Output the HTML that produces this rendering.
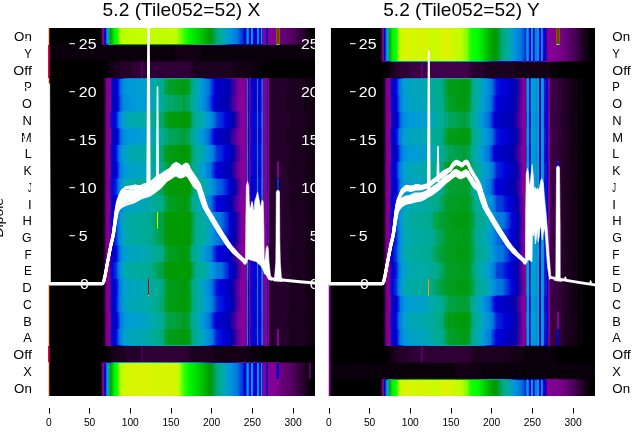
<!DOCTYPE html>
<html><head><meta charset="utf-8"><title>chart</title>
<style>
html,body{margin:0;padding:0;background:#fff}
body{width:640px;height:440px;position:relative;overflow:hidden;font-family:"Liberation Sans",sans-serif;color:#000}
.hm{position:absolute;width:267px;height:368px;overflow:hidden;background:#000}
.hm i{position:absolute;left:0;width:267px;display:block}
svg{position:absolute;left:0;top:0}
.t{position:absolute;white-space:nowrap;line-height:1}
</style></head><body>
<div class="hm" style="left:48px;top:28px"><i style="top:0px;height:16px;background:linear-gradient(90deg,#e4f100 0.5px,#7d008e 1.5px,#000 2.5px,#000 52.5px,#25002b 53.5px,#708 54.5px,#860097 55.5px,#0d00a8 56.5px,#00d 57.5px,#0078dd 58.5px,#0098dd 59.5px,#00aaa0 60.5px,#009f00 62.5px,#00f700 66.5px,#0f0 67.5px,#0fff00 68.5px,#0fff00 69.5px,#58ff00 70.5px,#93ff00 71.5px,#b0ff00 72.5px,#b0ff00 73.5px,#bcff00 74.5px,#bcff00 78.5px,#c4fc00 84.5px,#c4fc00 102.5px,#c0fd00 106.5px,#bcff00 108.5px,#c0fd00 112.5px,#c0fd00 116.5px,#c4fc00 120.5px,#c4fc00 124.5px,#bcff00 128.5px,#b0ff00 129.5px,#93ff00 130.5px,#75ff00 132.5px,#75ff00 133.5px,#58ff00 134.5px,#49ff00 135.5px,#2cff00 136.5px,#2cff00 137.5px,#00fc00 140.5px,#00bc00 155.5px,#009c00 161.5px,#009a08 162.5px,#009d1d 163.5px,#009e28 164.5px,#00a13d 165.5px,#00a248 166.5px,#0a8 169.5px,#00aaa8 175.5px,#009bd7 180.5px,#0095dd 182.5px,#0078dd 189.5px,#0067dd 190.5px,#005ddd 191.5px,#004bdd 192.5px,#0038dd 194.5px,#001cdd 195.5px,#0000d5 196.5px,#0000c5 197.5px,#005ddd 198.5px,#0098dd 199.5px,#0078dd 200.5px,#00d 201.5px,#00d 202.5px,#0098dd 203.5px,#0092dd 204.5px,#00d 205.5px,#00d 208.5px,#0098dd 209.5px,#08d 210.5px,#00d 211.5px,#00d 212.5px,#0098dd 213.5px,#0038dd 214.5px,#870098 215.5px,#860097 217.5px,#3800a3 218.5px,#0000c9 219.5px,#850096 220.5px,#820093 227.5px,#009f00 228.5px,#f10000 229.5px,#f10000 230.5px,#009d1d 231.5px,#700080 232.5px,#670075 233.5px,#670075 237.5px,#5d006b 238.5px,#5d006b 241.5px,#540060 242.5px,#540060 244.5px,#4b0055 245.5px,#4b0055 247.5px,#41004b 248.5px,#41004b 249.5px,#380040 250.5px,#380040 251.5px,#2f0035 252.5px,#2f0035 254.5px,#25002b 255.5px,#25002b 256.5px,#1c0020 257.5px,#1c0020 258.5px,#130015 259.5px,#130015 260.5px,#09000b 261.5px,#09000b 262.5px,#000 263.5px,#000 266.5px)"></i><i style="top:16px;height:1px;background:linear-gradient(90deg,#f9d700 0.5px,#7d008e 1.5px,#000 2.5px,#000 52.5px,#1c0020 53.5px,#5d006b 54.5px,#7e008f 55.5px,#6d009c 56.5px,#0d00a8 57.5px,#0000cd 58.5px,#002fdd 59.5px,#0082dd 60.5px,#009bd7 61.5px,#00a6b7 62.5px,#00aa95 64.5px,#00a773 65.5px,#00a13d 66.5px,#009d1d 67.5px,#009d1d 68.5px,#009b13 69.5px,#009c00 70.5px,#00a700 72.5px,#00af00 91.5px,#00ac00 115.5px,#00ac00 127.5px,#009a00 135.5px,#009a08 136.5px,#009a08 137.5px,#00a353 144.5px,#00a668 145.5px,#0a8 148.5px,#00aaa5 157.5px,#009fcb 164.5px,#0098dd 168.5px,#0082dd 174.5px,#0078dd 176.5px,#0054dd 178.5px,#004bdd 179.5px,#0038dd 180.5px,#001cdd 183.5px,#0009dd 184.5px,#00d 185.5px,#0000bd 193.5px,#0000ad 195.5px,#1800a7 196.5px,#3800a3 197.5px,#0000c5 198.5px,#002fdd 199.5px,#0000cd 200.5px,#0d00a8 201.5px,#0d00a8 202.5px,#002fdd 203.5px,#001cdd 204.5px,#0d00a8 205.5px,#0d00a8 208.5px,#002fdd 209.5px,#00d 210.5px,#0d00a8 211.5px,#0d00a8 212.5px,#002fdd 213.5px,#0000b9 214.5px,#7e008f 215.5px,#7e008f 217.5px,#870098 218.5px,#2d00a4 219.5px,#7d008e 220.5px,#7b008c 227.5px,#00a6b7 228.5px,#84ff00 229.5px,#84ff00 230.5px,#00a0c7 231.5px,#540060 232.5px,#540060 233.5px,#4b0055 234.5px,#4b0055 239.5px,#41004b 240.5px,#41004b 244.5px,#380040 245.5px,#380040 248.5px,#2f0035 249.5px,#2f0035 251.5px,#25002b 252.5px,#25002b 254.5px,#1c0020 255.5px,#1c0020 257.5px,#130015 258.5px,#130015 260.5px,#09000b 261.5px,#09000b 263.5px,#000 264.5px,#000 266.5px)"></i><i style="top:17px;height:16px;background:linear-gradient(90deg,#fe0000 0.5px,#7d008e 1.5px,#09000b 2.5px,#09000b 126.5px,#130015 127.5px,#130015 152.5px,#09000b 153.5px,#09000b 266.5px)"></i><i style="top:33px;height:1px;background:linear-gradient(90deg,#fe0000 0.5px,#7d008e 1.5px,#000 2.5px,#000 58.5px,#09000b 59.5px,#09000b 62.5px,#130015 63.5px,#130015 71.5px,#1c0020 72.5px,#1c0020 92.5px,#2f0035 93.5px,#2f0035 94.5px,#1c0020 95.5px,#1c0020 127.5px,#25002b 128.5px,#25002b 139.5px,#1c0020 140.5px,#1c0020 145.5px,#130015 146.5px,#130015 202.5px,#09000b 203.5px,#09000b 219.5px,#000 220.5px,#000 266.5px)"></i><i style="top:34px;height:16px;background:linear-gradient(90deg,#fe0000 0.5px,#7d008e 1.5px,#000 2.5px,#000 59.5px,#09000b 60.5px,#09000b 61.5px,#130015 62.5px,#130015 65.5px,#1c0020 66.5px,#1c0020 71.5px,#25002b 72.5px,#25002b 83.5px,#2f0035 84.5px,#2f0035 92.5px,#4b0055 93.5px,#4b0055 94.5px,#2f0035 95.5px,#2f0035 141.5px,#25002b 142.5px,#25002b 144.5px,#1c0020 145.5px,#1c0020 186.5px,#130015 187.5px,#130015 204.5px,#09000b 205.5px,#09000b 214.5px,#000 215.5px,#000 266.5px)"></i><i style="top:50px;height:1px;background:linear-gradient(90deg,#f5df00 0.5px,#7d008e 1.5px,#000 2.5px,#000 54.5px,#09000b 55.5px,#41004b 57.5px,#670075 58.5px,#79008a 59.5px,#850096 62.5px,#4d00a0 63.5px,#2300a6 64.5px,#0d00a8 65.5px,#0300aa 66.5px,#0000b1 68.5px,#0000d5 71.5px,#0009dd 72.5px,#002fdd 74.5px,#0067dd 76.5px,#0067dd 78.5px,#0078dd 80.5px,#007ddd 85.5px,#007ddd 91.5px,#0085dd 99.5px,#008ddd 103.5px,#009adb 107.5px,#00a2c3 113.5px,#00a3bf 115.5px,#00aaab 117.5px,#00aaa3 121.5px,#00aaa3 128.5px,#00aa9d 136.5px,#00aaa5 141.5px,#00aaab 142.5px,#00a0c7 144.5px,#009cd3 146.5px,#0098dd 147.5px,#007add 153.5px,#0067dd 155.5px,#001cdd 159.5px,#0000d9 162.5px,#0000ad 168.5px,#0300aa 171.5px,#0d00a8 172.5px,#0d00a8 173.5px,#1800a7 174.5px,#1800a7 175.5px,#2d00a4 177.5px,#2d00a4 179.5px,#4300a2 181.5px,#58009f 182.5px,#83009a 186.5px,#860097 188.5px,#7e008f 198.5px,#0025dd 199.5px,#0000b1 200.5px,#7e008f 201.5px,#83009a 202.5px,#0300aa 203.5px,#0000ad 208.5px,#002fdd 209.5px,#0000bd 210.5px,#0300aa 211.5px,#0000ad 212.5px,#0000d5 213.5px,#0009dd 214.5px,#7e008f 215.5px,#7e008f 218.5px,#78009b 219.5px,#7d008e 220.5px,#1c0020 221.5px,#1c0020 245.5px,#130015 246.5px,#130015 263.5px,#09000b 264.5px,#09000b 266.5px)"></i><i style="top:51px;height:15px;background:linear-gradient(90deg,#e4f100 0.5px,#7d008e 1.5px,#000 2.5px,#000 54.5px,#130015 55.5px,#4b0055 57.5px,#708 58.5px,#860097 61.5px,#78009b 62.5px,#0d00a8 63.5px,#0000bd 64.5px,#0000d5 68.5px,#0009dd 69.5px,#0025dd 70.5px,#0070dd 72.5px,#008ddd 75.5px,#009adb 80.5px,#009cd3 84.5px,#009cd3 89.5px,#009ecf 93.5px,#00a0c7 98.5px,#00a4bb 102.5px,#00aaab 104.5px,#00aa8d 113.5px,#0a8 115.5px,#00a248 117.5px,#00a248 118.5px,#00a13d 119.5px,#009e28 120.5px,#009e28 122.5px,#009f33 123.5px,#009f33 124.5px,#009d1d 125.5px,#009d1d 126.5px,#009e28 127.5px,#009d1d 128.5px,#009d1d 129.5px,#009b13 130.5px,#009d1d 131.5px,#009d1d 132.5px,#009b13 133.5px,#009b13 137.5px,#009d1d 138.5px,#009d1d 140.5px,#009e28 141.5px,#00a97d 143.5px,#00aa8d 144.5px,#00aaa8 148.5px,#00a7b3 149.5px,#00a6b7 150.5px,#009bd7 153.5px,#0090dd 156.5px,#0078dd 160.5px,#0067dd 161.5px,#005ddd 162.5px,#0041dd 163.5px,#0009dd 166.5px,#0000d5 167.5px,#0000c9 169.5px,#0000c1 174.5px,#0000b5 178.5px,#0000b1 180.5px,#0300aa 181.5px,#1800a7 182.5px,#4300a2 186.5px,#58009f 187.5px,#83009a 191.5px,#860097 193.5px,#830094 198.5px,#0080dd 199.5px,#0000d5 200.5px,#830094 201.5px,#4300a2 202.5px,#0000cd 203.5px,#0000d1 207.5px,#0000cd 208.5px,#0082dd 209.5px,#0009dd 210.5px,#0000cd 211.5px,#0000cd 212.5px,#0054dd 213.5px,#0070dd 214.5px,#830094 215.5px,#830094 218.5px,#4300a2 219.5px,#810092 220.5px,#25002b 221.5px,#25002b 238.5px,#1c0020 239.5px,#1c0020 256.5px,#130015 257.5px,#130015 266.5px)"></i><i style="top:66px;height:1px;background:linear-gradient(90deg,#e4f100 0.5px,#7d008e 1.5px,#000 2.5px,#000 54.5px,#130015 55.5px,#4b0055 57.5px,#708 58.5px,#860097 61.5px,#78009b 62.5px,#0d00a8 63.5px,#0000bd 64.5px,#0000d5 68.5px,#0009dd 69.5px,#0025dd 70.5px,#0070dd 72.5px,#0092dd 76.5px,#009bd7 83.5px,#009cd3 87.5px,#009fcb 97.5px,#00a6b7 103.5px,#00aaa5 106.5px,#00aa90 113.5px,#00aa8b 115.5px,#00a668 116.5px,#00a353 117.5px,#00a353 118.5px,#00a248 119.5px,#009f33 120.5px,#009e28 121.5px,#009f33 122.5px,#009f33 124.5px,#009e28 125.5px,#009e28 128.5px,#009d1d 129.5px,#009d1d 133.5px,#009b13 134.5px,#009b13 136.5px,#009d1d 137.5px,#009d1d 139.5px,#009f33 141.5px,#00a353 142.5px,#00a97d 143.5px,#00aa8d 144.5px,#00a6b7 150.5px,#009bd7 153.5px,#0095dd 155.5px,#007ddd 159.5px,#0078dd 160.5px,#001cdd 165.5px,#00d 166.5px,#0000c9 169.5px,#0000bd 175.5px,#0000b5 178.5px,#0000b1 180.5px,#0300aa 181.5px,#1800a7 182.5px,#4300a2 186.5px,#58009f 187.5px,#83009a 191.5px,#860097 193.5px,#830094 198.5px,#0080dd 199.5px,#0000d5 200.5px,#830094 201.5px,#4300a2 202.5px,#0000cd 203.5px,#0000d1 207.5px,#0000cd 208.5px,#0082dd 209.5px,#0009dd 210.5px,#0000cd 211.5px,#0000cd 212.5px,#004bdd 213.5px,#0070dd 214.5px,#830094 215.5px,#830094 218.5px,#4300a2 219.5px,#810092 220.5px,#25002b 221.5px,#25002b 238.5px,#1c0020 239.5px,#1c0020 256.5px,#130015 257.5px,#130015 266.5px)"></i><i style="top:67px;height:16px;background:linear-gradient(90deg,#e4f100 0.5px,#7d008e 1.5px,#000 2.5px,#000 54.5px,#130015 55.5px,#4b0055 57.5px,#708 58.5px,#860097 61.5px,#83009a 62.5px,#1800a7 63.5px,#0000b5 64.5px,#0000c5 66.5px,#0000c5 67.5px,#0000d9 69.5px,#0013dd 70.5px,#005ddd 72.5px,#007ddd 74.5px,#008ddd 76.5px,#009adb 85.5px,#009adb 89.5px,#009bd7 91.5px,#009adb 93.5px,#009cd3 98.5px,#00a0c7 100.5px,#00a0c7 102.5px,#00a7b3 105.5px,#00aaa8 107.5px,#00aa9b 113.5px,#00aa95 115.5px,#00a97d 117.5px,#0a8 118.5px,#00a97d 119.5px,#00a668 120.5px,#00a668 122.5px,#00a773 123.5px,#00a773 124.5px,#00a55d 125.5px,#00a55d 126.5px,#00a668 127.5px,#00a668 128.5px,#00a353 129.5px,#00a353 130.5px,#00a55d 131.5px,#00a55d 132.5px,#00a13d 135.5px,#00a353 137.5px,#00a353 138.5px,#00a55d 139.5px,#00a55d 140.5px,#00a668 141.5px,#00aa90 143.5px,#00aaab 147.5px,#00a3bf 149.5px,#009fcb 151.5px,#0098dd 153.5px,#0082dd 157.5px,#0067dd 160.5px,#0009dd 165.5px,#0000d9 166.5px,#0000c5 168.5px,#0000b9 174.5px,#0000b1 177.5px,#0300aa 180.5px,#0d00a8 181.5px,#2300a6 182.5px,#2d00a4 183.5px,#4300a2 184.5px,#4300a2 185.5px,#4d00a0 186.5px,#63009e 187.5px,#83009a 190.5px,#860097 192.5px,#820093 198.5px,#007add 199.5px,#0000d1 200.5px,#820093 201.5px,#4d00a0 202.5px,#0000c9 203.5px,#0000cd 207.5px,#0000cd 208.5px,#0082dd 209.5px,#00d 210.5px,#0000c9 211.5px,#0000cd 212.5px,#004bdd 213.5px,#0067dd 214.5px,#830094 215.5px,#830094 218.5px,#4300a2 219.5px,#810092 220.5px,#25002b 221.5px,#25002b 237.5px,#1c0020 238.5px,#1c0020 255.5px,#130015 256.5px,#130015 266.5px)"></i><i style="top:83px;height:1px;background:linear-gradient(90deg,#e4f100 0.5px,#7d008e 1.5px,#000 2.5px,#000 54.5px,#130015 55.5px,#4b0055 57.5px,#708 58.5px,#870098 61.5px,#6d009c 62.5px,#0300aa 63.5px,#0000c1 64.5px,#0000d9 68.5px,#0013dd 69.5px,#0038dd 70.5px,#0054dd 71.5px,#0078dd 72.5px,#0098dd 76.5px,#009fcb 85.5px,#009fcb 89.5px,#00a0c7 93.5px,#00a3bf 98.5px,#00a8af 103.5px,#00aa9d 107.5px,#00aa95 111.5px,#00aa90 113.5px,#00aa8b 115.5px,#00a55d 117.5px,#00a55d 118.5px,#00a248 120.5px,#00a248 122.5px,#00a353 123.5px,#00a248 124.5px,#00a248 125.5px,#00a13d 126.5px,#00a248 127.5px,#00a248 128.5px,#00a13d 129.5px,#00a13d 132.5px,#009f33 133.5px,#009f33 134.5px,#009e28 135.5px,#009e28 136.5px,#00a13d 138.5px,#00a13d 140.5px,#00a248 141.5px,#00a55d 142.5px,#0a8 143.5px,#00a7b3 150.5px,#00a0c7 152.5px,#0098dd 156.5px,#08d 158.5px,#0078dd 162.5px,#005ddd 163.5px,#0038dd 165.5px,#001cdd 166.5px,#0009dd 167.5px,#0000d9 168.5px,#0000c5 176.5px,#0000b9 180.5px,#0300aa 182.5px,#1800a7 183.5px,#3800a3 186.5px,#4d00a0 187.5px,#78009b 191.5px,#870098 192.5px,#830094 198.5px,#0082dd 199.5px,#0000d5 200.5px,#830094 201.5px,#4300a2 202.5px,#0000cd 203.5px,#0000d1 208.5px,#0085dd 209.5px,#0009dd 210.5px,#0000cd 211.5px,#0000cd 212.5px,#0054dd 213.5px,#0070dd 214.5px,#830094 215.5px,#830094 218.5px,#3800a3 219.5px,#810092 220.5px,#25002b 221.5px,#25002b 238.5px,#1c0020 239.5px,#1c0020 256.5px,#130015 257.5px,#130015 266.5px)"></i><i style="top:84px;height:16px;background:linear-gradient(90deg,#e4f100 0.5px,#7d008e 1.5px,#000 2.5px,#000 54.5px,#130015 55.5px,#2f0035 56.5px,#79008a 58.5px,#850096 60.5px,#78009b 61.5px,#4d00a0 62.5px,#0000b5 63.5px,#0000d1 64.5px,#00d 66.5px,#0009dd 67.5px,#001cdd 68.5px,#0067dd 70.5px,#007ddd 71.5px,#0098dd 74.5px,#00a2c3 76.5px,#00a8af 83.5px,#00aaab 85.5px,#00a8af 88.5px,#00aaa8 91.5px,#00aaa8 94.5px,#00aaa3 98.5px,#00aa98 103.5px,#0a8 109.5px,#00a668 112.5px,#00a668 113.5px,#00a773 114.5px,#00a55d 115.5px,#00a13d 116.5px,#009e28 117.5px,#009e28 118.5px,#009b13 120.5px,#009b13 124.5px,#009a08 125.5px,#009a08 126.5px,#009b13 127.5px,#009b13 128.5px,#009a08 129.5px,#009a08 133.5px,#009a00 134.5px,#009a00 136.5px,#009a08 137.5px,#009a08 140.5px,#009b13 141.5px,#009e28 142.5px,#00a353 143.5px,#00a773 144.5px,#00aa93 147.5px,#00aa9d 149.5px,#00aaa3 151.5px,#00a4bb 156.5px,#009cd3 158.5px,#0098dd 160.5px,#0082dd 164.5px,#0070dd 166.5px,#005ddd 167.5px,#0041dd 168.5px,#0038dd 169.5px,#0038dd 170.5px,#002fdd 171.5px,#002fdd 172.5px,#0025dd 173.5px,#0025dd 174.5px,#001cdd 175.5px,#0009dd 176.5px,#00d 177.5px,#0000d9 179.5px,#0000b5 183.5px,#0300aa 185.5px,#0d00a8 186.5px,#4d00a0 189.5px,#63009e 191.5px,#78009b 192.5px,#83009a 193.5px,#860097 196.5px,#860097 198.5px,#008ddd 199.5px,#0009dd 200.5px,#850096 201.5px,#3800a3 202.5px,#0000d5 203.5px,#0000d5 208.5px,#08d 209.5px,#0013dd 210.5px,#0000d1 211.5px,#0000d5 212.5px,#005ddd 213.5px,#007add 214.5px,#850096 215.5px,#850096 218.5px,#2d00a4 219.5px,#820093 220.5px,#25002b 221.5px,#25002b 242.5px,#1c0020 243.5px,#1c0020 257.5px,#130015 258.5px,#130015 266.5px)"></i><i style="top:100px;height:1px;background:linear-gradient(90deg,#e4f100 0.5px,#7d008e 1.5px,#000 2.5px,#000 54.5px,#130015 55.5px,#2f0035 56.5px,#79008a 58.5px,#870098 61.5px,#6d009c 62.5px,#0300aa 63.5px,#0000c1 64.5px,#0000d1 66.5px,#0000d1 67.5px,#0000d9 68.5px,#0038dd 70.5px,#005ddd 71.5px,#007add 72.5px,#009adb 76.5px,#009adb 78.5px,#009ecf 80.5px,#009fcb 83.5px,#00a0c7 85.5px,#009fcb 88.5px,#00a2c3 91.5px,#00a3bf 97.5px,#00aa9d 107.5px,#00aa90 113.5px,#00aa8b 115.5px,#00a668 116.5px,#00a55d 117.5px,#00a55d 118.5px,#00a353 119.5px,#00a13d 120.5px,#00a13d 122.5px,#00a248 123.5px,#00a248 124.5px,#00a13d 125.5px,#00a13d 128.5px,#009f33 129.5px,#009f33 133.5px,#009d1d 135.5px,#009d1d 136.5px,#009f33 138.5px,#009f33 139.5px,#00a13d 140.5px,#00a13d 141.5px,#00a55d 142.5px,#0a8 143.5px,#00aaa0 147.5px,#00a6b7 151.5px,#009fcb 153.5px,#009adb 156.5px,#0085dd 159.5px,#0078dd 162.5px,#0054dd 164.5px,#0038dd 165.5px,#0000d9 168.5px,#0000d1 173.5px,#0000c1 177.5px,#0000c1 179.5px,#0300aa 182.5px,#0d00a8 183.5px,#2300a6 184.5px,#4300a2 187.5px,#58009f 188.5px,#83009a 192.5px,#830094 198.5px,#0082dd 199.5px,#0000d9 200.5px,#830094 201.5px,#4300a2 202.5px,#0000cd 203.5px,#0000d1 207.5px,#0000d1 208.5px,#0085dd 209.5px,#0009dd 210.5px,#0000cd 211.5px,#0000d1 212.5px,#0054dd 213.5px,#0070dd 214.5px,#830094 215.5px,#830094 218.5px,#3800a3 219.5px,#820093 220.5px,#25002b 221.5px,#25002b 238.5px,#1c0020 239.5px,#1c0020 256.5px,#130015 257.5px,#130015 266.5px)"></i><i style="top:101px;height:16px;background:linear-gradient(90deg,#e4f100 0.5px,#7d008e 1.5px,#000 2.5px,#000 54.5px,#130015 55.5px,#4b0055 57.5px,#708 58.5px,#860097 61.5px,#78009b 62.5px,#1800a7 63.5px,#0000b9 64.5px,#0000d1 68.5px,#00d 69.5px,#001cdd 70.5px,#0067dd 72.5px,#0078dd 73.5px,#0090dd 76.5px,#009adb 83.5px,#009bd7 87.5px,#009ecf 97.5px,#00a4bb 103.5px,#00aaa5 107.5px,#00aa98 113.5px,#00aa93 115.5px,#0a8 116.5px,#00a773 117.5px,#00a97d 118.5px,#00a773 119.5px,#00a55d 120.5px,#00a353 121.5px,#00a55d 122.5px,#00a55d 124.5px,#00a353 125.5px,#00a353 126.5px,#00a55d 127.5px,#00a248 129.5px,#00a248 133.5px,#009f33 135.5px,#009f33 136.5px,#00a353 139.5px,#00a353 140.5px,#00a55d 141.5px,#00a97d 142.5px,#00aa8d 143.5px,#00aaa8 147.5px,#00a4bb 149.5px,#00a0c7 151.5px,#009adb 153.5px,#008ddd 156.5px,#007ddd 158.5px,#007add 159.5px,#0070dd 160.5px,#005ddd 161.5px,#0054dd 162.5px,#0038dd 163.5px,#00d 166.5px,#0000c9 168.5px,#0000bd 174.5px,#0000b5 177.5px,#0000ad 180.5px,#1800a7 182.5px,#2d00a4 183.5px,#83009a 191.5px,#860097 193.5px,#830094 198.5px,#007ddd 199.5px,#0000d1 200.5px,#830094 201.5px,#4d00a0 202.5px,#0000c9 203.5px,#0000d1 206.5px,#0000cd 208.5px,#0082dd 209.5px,#0009dd 210.5px,#0000cd 211.5px,#0000cd 212.5px,#004bdd 213.5px,#0070dd 214.5px,#830094 215.5px,#830094 218.5px,#4300a2 219.5px,#810092 220.5px,#25002b 221.5px,#25002b 237.5px,#1c0020 238.5px,#1c0020 255.5px,#130015 256.5px,#130015 266.5px)"></i><i style="top:117px;height:1px;background:linear-gradient(90deg,#e4f100 0.5px,#7d008e 1.5px,#000 2.5px,#000 54.5px,#130015 55.5px,#2f0035 56.5px,#79008a 58.5px,#850096 60.5px,#78009b 61.5px,#58009f 62.5px,#0000b5 63.5px,#0000cd 64.5px,#00d 66.5px,#0009dd 67.5px,#001cdd 68.5px,#0038dd 69.5px,#005ddd 70.5px,#007add 71.5px,#0095dd 74.5px,#00a0c7 76.5px,#00a0c7 78.5px,#00a4bb 80.5px,#00a7b3 86.5px,#00a8af 94.5px,#00aaa8 98.5px,#00aaa0 101.5px,#0a8 111.5px,#00a773 112.5px,#00a773 113.5px,#00a97d 114.5px,#00a668 115.5px,#00a248 116.5px,#009f33 117.5px,#009f33 118.5px,#009b13 121.5px,#009d1d 122.5px,#009d1d 124.5px,#009b13 125.5px,#009b13 133.5px,#009a08 134.5px,#009a08 137.5px,#009b13 138.5px,#009b13 140.5px,#009d1d 141.5px,#009f33 142.5px,#00a55d 143.5px,#00a97d 144.5px,#00aa9d 148.5px,#00aaa5 151.5px,#00a4bb 154.5px,#00a2c3 156.5px,#009bd7 158.5px,#0092dd 160.5px,#008add 162.5px,#0078dd 165.5px,#005ddd 166.5px,#004bdd 167.5px,#002fdd 168.5px,#0025dd 169.5px,#0025dd 171.5px,#001cdd 172.5px,#001cdd 173.5px,#0000d9 176.5px,#0000cd 180.5px,#0000b1 183.5px,#0000ad 184.5px,#1800a7 186.5px,#4300a2 188.5px,#58009f 190.5px,#6d009c 191.5px,#83009a 193.5px,#860097 196.5px,#850096 198.5px,#008add 199.5px,#00d 200.5px,#850096 201.5px,#3800a3 202.5px,#0000d1 203.5px,#0000d5 207.5px,#0000d5 208.5px,#08d 209.5px,#0013dd 210.5px,#0000d1 211.5px,#0000d1 212.5px,#005ddd 213.5px,#007add 214.5px,#850096 215.5px,#850096 218.5px,#3800a3 219.5px,#820093 220.5px,#25002b 221.5px,#25002b 241.5px,#1c0020 242.5px,#1c0020 257.5px,#130015 258.5px,#130015 266.5px)"></i><i style="top:118px;height:15px;background:linear-gradient(90deg,#e4f100 0.5px,#7d008e 1.5px,#000 2.5px,#000 54.5px,#130015 55.5px,#2f0035 56.5px,#79008a 58.5px,#850096 60.5px,#78009b 61.5px,#58009f 62.5px,#0000b5 63.5px,#0000cd 64.5px,#00d 66.5px,#0009dd 67.5px,#001cdd 68.5px,#0041dd 69.5px,#007ddd 71.5px,#0098dd 74.5px,#00a2c3 76.5px,#00a2c3 78.5px,#00a6b7 80.5px,#00a8af 86.5px,#00aaa5 98.5px,#00aa9b 103.5px,#00aa8b 108.5px,#0a8 110.5px,#00a773 112.5px,#00a773 114.5px,#00a55d 115.5px,#00a13d 116.5px,#009e28 117.5px,#009e28 118.5px,#009b13 120.5px,#009b13 125.5px,#009a08 126.5px,#009b13 127.5px,#009b13 128.5px,#009a08 129.5px,#009a08 133.5px,#009a00 134.5px,#009a00 136.5px,#009a08 137.5px,#009a08 139.5px,#009b13 140.5px,#009b13 141.5px,#009e28 142.5px,#00a353 143.5px,#00a773 144.5px,#00aa93 147.5px,#00aa9d 149.5px,#00aaa3 151.5px,#00a4bb 155.5px,#00a3bf 156.5px,#009adb 159.5px,#08d 163.5px,#007add 165.5px,#0054dd 167.5px,#0038dd 168.5px,#002fdd 169.5px,#002fdd 171.5px,#0025dd 172.5px,#0025dd 173.5px,#0013dd 175.5px,#00d 176.5px,#0000d1 180.5px,#0000ad 184.5px,#0300aa 185.5px,#2d00a4 187.5px,#3800a3 188.5px,#4d00a0 189.5px,#63009e 191.5px,#78009b 192.5px,#83009a 193.5px,#860097 196.5px,#860097 198.5px,#008ddd 199.5px,#0009dd 200.5px,#850096 201.5px,#3800a3 202.5px,#0000d5 203.5px,#0000d5 208.5px,#08d 209.5px,#0013dd 210.5px,#0000d1 211.5px,#0000d5 212.5px,#005ddd 213.5px,#007add 214.5px,#850096 215.5px,#850096 218.5px,#3800a3 219.5px,#820093 220.5px,#25002b 221.5px,#25002b 241.5px,#1c0020 242.5px,#1c0020 257.5px,#130015 258.5px,#130015 266.5px)"></i><i style="top:133px;height:1px;background:linear-gradient(90deg,#e4f100 0.5px,#7d008e 1.5px,#000 2.5px,#000 54.5px,#130015 55.5px,#2f0035 56.5px,#79008a 58.5px,#850096 60.5px,#78009b 61.5px,#58009f 62.5px,#0000b5 63.5px,#0000cd 64.5px,#00d 66.5px,#0009dd 67.5px,#001cdd 68.5px,#0038dd 69.5px,#005ddd 70.5px,#007add 71.5px,#0095dd 74.5px,#00a0c7 76.5px,#00a0c7 78.5px,#00a4bb 80.5px,#00a7b3 86.5px,#00a8af 94.5px,#00aaa8 98.5px,#00aaa0 101.5px,#0a8 111.5px,#00a773 112.5px,#00a773 113.5px,#00a97d 114.5px,#00a668 115.5px,#00a248 116.5px,#009f33 117.5px,#009f33 118.5px,#009d1d 119.5px,#009b13 120.5px,#009b13 122.5px,#009d1d 123.5px,#009d1d 124.5px,#009b13 125.5px,#009b13 128.5px,#009a08 129.5px,#009a08 134.5px,#009a00 135.5px,#009a00 136.5px,#009a08 137.5px,#009a08 138.5px,#009b13 139.5px,#009b13 140.5px,#009d1d 141.5px,#009f33 142.5px,#00a55d 143.5px,#00a97d 144.5px,#00aa9d 148.5px,#00aaa5 151.5px,#00a4bb 154.5px,#00a2c3 156.5px,#009adb 158.5px,#008add 162.5px,#007ddd 164.5px,#005ddd 166.5px,#004bdd 167.5px,#002fdd 168.5px,#0025dd 169.5px,#0025dd 170.5px,#001cdd 171.5px,#001cdd 172.5px,#0009dd 174.5px,#0009dd 175.5px,#0000d9 176.5px,#0000cd 180.5px,#0000b1 183.5px,#0300aa 184.5px,#1800a7 186.5px,#4300a2 188.5px,#58009f 190.5px,#6d009c 191.5px,#83009a 193.5px,#860097 196.5px,#850096 198.5px,#008add 199.5px,#00d 200.5px,#850096 201.5px,#3800a3 202.5px,#0000d1 203.5px,#0000d5 207.5px,#0000d5 208.5px,#08d 209.5px,#0013dd 210.5px,#0000d1 211.5px,#0000d1 212.5px,#005ddd 213.5px,#007add 214.5px,#850096 215.5px,#850096 218.5px,#3800a3 219.5px,#820093 220.5px,#25002b 221.5px,#25002b 228.5px,#41004b 229.5px,#41004b 230.5px,#25002b 231.5px,#25002b 241.5px,#1c0020 242.5px,#1c0020 257.5px,#130015 258.5px,#130015 266.5px)"></i><i style="top:134px;height:16px;background:linear-gradient(90deg,#e4f100 0.5px,#7d008e 1.5px,#000 2.5px,#000 54.5px,#130015 55.5px,#2f0035 56.5px,#79008a 58.5px,#870098 61.5px,#63009e 62.5px,#0000ad 63.5px,#0000c5 64.5px,#00d 68.5px,#001cdd 69.5px,#0067dd 71.5px,#007ddd 72.5px,#0095dd 75.5px,#009bd7 77.5px,#00a0c7 82.5px,#00a3bf 94.5px,#00a6b7 98.5px,#00aa98 107.5px,#00aa8d 113.5px,#0a8 115.5px,#00a668 116.5px,#00a353 117.5px,#00a353 118.5px,#009e28 120.5px,#009e28 122.5px,#009f33 123.5px,#009f33 124.5px,#009d1d 126.5px,#009e28 127.5px,#009e28 128.5px,#009d1d 129.5px,#009d1d 133.5px,#009b13 134.5px,#009b13 137.5px,#009d1d 138.5px,#009d1d 139.5px,#009f33 141.5px,#00a353 142.5px,#00a97d 143.5px,#00aa8d 144.5px,#00aa9d 147.5px,#00a6b7 151.5px,#00a2c3 152.5px,#009adb 156.5px,#0085dd 159.5px,#0078dd 162.5px,#0067dd 163.5px,#004bdd 164.5px,#0025dd 166.5px,#0009dd 167.5px,#0000d9 168.5px,#0000c5 176.5px,#0000b9 180.5px,#0300aa 182.5px,#0d00a8 183.5px,#2300a6 184.5px,#4300a2 187.5px,#58009f 188.5px,#83009a 192.5px,#860097 195.5px,#850096 198.5px,#0085dd 199.5px,#0000d9 200.5px,#830094 201.5px,#4300a2 202.5px,#0000cd 203.5px,#0000d1 207.5px,#0000d1 208.5px,#0085dd 209.5px,#0009dd 210.5px,#0000cd 211.5px,#0000d1 212.5px,#0054dd 213.5px,#0078dd 214.5px,#830094 215.5px,#830094 218.5px,#3800a3 219.5px,#820093 220.5px,#25002b 221.5px,#25002b 228.5px,#810092 229.5px,#810092 230.5px,#25002b 231.5px,#25002b 239.5px,#1c0020 240.5px,#1c0020 256.5px,#130015 257.5px,#130015 266.5px)"></i><i style="top:150px;height:1px;background:linear-gradient(90deg,#e4f100 0.5px,#7d008e 1.5px,#000 2.5px,#000 54.5px,#130015 55.5px,#2f0035 56.5px,#79008a 58.5px,#850096 60.5px,#78009b 61.5px,#58009f 62.5px,#0000b5 63.5px,#0000cd 64.5px,#00d 66.5px,#0009dd 67.5px,#001cdd 68.5px,#0038dd 69.5px,#005ddd 70.5px,#007add 71.5px,#0095dd 74.5px,#00a0c7 76.5px,#00a0c7 78.5px,#00a4bb 80.5px,#00a7b3 86.5px,#00a8af 94.5px,#00aa9d 103.5px,#00aa8d 109.5px,#0a8 111.5px,#00a773 112.5px,#00a773 113.5px,#00a97d 114.5px,#00a668 115.5px,#00a248 116.5px,#009f33 117.5px,#009f33 118.5px,#009b13 121.5px,#009d1d 122.5px,#009d1d 124.5px,#009b13 125.5px,#009b13 126.5px,#009d1d 127.5px,#009a08 129.5px,#009a08 130.5px,#009b13 131.5px,#009b13 132.5px,#009a08 133.5px,#009a08 134.5px,#009a00 135.5px,#009a08 136.5px,#009a08 138.5px,#009b13 139.5px,#009b13 140.5px,#009d1d 141.5px,#009f33 142.5px,#00a55d 143.5px,#00a97d 144.5px,#00aa9d 148.5px,#00aaa5 151.5px,#00a4bb 154.5px,#00a2c3 156.5px,#009adb 158.5px,#008add 162.5px,#007ddd 164.5px,#005ddd 166.5px,#004bdd 167.5px,#002fdd 168.5px,#0025dd 169.5px,#0025dd 170.5px,#001cdd 171.5px,#001cdd 172.5px,#0009dd 174.5px,#0009dd 175.5px,#0000d9 176.5px,#0000cd 180.5px,#0000b1 183.5px,#0300aa 184.5px,#1800a7 186.5px,#4300a2 188.5px,#58009f 190.5px,#6d009c 191.5px,#83009a 193.5px,#860097 196.5px,#850096 198.5px,#008add 199.5px,#00d 200.5px,#850096 201.5px,#3800a3 202.5px,#0000d1 203.5px,#0000d5 207.5px,#0000d5 208.5px,#08d 209.5px,#0013dd 210.5px,#0000d1 211.5px,#0000d1 212.5px,#005ddd 213.5px,#007add 214.5px,#850096 215.5px,#850096 218.5px,#3800a3 219.5px,#820093 220.5px,#25002b 221.5px,#25002b 228.5px,#1800a7 229.5px,#1800a7 230.5px,#25002b 231.5px,#25002b 241.5px,#1c0020 242.5px,#1c0020 257.5px,#130015 258.5px,#130015 266.5px)"></i><i style="top:151px;height:16px;background:linear-gradient(90deg,#e4f100 0.5px,#7d008e 1.5px,#000 2.5px,#000 54.5px,#130015 55.5px,#2f0035 56.5px,#79008a 58.5px,#860097 60.5px,#6d009c 61.5px,#4300a2 62.5px,#0000bd 63.5px,#0000d9 64.5px,#001cdd 67.5px,#002fdd 68.5px,#0078dd 70.5px,#0098dd 73.5px,#00a6b7 76.5px,#00a8af 79.5px,#00aaa8 80.5px,#00aaa5 86.5px,#00aa9b 98.5px,#00aa95 100.5px,#0a8 106.5px,#00a773 107.5px,#00a773 108.5px,#00a55d 110.5px,#00a55d 111.5px,#00a353 112.5px,#00a353 114.5px,#00a248 115.5px,#009d1d 116.5px,#009b13 117.5px,#009b13 119.5px,#009a08 120.5px,#009a08 125.5px,#009a00 126.5px,#009a08 127.5px,#009a08 128.5px,#009a00 129.5px,#009a00 140.5px,#009b13 142.5px,#00a13d 143.5px,#00a97d 146.5px,#00aa93 148.5px,#00aa9d 152.5px,#00aaa8 156.5px,#00a4bb 158.5px,#0098dd 163.5px,#007ddd 167.5px,#0067dd 169.5px,#0067dd 170.5px,#005ddd 171.5px,#005ddd 172.5px,#0054dd 173.5px,#0054dd 174.5px,#0041dd 175.5px,#0038dd 176.5px,#0025dd 177.5px,#0025dd 178.5px,#001cdd 179.5px,#0009dd 180.5px,#0000d5 181.5px,#0000b9 184.5px,#0000ad 186.5px,#0d00a8 187.5px,#4d00a0 190.5px,#58009f 191.5px,#6d009c 192.5px,#83009a 194.5px,#860097 198.5px,#0092dd 199.5px,#0013dd 200.5px,#860097 201.5px,#2d00a4 202.5px,#0000d5 203.5px,#0000d9 207.5px,#0000d5 208.5px,#008add 209.5px,#001cdd 210.5px,#0000d5 211.5px,#0000d5 212.5px,#0067dd 213.5px,#007ddd 214.5px,#850096 215.5px,#850096 218.5px,#2d00a4 219.5px,#820093 220.5px,#25002b 221.5px,#25002b 228.5px,#002fdd 229.5px,#002fdd 230.5px,#25002b 231.5px,#25002b 242.5px,#1c0020 243.5px,#1c0020 257.5px,#130015 258.5px,#130015 266.5px)"></i><i style="top:167px;height:1px;background:linear-gradient(90deg,#e4f100 0.5px,#7d008e 1.5px,#000 2.5px,#000 54.5px,#130015 55.5px,#2f0035 56.5px,#79008a 58.5px,#830094 60.5px,#83009a 61.5px,#58009f 62.5px,#0000b1 63.5px,#0000cd 64.5px,#00d 67.5px,#0013dd 68.5px,#0038dd 69.5px,#0054dd 70.5px,#0078dd 71.5px,#0092dd 74.5px,#009fcb 76.5px,#00a6b7 83.5px,#00a6b7 88.5px,#00a7b3 92.5px,#00aaab 98.5px,#00aaa3 100.5px,#00aaa3 102.5px,#00aa90 107.5px,#0a8 111.5px,#00a97d 112.5px,#00a97d 114.5px,#00a773 115.5px,#00a248 116.5px,#009f33 117.5px,#009f33 118.5px,#009b13 121.5px,#009d1d 122.5px,#009d1d 124.5px,#009b13 125.5px,#009b13 132.5px,#009a08 133.5px,#009a08 137.5px,#009b13 138.5px,#009b13 140.5px,#009d1d 141.5px,#00a97d 144.5px,#00aa8b 145.5px,#00aaa3 149.5px,#00aaa8 151.5px,#00a7b3 152.5px,#009fcb 156.5px,#0098dd 158.5px,#0078dd 164.5px,#0067dd 165.5px,#004bdd 166.5px,#0025dd 168.5px,#0013dd 170.5px,#0013dd 172.5px,#00d 174.5px,#0000c9 180.5px,#0000ad 183.5px,#0300aa 184.5px,#1800a7 185.5px,#2300a6 186.5px,#3800a3 187.5px,#4300a2 188.5px,#58009f 189.5px,#78009b 192.5px,#870098 193.5px,#850096 198.5px,#008add 199.5px,#00d 200.5px,#850096 201.5px,#3800a3 202.5px,#0000d1 203.5px,#0000d5 208.5px,#08d 209.5px,#0013dd 210.5px,#0000d1 211.5px,#0000d1 212.5px,#005ddd 213.5px,#0078dd 214.5px,#850096 215.5px,#850096 218.5px,#3800a3 219.5px,#820093 220.5px,#25002b 221.5px,#25002b 228.5px,#7e008f 229.5px,#7e008f 230.5px,#25002b 231.5px,#25002b 241.5px,#1c0020 242.5px,#1c0020 257.5px,#130015 258.5px,#130015 266.5px)"></i><i style="top:168px;height:16px;background:linear-gradient(90deg,#e4f100 0.5px,#7d008e 1.5px,#000 2.5px,#000 54.5px,#130015 55.5px,#2f0035 56.5px,#79008a 58.5px,#830094 60.5px,#83009a 61.5px,#63009e 62.5px,#0000ad 63.5px,#0000c5 64.5px,#0000d9 67.5px,#0009dd 68.5px,#0025dd 69.5px,#0070dd 71.5px,#0080dd 72.5px,#0098dd 75.5px,#009ecf 77.5px,#00a3bf 84.5px,#00a3bf 89.5px,#00a7b3 98.5px,#00aaa8 100.5px,#00aaa8 102.5px,#00aa95 107.5px,#00aa8b 114.5px,#00a97d 115.5px,#00a55d 116.5px,#00a248 117.5px,#00a248 118.5px,#009d1d 120.5px,#009d1d 122.5px,#009e28 123.5px,#009e28 124.5px,#009d1d 125.5px,#009d1d 128.5px,#009b13 129.5px,#009b13 134.5px,#009a08 135.5px,#009a08 136.5px,#009b13 137.5px,#009b13 139.5px,#009e28 141.5px,#00a248 142.5px,#00a773 143.5px,#00aa8b 144.5px,#00aa93 146.5px,#00aaa3 148.5px,#00aaa8 150.5px,#009fcb 154.5px,#0095dd 157.5px,#007ddd 162.5px,#005ddd 164.5px,#0041dd 165.5px,#001cdd 167.5px,#00d 168.5px,#0000d1 174.5px,#0000c5 178.5px,#0000c5 179.5px,#0000ad 182.5px,#0300aa 183.5px,#1800a7 184.5px,#2d00a4 186.5px,#4300a2 187.5px,#63009e 190.5px,#78009b 191.5px,#83009a 192.5px,#860097 195.5px,#850096 198.5px,#0085dd 199.5px,#0000d9 200.5px,#830094 201.5px,#4300a2 202.5px,#0000d1 203.5px,#0000d5 206.5px,#0000d1 208.5px,#0085dd 209.5px,#0013dd 210.5px,#0000d1 211.5px,#0000d1 212.5px,#005ddd 213.5px,#0078dd 214.5px,#830094 215.5px,#850096 218.5px,#3800a3 219.5px,#820093 220.5px,#25002b 221.5px,#25002b 240.5px,#1c0020 241.5px,#1c0020 256.5px,#130015 257.5px,#130015 266.5px)"></i><i style="top:184px;height:16px;background:linear-gradient(90deg,#e4f100 0.5px,#7d008e 1.5px,#000 2.5px,#000 54.5px,#130015 55.5px,#2f0035 56.5px,#7a008b 58.5px,#860097 60.5px,#6d009c 61.5px,#4300a2 62.5px,#0000c1 63.5px,#0000d9 64.5px,#0013dd 65.5px,#0025dd 67.5px,#007add 70.5px,#0092dd 72.5px,#009adb 73.5px,#009ecf 74.5px,#00a4bb 75.5px,#00a8af 76.5px,#00aa9d 85.5px,#00aa9d 89.5px,#00aa9b 94.5px,#00aa90 102.5px,#00aa8b 103.5px,#00a97d 104.5px,#00a97d 105.5px,#00a55d 108.5px,#d0f800 109.5px,#00a353 110.5px,#00a13d 112.5px,#00a13d 113.5px,#00a248 114.5px,#009f33 115.5px,#009b13 116.5px,#009b13 118.5px,#009a00 120.5px,#009a00 122.5px,#009a08 123.5px,#009a08 124.5px,#009a00 125.5px,#009c00 134.5px,#009c00 137.5px,#009a00 141.5px,#009e28 143.5px,#00a248 144.5px,#00a353 145.5px,#00a668 146.5px,#0a8 147.5px,#00aaa8 157.5px,#009fcb 162.5px,#0098dd 164.5px,#007add 169.5px,#0078dd 172.5px,#005ddd 175.5px,#004bdd 176.5px,#002fdd 179.5px,#001cdd 180.5px,#00d 181.5px,#0000b9 185.5px,#0300aa 187.5px,#2300a6 188.5px,#2d00a4 189.5px,#6d009c 192.5px,#83009a 194.5px,#870098 198.5px,#0095dd 199.5px,#001cdd 200.5px,#860097 201.5px,#2d00a4 202.5px,#0000d9 203.5px,#0000d9 208.5px,#008add 209.5px,#001cdd 210.5px,#0000d5 211.5px,#0000d5 212.5px,#0067dd 213.5px,#007ddd 214.5px,#850096 215.5px,#850096 218.5px,#2d00a4 219.5px,#820093 220.5px,#25002b 221.5px,#25002b 243.5px,#1c0020 244.5px,#1c0020 257.5px,#130015 258.5px,#130015 266.5px)"></i><i style="top:200px;height:1px;background:linear-gradient(90deg,#e4f100 0.5px,#7d008e 1.5px,#000 2.5px,#000 54.5px,#130015 55.5px,#2f0035 56.5px,#7a008b 58.5px,#860097 60.5px,#6d009c 61.5px,#4300a2 62.5px,#0000c1 63.5px,#0000d9 64.5px,#0009dd 65.5px,#001cdd 66.5px,#0025dd 67.5px,#0038dd 68.5px,#005ddd 69.5px,#007add 70.5px,#0092dd 72.5px,#009adb 73.5px,#009ecf 74.5px,#00a4bb 75.5px,#00a8af 76.5px,#00a8af 78.5px,#00aaa3 81.5px,#00aa9d 85.5px,#00aa9d 89.5px,#00aa9b 94.5px,#00aa95 98.5px,#00aa8b 103.5px,#0a8 104.5px,#00a668 107.5px,#00a668 108.5px,#0f0 109.5px,#00a353 110.5px,#00a13d 112.5px,#00a13d 113.5px,#00a248 114.5px,#009f33 115.5px,#009b13 116.5px,#009b13 118.5px,#009a00 120.5px,#009a00 122.5px,#009a08 123.5px,#009a08 124.5px,#009a00 125.5px,#009c00 134.5px,#009c00 137.5px,#009a00 141.5px,#009e28 143.5px,#00a248 144.5px,#00a353 145.5px,#00a668 146.5px,#0a8 147.5px,#00aa90 148.5px,#00aa93 151.5px,#00aaa8 157.5px,#00a7b3 158.5px,#00a2c3 161.5px,#0098dd 164.5px,#007ddd 168.5px,#0078dd 172.5px,#005ddd 175.5px,#004bdd 176.5px,#002fdd 179.5px,#001cdd 180.5px,#00d 181.5px,#0000b9 185.5px,#0300aa 187.5px,#2300a6 188.5px,#2d00a4 189.5px,#6d009c 192.5px,#83009a 194.5px,#870098 198.5px,#0092dd 199.5px,#001cdd 200.5px,#860097 201.5px,#2d00a4 202.5px,#0000d9 203.5px,#0000d9 208.5px,#008add 209.5px,#001cdd 210.5px,#0000d5 211.5px,#0000d5 212.5px,#0067dd 213.5px,#007ddd 214.5px,#850096 215.5px,#850096 218.5px,#2d00a4 219.5px,#820093 220.5px,#25002b 221.5px,#25002b 243.5px,#1c0020 244.5px,#1c0020 257.5px,#130015 258.5px,#130015 266.5px)"></i><i style="top:201px;height:16px;background:linear-gradient(90deg,#e4f100 0.5px,#7d008e 1.5px,#000 2.5px,#000 54.5px,#130015 55.5px,#2f0035 56.5px,#7a008b 58.5px,#860097 60.5px,#6d009c 61.5px,#4300a2 62.5px,#0000bd 63.5px,#0000d9 64.5px,#0009dd 65.5px,#001cdd 66.5px,#0025dd 67.5px,#0038dd 68.5px,#005ddd 69.5px,#007add 70.5px,#009adb 73.5px,#00a7b3 76.5px,#00aaa5 81.5px,#00aaa0 88.5px,#00aa98 98.5px,#00aa90 101.5px,#0a8 104.5px,#00a668 107.5px,#00a668 108.5px,#00a353 110.5px,#00a353 111.5px,#00a248 112.5px,#00a248 114.5px,#00a13d 115.5px,#009d1d 116.5px,#009b13 117.5px,#009b13 118.5px,#009a00 120.5px,#009a00 122.5px,#009a08 123.5px,#009a08 124.5px,#009a00 125.5px,#009a00 141.5px,#009b13 142.5px,#009f33 143.5px,#00aa8b 147.5px,#00aaab 157.5px,#009fcb 162.5px,#0095dd 164.5px,#007add 168.5px,#0078dd 170.5px,#0070dd 171.5px,#0070dd 172.5px,#004bdd 176.5px,#0038dd 177.5px,#0025dd 179.5px,#0000d9 181.5px,#0000b5 185.5px,#0000b1 186.5px,#0d00a8 187.5px,#3800a3 189.5px,#4300a2 190.5px,#6d009c 192.5px,#83009a 194.5px,#870098 198.5px,#0092dd 199.5px,#001cdd 200.5px,#860097 201.5px,#2d00a4 202.5px,#0000d9 203.5px,#0000d9 208.5px,#008add 209.5px,#001cdd 210.5px,#0000d5 211.5px,#0000d5 212.5px,#0067dd 213.5px,#007ddd 214.5px,#850096 215.5px,#850096 218.5px,#2d00a4 219.5px,#820093 220.5px,#25002b 221.5px,#25002b 243.5px,#1c0020 244.5px,#1c0020 257.5px,#130015 258.5px,#130015 266.5px)"></i><i style="top:217px;height:1px;background:linear-gradient(90deg,#e4f100 0.5px,#7d008e 1.5px,#000 2.5px,#000 54.5px,#130015 55.5px,#2f0035 56.5px,#79008a 58.5px,#850096 60.5px,#78009b 61.5px,#4d00a0 62.5px,#0000b5 63.5px,#0000d1 64.5px,#00d 66.5px,#0009dd 67.5px,#001cdd 68.5px,#0067dd 70.5px,#007ddd 71.5px,#0098dd 74.5px,#00a2c3 76.5px,#00a8af 83.5px,#00aaab 85.5px,#00a8af 88.5px,#00aaa8 91.5px,#00aaa8 94.5px,#00aaa3 98.5px,#00aa98 103.5px,#0a8 109.5px,#00a668 112.5px,#00a668 113.5px,#00a773 114.5px,#00a55d 115.5px,#00a13d 116.5px,#009e28 117.5px,#009e28 118.5px,#009b13 120.5px,#009b13 124.5px,#009a08 125.5px,#009a08 126.5px,#009b13 127.5px,#009b13 128.5px,#009a08 129.5px,#009a08 133.5px,#009a00 134.5px,#009a00 136.5px,#009a08 137.5px,#009a08 140.5px,#009b13 141.5px,#009e28 142.5px,#00a353 143.5px,#00a773 144.5px,#00aa93 147.5px,#00aa9d 149.5px,#00aaa3 151.5px,#00a4bb 156.5px,#009cd3 158.5px,#0098dd 160.5px,#0082dd 164.5px,#0070dd 166.5px,#005ddd 167.5px,#0041dd 168.5px,#0038dd 169.5px,#0038dd 170.5px,#002fdd 171.5px,#002fdd 172.5px,#0025dd 173.5px,#0025dd 174.5px,#001cdd 175.5px,#0009dd 176.5px,#00d 177.5px,#0000d9 179.5px,#0000b5 183.5px,#0300aa 185.5px,#0d00a8 186.5px,#4d00a0 189.5px,#63009e 191.5px,#78009b 192.5px,#83009a 193.5px,#860097 196.5px,#860097 198.5px,#008ddd 199.5px,#0009dd 200.5px,#850096 201.5px,#3800a3 202.5px,#0000d5 203.5px,#0000d5 208.5px,#08d 209.5px,#0013dd 210.5px,#0000d1 211.5px,#0000d5 212.5px,#005ddd 213.5px,#007add 214.5px,#850096 215.5px,#850096 218.5px,#2d00a4 219.5px,#820093 220.5px,#25002b 221.5px,#25002b 242.5px,#1c0020 243.5px,#1c0020 257.5px,#130015 258.5px,#130015 266.5px)"></i><i style="top:218px;height:16px;background:linear-gradient(90deg,#e4f100 0.5px,#7d008e 1.5px,#000 2.5px,#000 54.5px,#130015 55.5px,#2f0035 56.5px,#79008a 58.5px,#830094 60.5px,#83009a 61.5px,#63009e 62.5px,#0000ad 63.5px,#0000c9 64.5px,#0000d9 67.5px,#0009dd 68.5px,#002fdd 69.5px,#004bdd 70.5px,#0070dd 71.5px,#0080dd 72.5px,#009adb 75.5px,#009ecf 76.5px,#009fcb 79.5px,#00a2c3 80.5px,#00a3bf 83.5px,#00a4bb 85.5px,#00a3bf 88.5px,#00a6b7 91.5px,#00a7b3 97.5px,#00aa93 108.5px,#0a8 113.5px,#0a8 114.5px,#00a97d 115.5px,#00a353 116.5px,#00a13d 117.5px,#00a13d 118.5px,#009f33 119.5px,#009d1d 120.5px,#009d1d 125.5px,#009b13 126.5px,#009d1d 127.5px,#009d1d 128.5px,#009b13 129.5px,#009b13 133.5px,#009a08 134.5px,#009a08 136.5px,#009b13 137.5px,#009b13 139.5px,#009d1d 140.5px,#009d1d 141.5px,#00a773 143.5px,#0a8 144.5px,#00a8af 151.5px,#00a4bb 152.5px,#009cd3 156.5px,#0098dd 157.5px,#0078dd 163.5px,#0067dd 164.5px,#004bdd 165.5px,#0025dd 167.5px,#0009dd 168.5px,#00d 169.5px,#0000d5 174.5px,#0000c1 180.5px,#0300aa 183.5px,#0d00a8 184.5px,#2300a6 185.5px,#3800a3 187.5px,#4d00a0 188.5px,#6d009c 191.5px,#83009a 192.5px,#860097 195.5px,#850096 198.5px,#08d 199.5px,#00d 200.5px,#850096 201.5px,#3800a3 202.5px,#0000d1 203.5px,#0000d5 206.5px,#0000d1 208.5px,#0085dd 209.5px,#0013dd 210.5px,#0000d1 211.5px,#0000d1 212.5px,#005ddd 213.5px,#0078dd 214.5px,#830094 215.5px,#850096 218.5px,#3800a3 219.5px,#820093 220.5px,#25002b 221.5px,#25002b 240.5px,#1c0020 241.5px,#1c0020 256.5px,#130015 257.5px,#130015 266.5px)"></i><i style="top:234px;height:1px;background:linear-gradient(90deg,#e4f100 0.5px,#7d008e 1.5px,#000 2.5px,#000 54.5px,#130015 55.5px,#2f0035 56.5px,#79008a 58.5px,#860097 60.5px,#6d009c 61.5px,#4300a2 62.5px,#0000bd 63.5px,#0000d9 64.5px,#0013dd 66.5px,#0038dd 68.5px,#0054dd 69.5px,#0078dd 70.5px,#0098dd 73.5px,#00a6b7 76.5px,#00a8af 79.5px,#00aaa8 80.5px,#00aa9b 98.5px,#00aa93 100.5px,#00aa90 103.5px,#0a8 105.5px,#00a773 107.5px,#00a773 108.5px,#00a55d 110.5px,#00a55d 111.5px,#00a248 112.5px,#00a353 113.5px,#00a353 114.5px,#00a13d 115.5px,#009d1d 116.5px,#009b13 117.5px,#009d1d 118.5px,#009a08 120.5px,#009a08 125.5px,#009a00 126.5px,#009a08 127.5px,#009a08 128.5px,#009a00 129.5px,#009a00 140.5px,#009a08 141.5px,#009d1d 142.5px,#00a13d 143.5px,#00a353 144.5px,#00a55d 145.5px,#00a97d 146.5px,#00aa93 148.5px,#00aa9d 152.5px,#00aaa8 156.5px,#00a4bb 158.5px,#009cd3 162.5px,#0098dd 163.5px,#007ddd 167.5px,#0067dd 169.5px,#0067dd 171.5px,#005ddd 172.5px,#005ddd 173.5px,#004bdd 175.5px,#0038dd 176.5px,#001cdd 179.5px,#0009dd 180.5px,#0000d5 181.5px,#0000b9 184.5px,#0000ad 186.5px,#0d00a8 187.5px,#4d00a0 190.5px,#58009f 191.5px,#6d009c 192.5px,#83009a 194.5px,#860097 198.5px,#0092dd 199.5px,#0013dd 200.5px,#860097 201.5px,#2d00a4 202.5px,#0000d5 203.5px,#0000d9 207.5px,#0000d5 208.5px,#008add 209.5px,#001cdd 210.5px,#0000d5 211.5px,#0000d5 212.5px,#0067dd 213.5px,#007ddd 214.5px,#850096 215.5px,#850096 218.5px,#2d00a4 219.5px,#820093 220.5px,#25002b 221.5px,#25002b 242.5px,#1c0020 243.5px,#1c0020 257.5px,#130015 258.5px,#130015 266.5px)"></i><i style="top:235px;height:15px;background:linear-gradient(90deg,#e4f100 0.5px,#7d008e 1.5px,#000 2.5px,#000 54.5px,#130015 55.5px,#2f0035 56.5px,#7a008b 58.5px,#860097 60.5px,#6d009c 61.5px,#4300a2 62.5px,#0000c1 63.5px,#0000d9 64.5px,#0013dd 65.5px,#0025dd 67.5px,#007add 70.5px,#0092dd 72.5px,#009adb 73.5px,#009ecf 74.5px,#00a4bb 75.5px,#00a8af 76.5px,#00aa9d 85.5px,#00aa9d 89.5px,#00aa9b 94.5px,#00aa90 102.5px,#00aa8b 103.5px,#00a97d 104.5px,#00a97d 105.5px,#00a55d 108.5px,#00a55d 109.5px,#00a13d 112.5px,#00a13d 113.5px,#00a248 114.5px,#009f33 115.5px,#009b13 116.5px,#009b13 118.5px,#009a00 120.5px,#009a00 122.5px,#009a08 123.5px,#009a08 124.5px,#009a00 125.5px,#009c00 134.5px,#009c00 137.5px,#009a00 141.5px,#009e28 143.5px,#00a248 144.5px,#00a353 145.5px,#00a668 146.5px,#0a8 147.5px,#00aaa8 157.5px,#009fcb 162.5px,#0098dd 164.5px,#007add 169.5px,#0078dd 172.5px,#005ddd 175.5px,#004bdd 176.5px,#002fdd 179.5px,#001cdd 180.5px,#00d 181.5px,#0000b9 185.5px,#0300aa 187.5px,#2300a6 188.5px,#2d00a4 189.5px,#6d009c 192.5px,#83009a 194.5px,#870098 198.5px,#0095dd 199.5px,#001cdd 200.5px,#860097 201.5px,#2d00a4 202.5px,#0000d9 203.5px,#0000d9 208.5px,#008add 209.5px,#001cdd 210.5px,#0000d5 211.5px,#0000d5 212.5px,#0067dd 213.5px,#007ddd 214.5px,#850096 215.5px,#850096 218.5px,#2d00a4 219.5px,#820093 220.5px,#25002b 221.5px,#25002b 243.5px,#1c0020 244.5px,#1c0020 257.5px,#130015 258.5px,#130015 266.5px)"></i><i style="top:250px;height:1px;background:linear-gradient(90deg,#e4f100 0.5px,#7d008e 1.5px,#000 2.5px,#000 54.5px,#130015 55.5px,#2f0035 56.5px,#7a008b 58.5px,#860097 60.5px,#6d009c 61.5px,#4300a2 62.5px,#0000bd 63.5px,#0000d9 64.5px,#0009dd 65.5px,#001cdd 66.5px,#0025dd 67.5px,#0038dd 68.5px,#005ddd 69.5px,#007add 70.5px,#009adb 73.5px,#00a7b3 76.5px,#00aaa5 81.5px,#00aaa0 86.5px,#00aaa0 89.5px,#00aa98 98.5px,#00aa93 99.5px,#009d1d 100.5px,#00aa93 101.5px,#0a8 105.5px,#00a97d 106.5px,#00a668 107.5px,#00a668 108.5px,#00a55d 109.5px,#00a55d 110.5px,#00a248 112.5px,#00a248 114.5px,#00a13d 115.5px,#009d1d 116.5px,#009b13 117.5px,#009b13 119.5px,#009a00 121.5px,#009a08 122.5px,#009a08 124.5px,#009a00 125.5px,#009a00 140.5px,#009b13 142.5px,#00a353 144.5px,#00a55d 145.5px,#00aa8b 147.5px,#00aaab 157.5px,#00a6b7 158.5px,#00a0c7 161.5px,#0095dd 164.5px,#007add 168.5px,#0070dd 170.5px,#0070dd 172.5px,#0054dd 175.5px,#0041dd 176.5px,#0025dd 179.5px,#0000d9 181.5px,#0000b5 185.5px,#0000ad 186.5px,#0d00a8 187.5px,#3800a3 189.5px,#4300a2 190.5px,#6d009c 192.5px,#83009a 194.5px,#870098 198.5px,#0092dd 199.5px,#0013dd 200.5px,#860097 201.5px,#2d00a4 202.5px,#0000d9 203.5px,#0000d9 208.5px,#008add 209.5px,#001cdd 210.5px,#0000d5 211.5px,#0000d5 212.5px,#0067dd 213.5px,#007ddd 214.5px,#850096 215.5px,#850096 218.5px,#2d00a4 219.5px,#820093 220.5px,#25002b 221.5px,#25002b 243.5px,#1c0020 244.5px,#1c0020 257.5px,#130015 258.5px,#130015 266.5px)"></i><i style="top:251px;height:16px;background:linear-gradient(90deg,#e4f100 0.5px,#7d008e 1.5px,#000 2.5px,#000 54.5px,#130015 55.5px,#2f0035 56.5px,#79008a 58.5px,#830094 60.5px,#83009a 61.5px,#58009f 62.5px,#0000b1 63.5px,#0000c9 64.5px,#00d 67.5px,#0013dd 68.5px,#002fdd 69.5px,#0078dd 71.5px,#009adb 75.5px,#009ecf 76.5px,#00a4bb 83.5px,#00a6b7 85.5px,#00a4bb 88.5px,#00a6b7 92.5px,#00a7b3 97.5px,#00aaa8 99.5px,#d60000 100.5px,#00aaa5 101.5px,#00aaa0 103.5px,#00aa93 107.5px,#0a8 113.5px,#0a8 114.5px,#00a773 115.5px,#00a353 116.5px,#00a13d 117.5px,#00a13d 118.5px,#009e28 119.5px,#009b13 121.5px,#009d1d 122.5px,#009d1d 124.5px,#009b13 125.5px,#009b13 126.5px,#009d1d 127.5px,#009b13 128.5px,#009b13 133.5px,#009a08 134.5px,#009a08 137.5px,#009b13 138.5px,#009b13 140.5px,#009d1d 141.5px,#00a13d 142.5px,#00a668 143.5px,#0a8 144.5px,#00aa98 147.5px,#00aaa3 149.5px,#00aaab 151.5px,#00a6b7 152.5px,#009ecf 156.5px,#009adb 157.5px,#0082dd 162.5px,#0070dd 164.5px,#0054dd 165.5px,#002fdd 167.5px,#0013dd 168.5px,#0009dd 169.5px,#0009dd 171.5px,#00d 172.5px,#0000d1 176.5px,#0000c5 180.5px,#0000b1 182.5px,#0000ad 183.5px,#2300a6 186.5px,#4d00a0 188.5px,#6d009c 191.5px,#83009a 192.5px,#860097 195.5px,#850096 198.5px,#08d 199.5px,#00d 200.5px,#850096 201.5px,#3800a3 202.5px,#0000d1 203.5px,#0000d5 207.5px,#0000d1 208.5px,#08d 209.5px,#0013dd 210.5px,#0000d1 211.5px,#0000d1 212.5px,#005ddd 213.5px,#0078dd 214.5px,#850096 215.5px,#850096 218.5px,#3800a3 219.5px,#820093 220.5px,#25002b 221.5px,#25002b 241.5px,#1c0020 242.5px,#1c0020 256.5px,#130015 257.5px,#130015 266.5px)"></i><i style="top:267px;height:1px;background:linear-gradient(90deg,#e4f100 0.5px,#7d008e 1.5px,#000 2.5px,#000 54.5px,#130015 55.5px,#2f0035 56.5px,#79008a 58.5px,#830094 60.5px,#83009a 61.5px,#58009f 62.5px,#0000b1 63.5px,#0000c9 64.5px,#00d 67.5px,#0013dd 68.5px,#0038dd 69.5px,#0054dd 70.5px,#0078dd 71.5px,#0092dd 74.5px,#009fcb 76.5px,#00a6b7 84.5px,#00a6b7 89.5px,#00a7b3 93.5px,#00aaab 98.5px,#00aaa5 99.5px,#f4e200 100.5px,#00aaa3 101.5px,#0a8 111.5px,#00a97d 112.5px,#00a97d 114.5px,#00a773 115.5px,#00a248 116.5px,#009f33 117.5px,#009f33 118.5px,#009e28 119.5px,#009b13 120.5px,#009b13 122.5px,#009d1d 123.5px,#009d1d 124.5px,#009b13 125.5px,#009b13 133.5px,#009a08 134.5px,#009a08 137.5px,#009b13 138.5px,#009b13 140.5px,#009d1d 141.5px,#00a13d 142.5px,#00a668 143.5px,#00a97d 144.5px,#00aa8b 145.5px,#00aaa3 149.5px,#00aaa8 151.5px,#00a4bb 153.5px,#009fcb 156.5px,#0098dd 158.5px,#0078dd 164.5px,#0067dd 165.5px,#004bdd 166.5px,#0038dd 167.5px,#001cdd 168.5px,#0013dd 169.5px,#0013dd 171.5px,#0009dd 172.5px,#0009dd 173.5px,#00d 174.5px,#0000cd 178.5px,#0000cd 179.5px,#0000ad 183.5px,#0300aa 184.5px,#1800a7 185.5px,#2300a6 186.5px,#3800a3 187.5px,#4300a2 188.5px,#58009f 189.5px,#78009b 192.5px,#870098 193.5px,#850096 198.5px,#08d 199.5px,#00d 200.5px,#850096 201.5px,#3800a3 202.5px,#0000d1 203.5px,#0000d5 208.5px,#08d 209.5px,#0013dd 210.5px,#0000d1 211.5px,#0000d1 212.5px,#005ddd 213.5px,#0078dd 214.5px,#850096 215.5px,#850096 218.5px,#3800a3 219.5px,#820093 220.5px,#25002b 221.5px,#25002b 241.5px,#1c0020 242.5px,#1c0020 257.5px,#130015 258.5px,#130015 266.5px)"></i><i style="top:268px;height:16px;background:linear-gradient(90deg,#e4f100 0.5px,#7d008e 1.5px,#000 2.5px,#000 54.5px,#130015 55.5px,#2f0035 56.5px,#79008a 58.5px,#850096 60.5px,#78009b 61.5px,#58009f 62.5px,#0000b5 63.5px,#0000cd 64.5px,#00d 66.5px,#0009dd 67.5px,#001cdd 68.5px,#0038dd 69.5px,#005ddd 70.5px,#007add 71.5px,#0095dd 74.5px,#00a0c7 76.5px,#00a4bb 80.5px,#00a7b3 84.5px,#00a7b3 89.5px,#00aaa8 98.5px,#00aaa0 101.5px,#00aa93 106.5px,#00aa8d 108.5px,#0a8 110.5px,#00a773 112.5px,#00a773 113.5px,#00a97d 114.5px,#00a668 115.5px,#00a13d 116.5px,#009f33 117.5px,#009f33 118.5px,#009d1d 119.5px,#009b13 120.5px,#009b13 128.5px,#009a08 129.5px,#009a08 134.5px,#009a00 135.5px,#009a00 136.5px,#009a08 137.5px,#009a08 138.5px,#009b13 139.5px,#009b13 141.5px,#009f33 142.5px,#00a55d 143.5px,#00a97d 144.5px,#00aa95 147.5px,#00aaa0 149.5px,#00aaa5 151.5px,#00a4bb 154.5px,#00a2c3 156.5px,#009adb 158.5px,#008add 162.5px,#007ddd 164.5px,#005ddd 166.5px,#004bdd 167.5px,#002fdd 168.5px,#0025dd 169.5px,#0025dd 170.5px,#001cdd 171.5px,#001cdd 172.5px,#0013dd 173.5px,#0013dd 174.5px,#0000d9 176.5px,#0000cd 180.5px,#0000b1 183.5px,#0000ad 184.5px,#1800a7 186.5px,#4300a2 188.5px,#58009f 190.5px,#6d009c 191.5px,#83009a 193.5px,#860097 196.5px,#850096 198.5px,#008add 199.5px,#0009dd 200.5px,#850096 201.5px,#3800a3 202.5px,#0000d1 203.5px,#0000d5 207.5px,#0000d5 208.5px,#08d 209.5px,#0013dd 210.5px,#0000d1 211.5px,#0000d1 212.5px,#005ddd 213.5px,#007add 214.5px,#850096 215.5px,#850096 218.5px,#3800a3 219.5px,#820093 220.5px,#25002b 221.5px,#25002b 241.5px,#1c0020 242.5px,#1c0020 257.5px,#130015 258.5px,#130015 266.5px)"></i><i style="top:284px;height:1px;background:linear-gradient(90deg,#e4f100 0.5px,#7d008e 1.5px,#000 2.5px,#000 54.5px,#130015 55.5px,#2f0035 56.5px,#79008a 58.5px,#870098 61.5px,#63009e 62.5px,#0000ad 63.5px,#0000c5 64.5px,#00d 68.5px,#001cdd 69.5px,#0067dd 71.5px,#007ddd 72.5px,#0095dd 75.5px,#009bd7 77.5px,#009bd7 78.5px,#009fcb 80.5px,#00a2c3 86.5px,#00a0c7 87.5px,#00a3bf 91.5px,#00a4bb 97.5px,#00aa98 107.5px,#00aa8d 113.5px,#0a8 115.5px,#00a668 116.5px,#00a353 117.5px,#00a353 118.5px,#00a248 119.5px,#009f33 120.5px,#009f33 124.5px,#009e28 125.5px,#009e28 126.5px,#009f33 127.5px,#009d1d 129.5px,#009d1d 130.5px,#009e28 131.5px,#009e28 132.5px,#009b13 134.5px,#009b13 136.5px,#009e28 138.5px,#009e28 140.5px,#009f33 141.5px,#00a353 142.5px,#00a97d 143.5px,#00aa8d 144.5px,#00aa9d 147.5px,#00aaa8 149.5px,#00aaab 150.5px,#00a0c7 153.5px,#009adb 156.5px,#007add 162.5px,#0070dd 163.5px,#0054dd 164.5px,#002fdd 166.5px,#0013dd 167.5px,#00d 168.5px,#0000c9 176.5px,#0000bd 180.5px,#0000ad 182.5px,#2300a6 185.5px,#3800a3 186.5px,#4300a2 187.5px,#58009f 188.5px,#83009a 192.5px,#860097 195.5px,#850096 198.5px,#0085dd 199.5px,#0000d9 200.5px,#830094 201.5px,#4300a2 202.5px,#0000cd 203.5px,#0000d1 207.5px,#0000d1 208.5px,#0085dd 209.5px,#0009dd 210.5px,#0000cd 211.5px,#0000d1 212.5px,#0054dd 213.5px,#0078dd 214.5px,#830094 215.5px,#830094 218.5px,#3800a3 219.5px,#820093 220.5px,#25002b 221.5px,#25002b 239.5px,#1c0020 240.5px,#1c0020 256.5px,#130015 257.5px,#130015 266.5px)"></i><i style="top:285px;height:16px;background:linear-gradient(90deg,#e4f100 0.5px,#7d008e 1.5px,#000 2.5px,#000 54.5px,#130015 55.5px,#4b0055 57.5px,#708 58.5px,#870098 61.5px,#6d009c 62.5px,#0d00a8 63.5px,#0000bd 64.5px,#0000d1 67.5px,#0000d5 68.5px,#0013dd 69.5px,#002fdd 70.5px,#0078dd 72.5px,#0098dd 76.5px,#009adb 79.5px,#009cd3 80.5px,#009ecf 84.5px,#009fcb 85.5px,#009ecf 88.5px,#009fcb 92.5px,#00a2c3 98.5px,#00a6b7 100.5px,#00a6b7 102.5px,#00aaa5 105.5px,#00aa93 113.5px,#00aa8d 115.5px,#00a773 116.5px,#00a668 117.5px,#00a668 118.5px,#00a353 119.5px,#00a13d 121.5px,#00a248 122.5px,#00a248 124.5px,#00a13d 125.5px,#00a13d 128.5px,#009f33 129.5px,#009f33 133.5px,#009d1d 134.5px,#009d1d 136.5px,#009f33 138.5px,#009f33 139.5px,#00a248 141.5px,#00aa8b 143.5px,#00aaa3 147.5px,#00a3bf 151.5px,#009fcb 152.5px,#0098dd 155.5px,#007add 160.5px,#0078dd 161.5px,#0054dd 163.5px,#0038dd 164.5px,#0000d9 167.5px,#0000cd 169.5px,#0000c5 174.5px,#0000b9 178.5px,#0000b5 180.5px,#0000ad 181.5px,#0d00a8 182.5px,#2300a6 183.5px,#4d00a0 187.5px,#63009e 188.5px,#83009a 191.5px,#860097 194.5px,#830094 198.5px,#0080dd 199.5px,#0000d5 200.5px,#830094 201.5px,#4300a2 202.5px,#0000cd 203.5px,#0000d1 208.5px,#0082dd 209.5px,#0009dd 210.5px,#0000cd 211.5px,#0000cd 212.5px,#0054dd 213.5px,#0070dd 214.5px,#830094 215.5px,#830094 218.5px,#3800a3 219.5px,#810092 220.5px,#25002b 221.5px,#25002b 238.5px,#1c0020 239.5px,#1c0020 256.5px,#130015 257.5px,#130015 266.5px)"></i><i style="top:301px;height:1px;background:linear-gradient(90deg,#e4f100 0.5px,#7d008e 1.5px,#000 2.5px,#000 54.5px,#130015 55.5px,#2f0035 56.5px,#79008a 58.5px,#830094 60.5px,#83009a 61.5px,#58009f 62.5px,#0000b1 63.5px,#0000c9 64.5px,#00d 67.5px,#0013dd 68.5px,#002fdd 69.5px,#0078dd 71.5px,#0092dd 74.5px,#009fcb 76.5px,#00a0c7 79.5px,#00a3bf 80.5px,#00a4bb 83.5px,#00a6b7 85.5px,#00a4bb 88.5px,#00a7b3 91.5px,#00a8af 97.5px,#00aaa5 101.5px,#00aaa0 103.5px,#00aa93 107.5px,#00aa8b 111.5px,#00a97d 112.5px,#00a97d 113.5px,#0a8 114.5px,#00a773 115.5px,#00a353 116.5px,#00a13d 117.5px,#00a13d 118.5px,#009e28 119.5px,#009d1d 120.5px,#009d1d 124.5px,#009b13 125.5px,#009b13 126.5px,#009d1d 127.5px,#009d1d 128.5px,#009b13 129.5px,#009b13 133.5px,#009a08 134.5px,#009a08 136.5px,#009b13 137.5px,#009b13 140.5px,#009d1d 141.5px,#00a13d 142.5px,#00a668 143.5px,#0a8 144.5px,#00aa98 147.5px,#00aaa3 149.5px,#00aaab 151.5px,#00a0c7 155.5px,#009fcb 156.5px,#0095dd 158.5px,#007ddd 163.5px,#005ddd 165.5px,#004bdd 166.5px,#002fdd 167.5px,#001cdd 168.5px,#0013dd 169.5px,#0013dd 170.5px,#0009dd 171.5px,#0009dd 172.5px,#00d 173.5px,#0000d9 175.5px,#0000cd 177.5px,#0000cd 179.5px,#0000ad 183.5px,#2300a6 186.5px,#3800a3 187.5px,#4300a2 188.5px,#58009f 189.5px,#6d009c 191.5px,#83009a 192.5px,#860097 195.5px,#850096 198.5px,#08d 199.5px,#00d 200.5px,#850096 201.5px,#3800a3 202.5px,#0000d1 203.5px,#0000d5 207.5px,#0000d1 208.5px,#08d 209.5px,#0013dd 210.5px,#0000d1 211.5px,#0000d1 212.5px,#005ddd 213.5px,#0078dd 214.5px,#850096 215.5px,#850096 218.5px,#3800a3 219.5px,#820093 220.5px,#25002b 221.5px,#25002b 228.5px,#7f0090 229.5px,#7f0090 230.5px,#25002b 231.5px,#25002b 241.5px,#1c0020 242.5px,#1c0020 257.5px,#130015 258.5px,#130015 266.5px)"></i><i style="top:302px;height:15px;background:linear-gradient(90deg,#e4f100 0.5px,#7d008e 1.5px,#000 2.5px,#000 54.5px,#130015 55.5px,#2f0035 56.5px,#79008a 58.5px,#830094 60.5px,#83009a 61.5px,#58009f 62.5px,#0000b1 63.5px,#0000cd 64.5px,#00d 67.5px,#0013dd 68.5px,#0038dd 69.5px,#0054dd 70.5px,#0078dd 71.5px,#0092dd 74.5px,#009fcb 76.5px,#00a3bf 80.5px,#00a6b7 84.5px,#00a6b7 89.5px,#00aaab 98.5px,#00aaa3 100.5px,#00aaa3 102.5px,#00aa90 107.5px,#0a8 111.5px,#00a97d 112.5px,#00a97d 114.5px,#00a773 115.5px,#00a248 116.5px,#009f33 117.5px,#009f33 118.5px,#009e28 119.5px,#009b13 120.5px,#009b13 122.5px,#009d1d 123.5px,#009d1d 124.5px,#009b13 125.5px,#009b13 132.5px,#009a08 133.5px,#009a08 137.5px,#009b13 138.5px,#009b13 140.5px,#009d1d 141.5px,#00a97d 144.5px,#00aa8b 145.5px,#00aaa3 149.5px,#00aaa8 151.5px,#00a7b3 152.5px,#009fcb 156.5px,#0098dd 158.5px,#0078dd 164.5px,#0067dd 165.5px,#004bdd 166.5px,#0038dd 167.5px,#001cdd 168.5px,#001cdd 169.5px,#0013dd 170.5px,#0013dd 172.5px,#00d 174.5px,#0000c9 180.5px,#0000ad 183.5px,#0300aa 184.5px,#1800a7 185.5px,#2300a6 186.5px,#3800a3 187.5px,#4300a2 188.5px,#58009f 189.5px,#78009b 192.5px,#870098 193.5px,#850096 198.5px,#008add 199.5px,#00d 200.5px,#850096 201.5px,#3800a3 202.5px,#0000d1 203.5px,#0000d5 208.5px,#08d 209.5px,#0013dd 210.5px,#0000d1 211.5px,#0000d1 212.5px,#005ddd 213.5px,#0078dd 214.5px,#850096 215.5px,#850096 218.5px,#3800a3 219.5px,#820093 220.5px,#25002b 221.5px,#25002b 228.5px,#810092 229.5px,#810092 230.5px,#25002b 231.5px,#25002b 241.5px,#1c0020 242.5px,#1c0020 257.5px,#130015 258.5px,#130015 266.5px)"></i><i style="top:317px;height:1px;background:linear-gradient(90deg,#f5df00 0.5px,#7d008e 1.5px,#000 2.5px,#000 54.5px,#09000b 55.5px,#41004b 57.5px,#670075 58.5px,#7a008b 59.5px,#870098 62.5px,#3800a3 63.5px,#0300aa 64.5px,#0000c1 68.5px,#0000d9 70.5px,#0013dd 71.5px,#004bdd 73.5px,#005ddd 74.5px,#0078dd 75.5px,#0080dd 76.5px,#0082dd 79.5px,#08d 81.5px,#0092dd 98.5px,#009adb 103.5px,#009ecf 105.5px,#009ecf 106.5px,#00a0c7 107.5px,#00a3bf 111.5px,#00a6b7 115.5px,#00aaa5 117.5px,#00aaa0 124.5px,#00aaa0 141.5px,#00a2c3 145.5px,#00a0c7 146.5px,#009adb 148.5px,#007add 157.5px,#0070dd 158.5px,#005ddd 159.5px,#0054dd 160.5px,#0041dd 161.5px,#0038dd 162.5px,#00d 165.5px,#0000c1 169.5px,#0000bd 173.5px,#0000ad 178.5px,#0300aa 180.5px,#2d00a4 182.5px,#3800a3 183.5px,#4d00a0 184.5px,#6d009c 187.5px,#83009a 188.5px,#860097 190.5px,#7f0090 198.5px,#0041dd 199.5px,#0000b9 200.5px,#7f0090 201.5px,#78009b 202.5px,#0000b1 203.5px,#0000b1 208.5px,#0038dd 209.5px,#0000c1 210.5px,#0000ad 211.5px,#0000b1 212.5px,#0000d9 213.5px,#0013dd 214.5px,#7f0090 215.5px,#7f0090 218.5px,#78009b 219.5px,#7d008e 220.5px,#25002b 221.5px,#1c0020 222.5px,#1c0020 228.5px,#7b008c 229.5px,#7b008c 230.5px,#1c0020 231.5px,#1c0020 247.5px,#130015 248.5px,#130015 264.5px,#09000b 265.5px,#09000b 266.5px)"></i><i style="top:318px;height:16px;background:linear-gradient(90deg,#fe0000 0.5px,#7d008e 1.5px,#000 2.5px,#000 59.5px,#09000b 60.5px,#09000b 62.5px,#130015 63.5px,#130015 67.5px,#1c0020 68.5px,#1c0020 76.5px,#25002b 77.5px,#25002b 92.5px,#41004b 93.5px,#41004b 94.5px,#2f0035 95.5px,#2f0035 139.5px,#25002b 140.5px,#25002b 142.5px,#1c0020 143.5px,#1c0020 164.5px,#130015 165.5px,#130015 202.5px,#09000b 203.5px,#09000b 213.5px,#000 214.5px,#000 266.5px)"></i><i style="top:334px;height:1px;background:linear-gradient(90deg,#ffb100 0.5px,#7d008e 1.5px,#000 2.5px,#000 52.5px,#130015 53.5px,#380040 54.5px,#670075 55.5px,#7d008e 56.5px,#850096 57.5px,#63009e 58.5px,#2300a6 59.5px,#0000bd 60.5px,#0000d5 61.5px,#001cdd 62.5px,#0041dd 63.5px,#007ddd 65.5px,#008add 67.5px,#0092dd 70.5px,#009bd7 73.5px,#009fcb 83.5px,#009fcb 92.5px,#00a2c3 93.5px,#00a2c3 94.5px,#009fcb 95.5px,#009fcb 107.5px,#009ecf 108.5px,#009fcb 112.5px,#009fcb 127.5px,#0098dd 132.5px,#0085dd 143.5px,#0078dd 149.5px,#0070dd 150.5px,#0070dd 151.5px,#0054dd 154.5px,#0054dd 155.5px,#0009dd 163.5px,#0009dd 164.5px,#00d 165.5px,#0000c1 174.5px,#0000ad 178.5px,#0300aa 179.5px,#2300a6 182.5px,#2300a6 183.5px,#4300a2 186.5px,#4300a2 187.5px,#58009f 189.5px,#58009f 190.5px,#78009b 193.5px,#78009b 194.5px,#870098 195.5px,#830094 197.5px,#63009e 198.5px,#1800a7 199.5px,#58009f 200.5px,#860097 201.5px,#860097 202.5px,#2300a6 203.5px,#2d00a4 204.5px,#860097 205.5px,#860097 208.5px,#2300a6 209.5px,#4300a2 210.5px,#850096 211.5px,#850096 212.5px,#2300a6 213.5px,#83009a 214.5px,#670075 215.5px,#670075 217.5px,#7a008b 218.5px,#820093 219.5px,#5d006b 220.5px,#5d006b 227.5px,#79008a 228.5px,#830094 229.5px,#830094 230.5px,#380040 231.5px,#2f0035 232.5px,#2f0035 237.5px,#25002b 238.5px,#25002b 245.5px,#1c0020 246.5px,#1c0020 250.5px,#130015 251.5px,#130015 255.5px,#09000b 256.5px,#09000b 260.5px,#25002b 261.5px,#25002b 262.5px,#000 263.5px,#000 266.5px)"></i><i style="top:335px;height:16px;background:linear-gradient(90deg,#e4f100 0.5px,#7d008e 1.5px,#000 2.5px,#000 52.5px,#25002b 53.5px,#708 54.5px,#860097 55.5px,#0d00a8 56.5px,#00d 57.5px,#0078dd 58.5px,#0098dd 59.5px,#00aaa0 60.5px,#009f00 62.5px,#00f700 66.5px,#0f0 67.5px,#0fff00 68.5px,#0fff00 69.5px,#58ff00 70.5px,#93ff00 71.5px,#b0ff00 72.5px,#c0fd00 73.5px,#d0f800 77.5px,#d8f500 83.5px,#dcf400 97.5px,#d8f500 101.5px,#d4f700 109.5px,#d4f700 116.5px,#d8f500 120.5px,#d8f500 124.5px,#d0f800 128.5px,#bcff00 130.5px,#a1ff00 131.5px,#93ff00 132.5px,#58ff00 134.5px,#49ff00 135.5px,#2cff00 136.5px,#2cff00 137.5px,#00fc00 140.5px,#00bc00 155.5px,#009c00 161.5px,#009a08 162.5px,#009d1d 163.5px,#009e28 164.5px,#00a13d 165.5px,#00a248 166.5px,#0a8 169.5px,#00aaa8 175.5px,#009bd7 180.5px,#0095dd 182.5px,#0078dd 189.5px,#0067dd 190.5px,#005ddd 191.5px,#004bdd 192.5px,#0038dd 194.5px,#001cdd 195.5px,#0000d5 196.5px,#0000c5 197.5px,#005ddd 198.5px,#0098dd 199.5px,#0078dd 200.5px,#00d 201.5px,#00d 202.5px,#0098dd 203.5px,#0092dd 204.5px,#00d 205.5px,#00d 208.5px,#0098dd 209.5px,#08d 210.5px,#00d 211.5px,#00d 212.5px,#0098dd 213.5px,#0038dd 214.5px,#870098 215.5px,#860097 217.5px,#3800a3 218.5px,#0000c9 219.5px,#850096 220.5px,#820093 227.5px,#4300a2 228.5px,#0000d1 229.5px,#0000d1 230.5px,#708 231.5px,#670075 233.5px,#670075 237.5px,#5d006b 238.5px,#5d006b 241.5px,#540060 242.5px,#540060 244.5px,#4b0055 245.5px,#4b0055 247.5px,#41004b 248.5px,#41004b 249.5px,#380040 250.5px,#380040 251.5px,#2f0035 252.5px,#2f0035 254.5px,#25002b 255.5px,#25002b 256.5px,#1c0020 257.5px,#1c0020 258.5px,#130015 259.5px,#130015 260.5px,#540060 261.5px,#540060 262.5px,#000 263.5px,#000 266.5px)"></i><i style="top:351px;height:1px;background:linear-gradient(90deg,#e4f100 0.5px,#7d008e 1.5px,#000 2.5px,#000 52.5px,#25002b 53.5px,#708 54.5px,#860097 55.5px,#0d00a8 56.5px,#00d 57.5px,#0078dd 58.5px,#0098dd 59.5px,#00aaa0 60.5px,#009f00 62.5px,#00f700 66.5px,#0f0 67.5px,#0fff00 68.5px,#0fff00 69.5px,#58ff00 70.5px,#93ff00 71.5px,#b0ff00 72.5px,#c0fd00 73.5px,#d0f800 77.5px,#d8f500 83.5px,#dcf400 97.5px,#d8f500 101.5px,#d4f700 109.5px,#d4f700 116.5px,#d8f500 120.5px,#d8f500 124.5px,#d0f800 128.5px,#bcff00 130.5px,#a1ff00 131.5px,#93ff00 132.5px,#58ff00 134.5px,#49ff00 135.5px,#2cff00 136.5px,#2cff00 137.5px,#00fc00 140.5px,#00bc00 155.5px,#009c00 161.5px,#009a08 162.5px,#009d1d 163.5px,#009e28 164.5px,#00a13d 165.5px,#00a248 166.5px,#0a8 169.5px,#00aaa8 175.5px,#009bd7 180.5px,#0095dd 182.5px,#0078dd 189.5px,#0067dd 190.5px,#005ddd 191.5px,#004bdd 192.5px,#0038dd 194.5px,#001cdd 195.5px,#0000d5 196.5px,#0000c5 197.5px,#005ddd 198.5px,#0098dd 199.5px,#0078dd 200.5px,#00d 201.5px,#00d 202.5px,#0098dd 203.5px,#0092dd 204.5px,#00d 205.5px,#00d 208.5px,#0098dd 209.5px,#08d 210.5px,#00d 211.5px,#00d 212.5px,#0098dd 213.5px,#0038dd 214.5px,#870098 215.5px,#860097 217.5px,#3800a3 218.5px,#0000c9 219.5px,#850096 220.5px,#820093 227.5px,#860097 228.5px,#78009b 229.5px,#870098 230.5px,#708 231.5px,#670075 233.5px,#670075 237.5px,#5d006b 238.5px,#5d006b 241.5px,#540060 242.5px,#540060 244.5px,#4b0055 245.5px,#4b0055 247.5px,#41004b 248.5px,#41004b 249.5px,#380040 250.5px,#380040 251.5px,#2f0035 252.5px,#2f0035 254.5px,#25002b 255.5px,#25002b 256.5px,#1c0020 257.5px,#1c0020 258.5px,#130015 259.5px,#130015 260.5px,#1c0020 261.5px,#1c0020 262.5px,#000 263.5px,#000 266.5px)"></i><i style="top:352px;height:16px;background:linear-gradient(90deg,#e4f100 0.5px,#7d008e 1.5px,#000 2.5px,#000 52.5px,#25002b 53.5px,#708 54.5px,#860097 55.5px,#0d00a8 56.5px,#00d 57.5px,#0078dd 58.5px,#0098dd 59.5px,#00aaa0 60.5px,#009f00 62.5px,#00f700 66.5px,#0f0 67.5px,#0fff00 68.5px,#0fff00 69.5px,#58ff00 70.5px,#93ff00 71.5px,#b0ff00 72.5px,#c0fd00 73.5px,#d0f800 77.5px,#d8f500 83.5px,#dcf400 97.5px,#d8f500 101.5px,#d4f700 109.5px,#d4f700 116.5px,#d8f500 120.5px,#d8f500 124.5px,#d0f800 128.5px,#bcff00 130.5px,#a1ff00 131.5px,#93ff00 132.5px,#58ff00 134.5px,#49ff00 135.5px,#2cff00 136.5px,#2cff00 137.5px,#00fc00 140.5px,#00bc00 155.5px,#009c00 161.5px,#009a08 162.5px,#009d1d 163.5px,#009e28 164.5px,#00a13d 165.5px,#00a248 166.5px,#0a8 169.5px,#00aaa8 175.5px,#009bd7 180.5px,#0095dd 182.5px,#0078dd 189.5px,#0067dd 190.5px,#005ddd 191.5px,#004bdd 192.5px,#0038dd 194.5px,#001cdd 195.5px,#0000d5 196.5px,#0000c5 197.5px,#005ddd 198.5px,#0098dd 199.5px,#0078dd 200.5px,#00d 201.5px,#00d 202.5px,#0098dd 203.5px,#0092dd 204.5px,#00d 205.5px,#00d 208.5px,#0098dd 209.5px,#08d 210.5px,#00d 211.5px,#00d 212.5px,#0098dd 213.5px,#0038dd 214.5px,#870098 215.5px,#860097 217.5px,#3800a3 218.5px,#0000c9 219.5px,#850096 220.5px,#7f0090 229.5px,#700080 232.5px,#670075 233.5px,#670075 237.5px,#5d006b 238.5px,#5d006b 241.5px,#540060 242.5px,#540060 244.5px,#4b0055 245.5px,#4b0055 247.5px,#41004b 248.5px,#41004b 249.5px,#380040 250.5px,#380040 251.5px,#2f0035 252.5px,#2f0035 254.5px,#25002b 255.5px,#25002b 256.5px,#1c0020 257.5px,#1c0020 258.5px,#130015 259.5px,#130015 260.5px,#09000b 261.5px,#09000b 262.5px,#000 263.5px,#000 266.5px)"></i></div><div class="hm" style="left:328px;top:28px"><i style="top:0px;height:16px;background:linear-gradient(90deg,#ccc 0.5px,#7f0090 1.5px,#000 3.5px,#000 32.5px,#09000b 33.5px,#000 34.5px,#000 52.5px,#2f0035 53.5px,#7d008e 54.5px,#860097 55.5px,#0000b5 56.5px,#0038dd 57.5px,#08d 58.5px,#00a0c7 59.5px,#00aa9d 60.5px,#009e28 61.5px,#00ba00 62.5px,#00df00 63.5px,#00f400 64.5px,#0f0 66.5px,#0fff00 67.5px,#0fff00 68.5px,#58ff00 69.5px,#93ff00 70.5px,#bcff00 71.5px,#d0f800 74.5px,#dcf400 78.5px,#dcf400 82.5px,#d0f800 84.5px,#d0f800 88.5px,#d8f500 89.5px,#d8f500 94.5px,#d4f700 98.5px,#c8fb00 106.5px,#c8fb00 110.5px,#dcf400 113.5px,#e0f300 121.5px,#ccf900 124.5px,#c4fc00 132.5px,#b0ff00 134.5px,#93ff00 136.5px,#93ff00 137.5px,#84ff00 138.5px,#84ff00 139.5px,#2cff00 141.5px,#0fff00 143.5px,#0fff00 147.5px,#0f0 148.5px,#00fc00 150.5px,#00c700 157.5px,#009c00 165.5px,#009a08 166.5px,#009a08 168.5px,#009d1d 169.5px,#009e28 170.5px,#00a97d 174.5px,#00aa8b 175.5px,#00aaa0 180.5px,#009bd7 185.5px,#0090dd 187.5px,#007add 192.5px,#0067dd 194.5px,#0054dd 195.5px,#0038dd 196.5px,#0025dd 197.5px,#0078dd 198.5px,#00a3bf 199.5px,#0080dd 200.5px,#00d 201.5px,#00d 202.5px,#0098dd 203.5px,#0092dd 204.5px,#00d 205.5px,#002fdd 206.5px,#0085dd 207.5px,#0080dd 208.5px,#0098dd 209.5px,#0092dd 210.5px,#00d 211.5px,#00d 212.5px,#0098dd 213.5px,#0078dd 214.5px,#00d 215.5px,#00d 216.5px,#0000b1 217.5px,#4d00a0 218.5px,#78009b 219.5px,#860097 220.5px,#7e008f 227.5px,#009c00 228.5px,#f10000 229.5px,#f10000 230.5px,#009b13 231.5px,#79008a 232.5px,#708 234.5px,#700080 235.5px,#700080 236.5px,#670075 237.5px,#670075 239.5px,#5d006b 240.5px,#5d006b 242.5px,#540060 243.5px,#540060 244.5px,#4b0055 245.5px,#4b0055 246.5px,#41004b 247.5px,#41004b 248.5px,#380040 249.5px,#380040 250.5px,#2f0035 251.5px,#2f0035 252.5px,#25002b 253.5px,#25002b 254.5px,#1c0020 255.5px,#1c0020 256.5px,#130015 257.5px,#130015 259.5px,#09000b 260.5px,#09000b 261.5px,#000 262.5px,#000 266.5px)"></i><i style="top:16px;height:1px;background:linear-gradient(90deg,#ccc 0.5px,#7f0090 1.5px,#000 3.5px,#000 32.5px,#09000b 33.5px,#000 34.5px,#000 52.5px,#2f0035 53.5px,#7d008e 54.5px,#860097 55.5px,#0000b5 56.5px,#0038dd 57.5px,#08d 58.5px,#00a0c7 59.5px,#00aa9d 60.5px,#009e28 61.5px,#00ba00 62.5px,#00df00 63.5px,#00f400 64.5px,#0f0 66.5px,#0fff00 67.5px,#0fff00 68.5px,#58ff00 69.5px,#93ff00 70.5px,#bcff00 71.5px,#d0f800 74.5px,#dcf400 78.5px,#dcf400 82.5px,#d0f800 84.5px,#d0f800 88.5px,#d8f500 89.5px,#d8f500 94.5px,#d4f700 98.5px,#c8fb00 106.5px,#c8fb00 110.5px,#dcf400 113.5px,#e0f300 121.5px,#ccf900 124.5px,#c4fc00 132.5px,#b0ff00 134.5px,#93ff00 136.5px,#93ff00 137.5px,#84ff00 138.5px,#84ff00 139.5px,#2cff00 141.5px,#0fff00 143.5px,#0fff00 147.5px,#0f0 148.5px,#00fc00 150.5px,#00c700 157.5px,#009c00 165.5px,#009a08 166.5px,#009a08 168.5px,#009d1d 169.5px,#009e28 170.5px,#00a97d 174.5px,#00aa8b 175.5px,#00aaa0 180.5px,#009bd7 185.5px,#0090dd 187.5px,#007add 192.5px,#0067dd 194.5px,#0054dd 195.5px,#0038dd 196.5px,#0025dd 197.5px,#0078dd 198.5px,#00a3bf 199.5px,#0080dd 200.5px,#00d 201.5px,#00d 202.5px,#0098dd 203.5px,#0092dd 204.5px,#00d 205.5px,#002fdd 206.5px,#0085dd 207.5px,#0080dd 208.5px,#0098dd 209.5px,#0092dd 210.5px,#00d 211.5px,#00d 212.5px,#0098dd 213.5px,#0078dd 214.5px,#00d 215.5px,#00d 216.5px,#0000b1 217.5px,#4d00a0 218.5px,#78009b 219.5px,#860097 220.5px,#7e008f 227.5px,#00aaab 228.5px,#bcff00 229.5px,#bcff00 230.5px,#00a6b7 231.5px,#79008a 232.5px,#708 234.5px,#700080 235.5px,#700080 236.5px,#670075 237.5px,#670075 239.5px,#5d006b 240.5px,#5d006b 242.5px,#540060 243.5px,#540060 244.5px,#4b0055 245.5px,#4b0055 246.5px,#41004b 247.5px,#41004b 248.5px,#380040 249.5px,#380040 250.5px,#2f0035 251.5px,#2f0035 252.5px,#25002b 253.5px,#25002b 254.5px,#1c0020 255.5px,#1c0020 256.5px,#130015 257.5px,#130015 259.5px,#09000b 260.5px,#09000b 261.5px,#000 262.5px,#000 266.5px)"></i><i style="top:17px;height:16px;background:linear-gradient(90deg,#ccc 0.5px,#7f0090 1.5px,#000 3.5px,#000 32.5px,#09000b 33.5px,#000 34.5px,#000 52.5px,#2f0035 53.5px,#7d008e 54.5px,#860097 55.5px,#0000b5 56.5px,#0038dd 57.5px,#08d 58.5px,#00a0c7 59.5px,#00aa9d 60.5px,#009e28 61.5px,#00ba00 62.5px,#00df00 63.5px,#00f400 64.5px,#0f0 66.5px,#0fff00 67.5px,#0fff00 68.5px,#58ff00 69.5px,#93ff00 70.5px,#bcff00 71.5px,#d0f800 74.5px,#dcf400 78.5px,#dcf400 82.5px,#d0f800 84.5px,#d0f800 88.5px,#d8f500 89.5px,#d8f500 94.5px,#d4f700 98.5px,#c8fb00 106.5px,#c8fb00 110.5px,#dcf400 113.5px,#e0f300 121.5px,#ccf900 124.5px,#c4fc00 132.5px,#b0ff00 134.5px,#93ff00 136.5px,#93ff00 137.5px,#84ff00 138.5px,#84ff00 139.5px,#2cff00 141.5px,#0fff00 143.5px,#0fff00 147.5px,#0f0 148.5px,#00fc00 150.5px,#00c700 157.5px,#009c00 165.5px,#009a08 166.5px,#009a08 168.5px,#009d1d 169.5px,#009e28 170.5px,#00a97d 174.5px,#00aa8b 175.5px,#00aaa0 180.5px,#009bd7 185.5px,#0090dd 187.5px,#007add 192.5px,#0067dd 194.5px,#0054dd 195.5px,#0038dd 196.5px,#0025dd 197.5px,#0078dd 198.5px,#00a3bf 199.5px,#0080dd 200.5px,#00d 201.5px,#00d 202.5px,#0098dd 203.5px,#0092dd 204.5px,#00d 205.5px,#002fdd 206.5px,#0085dd 207.5px,#0080dd 208.5px,#0098dd 209.5px,#0092dd 210.5px,#00d 211.5px,#00d 212.5px,#0098dd 213.5px,#0078dd 214.5px,#00d 215.5px,#00d 216.5px,#0000b1 217.5px,#4d00a0 218.5px,#78009b 219.5px,#860097 220.5px,#708 234.5px,#700080 235.5px,#700080 236.5px,#670075 237.5px,#670075 239.5px,#5d006b 240.5px,#5d006b 242.5px,#540060 243.5px,#540060 244.5px,#4b0055 245.5px,#4b0055 246.5px,#41004b 247.5px,#41004b 248.5px,#380040 249.5px,#380040 250.5px,#2f0035 251.5px,#2f0035 252.5px,#25002b 253.5px,#25002b 254.5px,#1c0020 255.5px,#1c0020 256.5px,#130015 257.5px,#130015 259.5px,#09000b 260.5px,#09000b 261.5px,#000 262.5px,#000 266.5px)"></i><i style="top:33px;height:1px;background:linear-gradient(90deg,#ccc 0.5px,#7f0090 1.5px,#000 3.5px,#000 32.5px,#09000b 33.5px,#000 34.5px,#000 52.5px,#130015 53.5px,#4b0055 54.5px,#7e008f 56.5px,#83009a 57.5px,#0300aa 59.5px,#0000bd 60.5px,#0009dd 61.5px,#004bdd 62.5px,#007add 63.5px,#008add 65.5px,#0092dd 69.5px,#009adb 70.5px,#009fcb 75.5px,#00a0c7 83.5px,#009fcb 87.5px,#00a0c7 92.5px,#00a3bf 93.5px,#00a3bf 94.5px,#00a0c7 95.5px,#00a0c7 99.5px,#009fcb 103.5px,#009fcb 111.5px,#00a2c3 115.5px,#00a2c3 122.5px,#009fcb 125.5px,#009cd3 133.5px,#0098dd 140.5px,#0090dd 142.5px,#008add 150.5px,#0078dd 155.5px,#001cdd 165.5px,#001cdd 167.5px,#0013dd 168.5px,#0013dd 169.5px,#00d 171.5px,#0000bd 181.5px,#0300aa 184.5px,#58009f 192.5px,#58009f 193.5px,#83009a 197.5px,#58009f 198.5px,#0000ad 199.5px,#860097 201.5px,#860097 202.5px,#1800a7 203.5px,#2d00a4 204.5px,#860097 205.5px,#83009a 206.5px,#4300a2 207.5px,#4300a2 208.5px,#1800a7 209.5px,#2d00a4 210.5px,#860097 211.5px,#860097 212.5px,#1800a7 213.5px,#58009f 214.5px,#860097 215.5px,#860097 216.5px,#700080 220.5px,#670075 221.5px,#670075 223.5px,#5d006b 224.5px,#5d006b 225.5px,#540060 226.5px,#540060 227.5px,#4b0055 228.5px,#4b0055 229.5px,#41004b 230.5px,#41004b 231.5px,#380040 232.5px,#380040 235.5px,#2f0035 236.5px,#2f0035 240.5px,#25002b 241.5px,#25002b 245.5px,#1c0020 246.5px,#1c0020 249.5px,#130015 250.5px,#130015 254.5px,#09000b 255.5px,#09000b 258.5px,#000 259.5px,#000 266.5px)"></i><i style="top:34px;height:16px;background:linear-gradient(90deg,#ccc 0.5px,#7f0090 1.5px,#000 3.5px,#000 32.5px,#09000b 33.5px,#000 34.5px,#000 59.5px,#130015 61.5px,#130015 63.5px,#1c0020 64.5px,#1c0020 66.5px,#25002b 67.5px,#25002b 71.5px,#2f0035 72.5px,#2f0035 80.5px,#380040 81.5px,#380040 92.5px,#5d006b 93.5px,#5d006b 94.5px,#41004b 95.5px,#41004b 139.5px,#380040 140.5px,#380040 141.5px,#2f0035 142.5px,#2f0035 143.5px,#25002b 144.5px,#25002b 155.5px,#1c0020 156.5px,#1c0020 187.5px,#130015 188.5px,#130015 221.5px,#09000b 222.5px,#09000b 228.5px,#000 229.5px,#000 266.5px)"></i><i style="top:50px;height:1px;background:linear-gradient(90deg,#ccc 0.5px,#7f0090 1.5px,#000 3.5px,#000 32.5px,#09000b 33.5px,#000 34.5px,#000 54.5px,#09000b 55.5px,#41004b 57.5px,#670075 58.5px,#7a008b 59.5px,#870098 62.5px,#3800a3 63.5px,#0300aa 64.5px,#0000c1 68.5px,#0000d9 70.5px,#0013dd 71.5px,#004bdd 73.5px,#005ddd 74.5px,#0078dd 75.5px,#0080dd 76.5px,#0085dd 80.5px,#0092dd 98.5px,#009adb 103.5px,#009cd3 104.5px,#00a4bb 113.5px,#00a6b7 115.5px,#00aaa5 117.5px,#00aaa0 124.5px,#00aa9d 139.5px,#00aaa0 141.5px,#00a3bf 144.5px,#009adb 148.5px,#0078dd 157.5px,#0054dd 159.5px,#0041dd 161.5px,#0009dd 164.5px,#0000d9 165.5px,#0000c1 168.5px,#0000b9 174.5px,#0300aa 181.5px,#2300a6 184.5px,#2300a6 185.5px,#3800a3 187.5px,#4d00a0 188.5px,#63009e 190.5px,#78009b 191.5px,#83009a 192.5px,#830094 194.5px,#810092 197.5px,#00d 198.5px,#0090dd 199.5px,#0078dd 200.5px,#0000b1 201.5px,#0000c9 202.5px,#08d 203.5px,#0082dd 204.5px,#0067dd 205.5px,#0067dd 207.5px,#0041dd 208.5px,#008ddd 209.5px,#008add 210.5px,#0000ad 211.5px,#0000b9 212.5px,#0080dd 213.5px,#0080dd 214.5px,#0054dd 215.5px,#0000c1 216.5px,#0000c1 218.5px,#1800a7 219.5px,#7f0090 220.5px,#79008a 221.5px,#380040 222.5px,#380040 223.5px,#2f0035 224.5px,#2f0035 229.5px,#25002b 230.5px,#25002b 233.5px,#1c0020 234.5px,#1c0020 238.5px,#130015 239.5px,#130015 246.5px,#09000b 247.5px,#09000b 253.5px,#000 254.5px,#000 266.5px)"></i><i style="top:51px;height:15px;background:linear-gradient(90deg,#ccc 0.5px,#7f0090 1.5px,#000 3.5px,#000 32.5px,#09000b 33.5px,#000 34.5px,#000 54.5px,#130015 55.5px,#2f0035 56.5px,#79008a 58.5px,#830094 60.5px,#83009a 61.5px,#58009f 62.5px,#0000b1 63.5px,#0000c9 64.5px,#00d 67.5px,#0013dd 68.5px,#002fdd 69.5px,#0078dd 71.5px,#009adb 75.5px,#009ecf 76.5px,#00a4bb 83.5px,#00a6b7 85.5px,#00a4bb 88.5px,#00a6b7 92.5px,#00a7b3 97.5px,#00aaa8 99.5px,#00aaa0 103.5px,#00aa93 107.5px,#0a8 113.5px,#0a8 114.5px,#00a773 115.5px,#00a353 116.5px,#00a13d 117.5px,#00a13d 118.5px,#009e28 119.5px,#009b13 121.5px,#009d1d 122.5px,#009d1d 124.5px,#009b13 125.5px,#009b13 126.5px,#009d1d 127.5px,#009b13 128.5px,#009b13 133.5px,#009a08 134.5px,#009a08 137.5px,#009b13 138.5px,#009b13 140.5px,#009d1d 141.5px,#00a13d 142.5px,#00a668 143.5px,#0a8 144.5px,#00aa98 147.5px,#00aaa3 149.5px,#00aaab 151.5px,#00a6b7 152.5px,#009ecf 156.5px,#009adb 157.5px,#0082dd 162.5px,#0070dd 164.5px,#0054dd 165.5px,#002fdd 167.5px,#0013dd 168.5px,#0013dd 169.5px,#0009dd 170.5px,#0009dd 172.5px,#00d 173.5px,#0000d1 178.5px,#0000c5 182.5px,#0000b9 184.5px,#0000b5 186.5px,#0000ad 187.5px,#1800a7 189.5px,#2d00a4 190.5px,#3800a3 191.5px,#78009b 194.5px,#83009a 195.5px,#850096 197.5px,#0067dd 198.5px,#00a8af 199.5px,#009bd7 200.5px,#0000d1 201.5px,#002fdd 202.5px,#00a4bb 203.5px,#00a0c7 204.5px,#0098dd 205.5px,#0098dd 207.5px,#08d 208.5px,#00a8af 209.5px,#00a7b3 210.5px,#0000d1 211.5px,#00d 212.5px,#00a0c7 213.5px,#00a0c7 214.5px,#0090dd 215.5px,#0013dd 216.5px,#001cdd 217.5px,#0013dd 218.5px,#0000c1 219.5px,#850096 220.5px,#7d008e 221.5px,#41004b 222.5px,#41004b 223.5px,#380040 224.5px,#380040 229.5px,#2f0035 230.5px,#2f0035 233.5px,#25002b 234.5px,#25002b 236.5px,#1c0020 237.5px,#1c0020 243.5px,#130015 244.5px,#130015 249.5px,#09000b 250.5px,#09000b 254.5px,#000 255.5px,#000 266.5px)"></i><i style="top:66px;height:1px;background:linear-gradient(90deg,#ccc 0.5px,#7f0090 1.5px,#000 3.5px,#000 32.5px,#09000b 33.5px,#000 34.5px,#000 54.5px,#130015 55.5px,#2f0035 56.5px,#79008a 58.5px,#830094 60.5px,#83009a 61.5px,#63009e 62.5px,#0000b1 63.5px,#0000c9 64.5px,#00d 67.5px,#0009dd 68.5px,#0078dd 71.5px,#009adb 75.5px,#009ecf 76.5px,#00a4bb 83.5px,#00a4bb 88.5px,#00a6b7 92.5px,#00a8af 98.5px,#00aaa5 100.5px,#00aaa5 102.5px,#00aa9b 104.5px,#0a8 113.5px,#0a8 114.5px,#00a773 115.5px,#00a353 116.5px,#00a13d 117.5px,#00a13d 118.5px,#009f33 119.5px,#009d1d 120.5px,#009d1d 124.5px,#009b13 125.5px,#009b13 126.5px,#009d1d 127.5px,#009b13 128.5px,#009b13 133.5px,#009a08 134.5px,#009a08 136.5px,#009b13 137.5px,#009b13 140.5px,#009d1d 141.5px,#00a13d 142.5px,#00a668 143.5px,#0a8 144.5px,#00aa98 147.5px,#00aaa5 149.5px,#00aaab 151.5px,#00a3bf 153.5px,#009ecf 156.5px,#009adb 157.5px,#007add 163.5px,#0070dd 164.5px,#0054dd 165.5px,#002fdd 167.5px,#0013dd 168.5px,#0009dd 169.5px,#0009dd 172.5px,#00d 173.5px,#0000cd 180.5px,#0000b9 184.5px,#0000b5 186.5px,#0000ad 187.5px,#1800a7 189.5px,#2d00a4 190.5px,#3800a3 191.5px,#78009b 194.5px,#83009a 195.5px,#850096 197.5px,#0067dd 198.5px,#00a8af 199.5px,#009bd7 200.5px,#0000d1 201.5px,#002fdd 202.5px,#00a4bb 203.5px,#00a0c7 204.5px,#0098dd 205.5px,#0098dd 207.5px,#08d 208.5px,#00a8af 209.5px,#00a7b3 210.5px,#0000d1 211.5px,#00d 212.5px,#00a0c7 213.5px,#00a0c7 214.5px,#0090dd 215.5px,#0013dd 216.5px,#001cdd 217.5px,#0013dd 218.5px,#0000c1 219.5px,#850096 220.5px,#7d008e 221.5px,#41004b 222.5px,#41004b 223.5px,#380040 224.5px,#380040 229.5px,#2f0035 230.5px,#2f0035 233.5px,#25002b 234.5px,#25002b 236.5px,#1c0020 237.5px,#1c0020 243.5px,#130015 244.5px,#130015 249.5px,#09000b 250.5px,#09000b 254.5px,#000 255.5px,#000 266.5px)"></i><i style="top:67px;height:16px;background:linear-gradient(90deg,#ccc 0.5px,#7f0090 1.5px,#000 3.5px,#000 32.5px,#09000b 33.5px,#000 34.5px,#000 54.5px,#130015 55.5px,#2f0035 56.5px,#79008a 58.5px,#830094 60.5px,#83009a 61.5px,#63009e 62.5px,#0000ad 63.5px,#0000c5 64.5px,#0000d9 67.5px,#00d 68.5px,#0025dd 69.5px,#0041dd 70.5px,#0067dd 71.5px,#007ddd 72.5px,#0098dd 75.5px,#009cd3 76.5px,#009ecf 79.5px,#00a0c7 80.5px,#00a2c3 83.5px,#00a3bf 85.5px,#00a2c3 88.5px,#00a4bb 91.5px,#00a6b7 97.5px,#00aa93 109.5px,#00aa8b 113.5px,#00aa8b 114.5px,#00a97d 115.5px,#00a55d 116.5px,#00a248 117.5px,#00a248 118.5px,#00a13d 119.5px,#009e28 120.5px,#009d1d 121.5px,#009e28 122.5px,#009e28 124.5px,#009d1d 125.5px,#009d1d 128.5px,#009b13 129.5px,#009b13 134.5px,#009a08 135.5px,#009a08 136.5px,#009b13 137.5px,#009b13 138.5px,#009d1d 139.5px,#009d1d 140.5px,#009e28 141.5px,#00a248 142.5px,#00a773 143.5px,#00aa8b 144.5px,#00aa95 146.5px,#00a7b3 151.5px,#00a0c7 153.5px,#009adb 156.5px,#0082dd 160.5px,#007add 162.5px,#0041dd 165.5px,#0025dd 166.5px,#00d 168.5px,#0000d5 172.5px,#0000c9 177.5px,#0000c1 181.5px,#0000b1 185.5px,#0000b1 186.5px,#0300aa 187.5px,#1800a7 188.5px,#2d00a4 190.5px,#83009a 194.5px,#860097 196.5px,#850096 197.5px,#005ddd 198.5px,#00a7b3 199.5px,#009adb 200.5px,#0000d1 201.5px,#002fdd 202.5px,#00a3bf 203.5px,#00a0c7 204.5px,#0095dd 205.5px,#0095dd 207.5px,#08d 208.5px,#00a7b3 209.5px,#00a6b7 210.5px,#0000d1 211.5px,#0000d9 212.5px,#009fcb 213.5px,#009fcb 214.5px,#0090dd 215.5px,#0013dd 216.5px,#0013dd 218.5px,#0000c1 219.5px,#830094 220.5px,#7b008c 221.5px,#41004b 222.5px,#380040 223.5px,#380040 229.5px,#2f0035 230.5px,#2f0035 233.5px,#25002b 234.5px,#25002b 235.5px,#1c0020 236.5px,#1c0020 243.5px,#130015 244.5px,#130015 248.5px,#09000b 249.5px,#09000b 254.5px,#000 255.5px,#000 266.5px)"></i><i style="top:83px;height:1px;background:linear-gradient(90deg,#ccc 0.5px,#7f0090 1.5px,#000 3.5px,#000 32.5px,#09000b 33.5px,#000 34.5px,#000 54.5px,#130015 55.5px,#2f0035 56.5px,#79008a 58.5px,#870098 61.5px,#6d009c 62.5px,#0300aa 63.5px,#0000c1 64.5px,#0000d9 68.5px,#0038dd 70.5px,#005ddd 71.5px,#007add 72.5px,#009adb 76.5px,#009bd7 79.5px,#009ecf 80.5px,#009fcb 83.5px,#00a0c7 85.5px,#009fcb 88.5px,#00a2c3 91.5px,#00a0c7 93.5px,#00a3bf 97.5px,#00a7b3 101.5px,#00a7b3 102.5px,#00aaa5 104.5px,#00aa90 113.5px,#00aa8b 115.5px,#00a668 116.5px,#00a55d 117.5px,#00a55d 118.5px,#009f33 120.5px,#009f33 121.5px,#00a13d 122.5px,#00a13d 124.5px,#009f33 125.5px,#009f33 128.5px,#009e28 129.5px,#009e28 133.5px,#009d1d 134.5px,#009d1d 136.5px,#009e28 137.5px,#009e28 139.5px,#00a13d 141.5px,#00a55d 142.5px,#0a8 143.5px,#00aaa0 147.5px,#00a4bb 151.5px,#00a0c7 152.5px,#009adb 155.5px,#0090dd 157.5px,#007add 161.5px,#0070dd 162.5px,#005ddd 163.5px,#0041dd 164.5px,#001cdd 166.5px,#00d 167.5px,#0000d1 169.5px,#0000cd 173.5px,#0000c1 178.5px,#0000b9 182.5px,#0000ad 186.5px,#1800a7 188.5px,#2d00a4 189.5px,#4300a2 191.5px,#83009a 194.5px,#860097 196.5px,#850096 197.5px,#0054dd 198.5px,#00a6b7 199.5px,#0098dd 200.5px,#0000cd 201.5px,#0025dd 202.5px,#00a2c3 203.5px,#009fcb 204.5px,#0095dd 205.5px,#0095dd 207.5px,#0085dd 208.5px,#00a7b3 209.5px,#00a6b7 210.5px,#0000cd 211.5px,#0000d9 212.5px,#009fcb 213.5px,#009fcb 214.5px,#008ddd 215.5px,#0013dd 216.5px,#0013dd 218.5px,#0000bd 219.5px,#830094 220.5px,#7b008c 221.5px,#41004b 222.5px,#380040 223.5px,#380040 229.5px,#2f0035 230.5px,#2f0035 233.5px,#25002b 234.5px,#25002b 235.5px,#1c0020 236.5px,#1c0020 242.5px,#130015 243.5px,#130015 248.5px,#09000b 249.5px,#09000b 254.5px,#000 255.5px,#000 266.5px)"></i><i style="top:84px;height:16px;background:linear-gradient(90deg,#ccc 0.5px,#7f0090 1.5px,#000 3.5px,#000 32.5px,#09000b 33.5px,#000 34.5px,#000 54.5px,#130015 55.5px,#4b0055 57.5px,#708 58.5px,#860097 61.5px,#78009b 62.5px,#1800a7 63.5px,#0000b9 64.5px,#0000d1 68.5px,#00d 69.5px,#001cdd 70.5px,#0067dd 72.5px,#0078dd 73.5px,#0090dd 76.5px,#009adb 83.5px,#009bd7 87.5px,#009ecf 97.5px,#00a4bb 103.5px,#00aaa5 107.5px,#00aa98 113.5px,#00aa93 115.5px,#0a8 116.5px,#00a773 117.5px,#00a97d 118.5px,#00a773 119.5px,#00a55d 120.5px,#00a353 121.5px,#00a55d 122.5px,#00a55d 124.5px,#00a353 125.5px,#00a353 126.5px,#00a55d 127.5px,#00a248 129.5px,#00a248 133.5px,#009f33 135.5px,#009f33 136.5px,#00a353 139.5px,#00a353 140.5px,#00a55d 141.5px,#00a97d 142.5px,#00aa8d 143.5px,#00aaa8 147.5px,#00a4bb 149.5px,#00a0c7 151.5px,#009adb 153.5px,#008ddd 156.5px,#007ddd 158.5px,#007add 159.5px,#0070dd 160.5px,#005ddd 161.5px,#0054dd 162.5px,#0038dd 163.5px,#00d 166.5px,#0000c9 168.5px,#0000bd 175.5px,#0000b5 180.5px,#0300aa 185.5px,#1800a7 187.5px,#2d00a4 188.5px,#4300a2 190.5px,#58009f 191.5px,#63009e 192.5px,#870098 194.5px,#830094 197.5px,#0041dd 198.5px,#00a2c3 199.5px,#0092dd 200.5px,#0000c9 201.5px,#001cdd 202.5px,#00a0c7 203.5px,#009ecf 204.5px,#0092dd 205.5px,#0092dd 207.5px,#0082dd 208.5px,#00a6b7 209.5px,#00a4bb 210.5px,#0000cd 211.5px,#0000d5 212.5px,#009ecf 213.5px,#009ecf 214.5px,#008add 215.5px,#0009dd 216.5px,#0009dd 218.5px,#0000bd 219.5px,#830094 220.5px,#7b008c 221.5px,#380040 222.5px,#380040 228.5px,#2f0035 229.5px,#2f0035 232.5px,#25002b 233.5px,#25002b 235.5px,#1c0020 236.5px,#1c0020 242.5px,#130015 243.5px,#130015 248.5px,#09000b 249.5px,#09000b 253.5px,#000 254.5px,#000 266.5px)"></i><i style="top:100px;height:1px;background:linear-gradient(90deg,#ccc 0.5px,#7f0090 1.5px,#000 3.5px,#000 32.5px,#09000b 33.5px,#000 34.5px,#000 54.5px,#130015 55.5px,#2f0035 56.5px,#79008a 58.5px,#870098 61.5px,#63009e 62.5px,#0000ad 63.5px,#0000c5 64.5px,#00d 68.5px,#001cdd 69.5px,#0067dd 71.5px,#007ddd 72.5px,#0095dd 75.5px,#009bd7 77.5px,#009cd3 79.5px,#009fcb 80.5px,#00a0c7 83.5px,#00a2c3 85.5px,#00a0c7 88.5px,#00a3bf 91.5px,#00a4bb 97.5px,#00aa9b 107.5px,#00aa8d 113.5px,#0a8 115.5px,#00a668 116.5px,#00a353 117.5px,#00a353 118.5px,#00a248 119.5px,#009f33 120.5px,#009f33 125.5px,#009e28 126.5px,#009f33 127.5px,#009f33 128.5px,#009e28 129.5px,#009e28 133.5px,#009b13 135.5px,#009d1d 136.5px,#009d1d 137.5px,#009e28 138.5px,#009e28 140.5px,#009f33 141.5px,#00a353 142.5px,#00a97d 143.5px,#00aa8d 144.5px,#00aa9d 147.5px,#00a3bf 152.5px,#009adb 156.5px,#0082dd 160.5px,#007add 162.5px,#0041dd 165.5px,#0025dd 166.5px,#00d 168.5px,#0000d5 172.5px,#0000cd 176.5px,#0000bd 182.5px,#0300aa 187.5px,#1800a7 188.5px,#2300a6 189.5px,#3800a3 190.5px,#4300a2 191.5px,#83009a 194.5px,#860097 196.5px,#850096 197.5px,#005ddd 198.5px,#00a7b3 199.5px,#009adb 200.5px,#0000cd 201.5px,#002fdd 202.5px,#00a3bf 203.5px,#00a0c7 204.5px,#0095dd 205.5px,#0095dd 207.5px,#0085dd 208.5px,#00a7b3 209.5px,#00a6b7 210.5px,#0000cd 211.5px,#0000d9 212.5px,#009fcb 213.5px,#009fcb 214.5px,#0090dd 215.5px,#0013dd 216.5px,#0013dd 218.5px,#0000c1 219.5px,#830094 220.5px,#7b008c 221.5px,#41004b 222.5px,#380040 223.5px,#380040 229.5px,#2f0035 230.5px,#2f0035 233.5px,#25002b 234.5px,#25002b 235.5px,#1c0020 236.5px,#1c0020 243.5px,#130015 244.5px,#130015 248.5px,#09000b 249.5px,#09000b 254.5px,#000 255.5px,#000 266.5px)"></i><i style="top:101px;height:16px;background:linear-gradient(90deg,#ccc 0.5px,#7f0090 1.5px,#000 3.5px,#000 32.5px,#09000b 33.5px,#000 34.5px,#000 54.5px,#130015 55.5px,#2f0035 56.5px,#79008a 58.5px,#830094 60.5px,#83009a 61.5px,#58009f 62.5px,#0000b1 63.5px,#0000c9 64.5px,#00d 67.5px,#0013dd 68.5px,#002fdd 69.5px,#0078dd 71.5px,#009adb 75.5px,#009ecf 76.5px,#00a4bb 83.5px,#00a6b7 85.5px,#00a4bb 88.5px,#00a6b7 92.5px,#00a7b3 97.5px,#00aaa8 99.5px,#00aaa0 103.5px,#00aa93 107.5px,#0a8 113.5px,#0a8 114.5px,#00a773 115.5px,#00a353 116.5px,#00a13d 117.5px,#00a13d 118.5px,#009e28 119.5px,#009b13 121.5px,#009d1d 122.5px,#009d1d 124.5px,#009b13 125.5px,#009b13 126.5px,#009d1d 127.5px,#009b13 128.5px,#009b13 133.5px,#009a08 134.5px,#009a08 137.5px,#009b13 138.5px,#009b13 140.5px,#009d1d 141.5px,#00a13d 142.5px,#00a668 143.5px,#0a8 144.5px,#00aa98 147.5px,#00aaa3 149.5px,#00aaab 151.5px,#00a6b7 152.5px,#009ecf 156.5px,#009adb 157.5px,#0082dd 162.5px,#0070dd 164.5px,#0054dd 165.5px,#002fdd 167.5px,#0013dd 168.5px,#0013dd 169.5px,#0009dd 170.5px,#0009dd 172.5px,#00d 173.5px,#0000d1 178.5px,#0000c5 182.5px,#0000b9 184.5px,#0000b5 186.5px,#0000ad 187.5px,#1800a7 189.5px,#2d00a4 190.5px,#3800a3 191.5px,#78009b 194.5px,#83009a 195.5px,#850096 197.5px,#0067dd 198.5px,#00a8af 199.5px,#009bd7 200.5px,#0000d1 201.5px,#002fdd 202.5px,#00a4bb 203.5px,#00a0c7 204.5px,#0098dd 205.5px,#0098dd 207.5px,#08d 208.5px,#00a8af 209.5px,#00a7b3 210.5px,#0000d1 211.5px,#00d 212.5px,#00a0c7 213.5px,#00a0c7 214.5px,#0090dd 215.5px,#0013dd 216.5px,#001cdd 217.5px,#0013dd 218.5px,#0000c1 219.5px,#850096 220.5px,#7d008e 221.5px,#41004b 222.5px,#41004b 223.5px,#380040 224.5px,#380040 229.5px,#2f0035 230.5px,#2f0035 233.5px,#25002b 234.5px,#25002b 236.5px,#1c0020 237.5px,#1c0020 243.5px,#130015 244.5px,#130015 249.5px,#09000b 250.5px,#09000b 254.5px,#000 255.5px,#000 266.5px)"></i><i style="top:117px;height:1px;background:linear-gradient(90deg,#ccc 0.5px,#7f0090 1.5px,#000 3.5px,#000 32.5px,#09000b 33.5px,#000 34.5px,#000 54.5px,#130015 55.5px,#4b0055 57.5px,#708 58.5px,#860097 61.5px,#78009b 62.5px,#0d00a8 63.5px,#0000bd 64.5px,#0000d5 68.5px,#0009dd 69.5px,#0025dd 70.5px,#0070dd 72.5px,#008ddd 75.5px,#009adb 80.5px,#009cd3 84.5px,#009cd3 88.5px,#009ecf 92.5px,#00a0c7 98.5px,#00a4bb 102.5px,#00aaab 104.5px,#00aa93 113.5px,#00aa95 114.5px,#00aa90 115.5px,#00a668 117.5px,#00a773 118.5px,#00a55d 119.5px,#00a248 121.5px,#00a353 122.5px,#00a353 124.5px,#00a248 125.5px,#00a248 126.5px,#00a353 127.5px,#00a13d 129.5px,#00a13d 133.5px,#009f33 134.5px,#009f33 137.5px,#00a13d 138.5px,#00a13d 139.5px,#00a353 141.5px,#00a773 142.5px,#00aa8b 143.5px,#00aaa5 147.5px,#00a2c3 151.5px,#009ecf 152.5px,#0095dd 155.5px,#0070dd 161.5px,#004bdd 163.5px,#002fdd 164.5px,#0009dd 166.5px,#0000d9 167.5px,#0000cd 168.5px,#0000c1 175.5px,#0000b9 180.5px,#0300aa 186.5px,#1800a7 187.5px,#2300a6 188.5px,#3800a3 189.5px,#4d00a0 191.5px,#78009b 193.5px,#870098 194.5px,#830094 197.5px,#004bdd 198.5px,#00a3bf 199.5px,#0095dd 200.5px,#0000c9 201.5px,#0025dd 202.5px,#00a2c3 203.5px,#009fcb 204.5px,#0092dd 205.5px,#0092dd 207.5px,#0085dd 208.5px,#00a6b7 209.5px,#00a4bb 210.5px,#0000cd 211.5px,#0000d9 212.5px,#009ecf 213.5px,#009ecf 214.5px,#008ddd 215.5px,#0009dd 216.5px,#0013dd 217.5px,#0009dd 218.5px,#0000bd 219.5px,#830094 220.5px,#7b008c 221.5px,#380040 222.5px,#380040 228.5px,#2f0035 229.5px,#2f0035 233.5px,#25002b 234.5px,#25002b 235.5px,#1c0020 236.5px,#1c0020 242.5px,#130015 243.5px,#130015 248.5px,#09000b 249.5px,#09000b 253.5px,#000 254.5px,#000 266.5px)"></i><i style="top:118px;height:15px;background:linear-gradient(90deg,#ccc 0.5px,#7f0090 1.5px,#000 3.5px,#000 32.5px,#09000b 33.5px,#000 34.5px,#000 54.5px,#130015 55.5px,#4b0055 57.5px,#708 58.5px,#860097 61.5px,#78009b 62.5px,#0d00a8 63.5px,#0000b9 64.5px,#0000cd 67.5px,#0000d1 68.5px,#0009dd 69.5px,#0025dd 70.5px,#004bdd 71.5px,#0067dd 72.5px,#007add 73.5px,#0092dd 76.5px,#0092dd 78.5px,#009adb 80.5px,#009bd7 83.5px,#009cd3 85.5px,#009bd7 88.5px,#009ecf 91.5px,#009cd3 93.5px,#009fcb 97.5px,#00a3bf 101.5px,#00a3bf 102.5px,#00aaab 105.5px,#00aa95 113.5px,#00aa90 115.5px,#0a8 116.5px,#00a773 117.5px,#00a773 118.5px,#00a668 119.5px,#00a353 120.5px,#00a353 122.5px,#00a55d 123.5px,#00a55d 124.5px,#00a248 126.5px,#00a353 127.5px,#00a353 128.5px,#00a13d 129.5px,#00a13d 130.5px,#00a248 131.5px,#00a248 132.5px,#009f33 134.5px,#009f33 136.5px,#00a248 138.5px,#00a248 140.5px,#00a353 141.5px,#00aa8d 143.5px,#00aaa5 147.5px,#00a6b7 149.5px,#00a2c3 151.5px,#009bd7 153.5px,#0095dd 155.5px,#007add 159.5px,#0078dd 160.5px,#002fdd 164.5px,#0013dd 165.5px,#00d 166.5px,#0000c9 169.5px,#0000c5 173.5px,#0000b9 178.5px,#0000b5 181.5px,#0300aa 185.5px,#1800a7 187.5px,#2d00a4 188.5px,#4d00a0 191.5px,#78009b 193.5px,#870098 194.5px,#830094 197.5px,#004bdd 198.5px,#00a3bf 199.5px,#0092dd 200.5px,#0000c9 201.5px,#001cdd 202.5px,#00a0c7 203.5px,#009ecf 204.5px,#0092dd 205.5px,#0092dd 207.5px,#0082dd 208.5px,#00a6b7 209.5px,#00a4bb 210.5px,#0000cd 211.5px,#0000d9 212.5px,#009ecf 213.5px,#009ecf 214.5px,#008ddd 215.5px,#0009dd 216.5px,#0013dd 217.5px,#0009dd 218.5px,#0000bd 219.5px,#830094 220.5px,#7b008c 221.5px,#380040 222.5px,#380040 228.5px,#2f0035 229.5px,#2f0035 232.5px,#25002b 233.5px,#25002b 235.5px,#1c0020 236.5px,#1c0020 242.5px,#130015 243.5px,#130015 248.5px,#09000b 249.5px,#09000b 253.5px,#000 254.5px,#000 266.5px)"></i><i style="top:133px;height:1px;background:linear-gradient(90deg,#ccc 0.5px,#7f0090 1.5px,#000 3.5px,#000 32.5px,#09000b 33.5px,#000 34.5px,#000 54.5px,#130015 55.5px,#4b0055 57.5px,#708 58.5px,#870098 61.5px,#6d009c 62.5px,#0d00a8 63.5px,#0000bd 64.5px,#0000cd 66.5px,#0000cd 67.5px,#0000d5 68.5px,#0013dd 69.5px,#002fdd 70.5px,#0054dd 71.5px,#0070dd 72.5px,#0090dd 75.5px,#009adb 79.5px,#009cd3 82.5px,#009fcb 94.5px,#00a2c3 98.5px,#00a6b7 102.5px,#00aaa8 105.5px,#00aa93 112.5px,#00aa93 114.5px,#00aa8d 115.5px,#00a668 117.5px,#00a668 118.5px,#00a55d 119.5px,#00a248 120.5px,#00a248 122.5px,#00a353 123.5px,#00a353 124.5px,#00a13d 126.5px,#00a248 127.5px,#00a248 128.5px,#009f33 129.5px,#009f33 130.5px,#00a13d 131.5px,#00a13d 132.5px,#009f33 133.5px,#009f33 134.5px,#009e28 135.5px,#009e28 136.5px,#00a13d 138.5px,#00a13d 140.5px,#00a248 141.5px,#00aa8b 143.5px,#00aaa3 147.5px,#00a3bf 151.5px,#009cd3 153.5px,#0098dd 155.5px,#007add 160.5px,#0078dd 161.5px,#0054dd 163.5px,#0038dd 164.5px,#00d 167.5px,#0000d1 168.5px,#0000c5 175.5px,#0000b9 181.5px,#0300aa 186.5px,#0d00a8 187.5px,#2300a6 188.5px,#3800a3 190.5px,#78009b 193.5px,#870098 194.5px,#830094 197.5px,#004bdd 198.5px,#00a4bb 199.5px,#0095dd 200.5px,#0000cd 201.5px,#0025dd 202.5px,#00a2c3 203.5px,#009fcb 204.5px,#0092dd 205.5px,#0092dd 207.5px,#0085dd 208.5px,#00a6b7 209.5px,#00a4bb 210.5px,#0000cd 211.5px,#0000d9 212.5px,#009ecf 213.5px,#009ecf 214.5px,#008ddd 215.5px,#0009dd 216.5px,#0013dd 217.5px,#0009dd 218.5px,#0000bd 219.5px,#830094 220.5px,#7b008c 221.5px,#41004b 222.5px,#380040 223.5px,#380040 228.5px,#79008a 229.5px,#79008a 230.5px,#2f0035 231.5px,#2f0035 233.5px,#25002b 234.5px,#25002b 235.5px,#1c0020 236.5px,#1c0020 242.5px,#130015 243.5px,#130015 248.5px,#09000b 249.5px,#09000b 254.5px,#000 255.5px,#000 266.5px)"></i><i style="top:134px;height:16px;background:linear-gradient(90deg,#ccc 0.5px,#7f0090 1.5px,#000 3.5px,#000 32.5px,#09000b 33.5px,#000 34.5px,#000 54.5px,#130015 55.5px,#2f0035 56.5px,#79008a 58.5px,#850096 60.5px,#78009b 61.5px,#58009f 62.5px,#0000b1 63.5px,#0000cd 64.5px,#00d 67.5px,#0013dd 68.5px,#005ddd 70.5px,#007add 71.5px,#0092dd 74.5px,#009cd3 75.5px,#00a0c7 77.5px,#00a2c3 79.5px,#00a4bb 80.5px,#00a6b7 83.5px,#00a7b3 85.5px,#00a6b7 88.5px,#00a8af 91.5px,#00aaa8 98.5px,#00aa98 104.5px,#0a8 111.5px,#00a97d 112.5px,#00a97d 114.5px,#00a668 115.5px,#00a248 116.5px,#009f33 117.5px,#009f33 118.5px,#009e28 119.5px,#009b13 120.5px,#009b13 122.5px,#009d1d 123.5px,#009d1d 124.5px,#009b13 125.5px,#009b13 128.5px,#009a08 129.5px,#009a08 130.5px,#009b13 131.5px,#009b13 132.5px,#009a08 133.5px,#009a08 134.5px,#009a00 135.5px,#009a08 136.5px,#009a08 137.5px,#009b13 138.5px,#009b13 141.5px,#009f33 142.5px,#00a55d 143.5px,#00a97d 144.5px,#00aa9d 148.5px,#00a8af 152.5px,#00a0c7 156.5px,#009adb 158.5px,#0080dd 163.5px,#0070dd 165.5px,#0054dd 166.5px,#0041dd 167.5px,#0025dd 168.5px,#0025dd 169.5px,#001cdd 170.5px,#001cdd 172.5px,#0013dd 173.5px,#0013dd 174.5px,#00d 176.5px,#0000c1 184.5px,#0000b1 187.5px,#0300aa 188.5px,#1800a7 189.5px,#2300a6 190.5px,#78009b 194.5px,#83009a 195.5px,#860097 197.5px,#0070dd 198.5px,#00aaab 199.5px,#009cd3 200.5px,#0000d5 201.5px,#0038dd 202.5px,#00a4bb 203.5px,#00a2c3 204.5px,#0098dd 205.5px,#0098dd 207.5px,#08d 208.5px,#00a8af 209.5px,#00a7b3 210.5px,#0000d1 211.5px,#00d 212.5px,#00a0c7 213.5px,#00a0c7 214.5px,#0092dd 215.5px,#001cdd 216.5px,#001cdd 218.5px,#0000c1 219.5px,#850096 220.5px,#7d008e 221.5px,#41004b 222.5px,#41004b 223.5px,#380040 224.5px,#380040 228.5px,#00d 229.5px,#00d 230.5px,#2f0035 231.5px,#2f0035 233.5px,#25002b 234.5px,#25002b 236.5px,#1c0020 237.5px,#1c0020 243.5px,#130015 244.5px,#130015 249.5px,#09000b 250.5px,#09000b 254.5px,#000 255.5px,#000 266.5px)"></i><i style="top:150px;height:1px;background:linear-gradient(90deg,#ccc 0.5px,#7f0090 1.5px,#000 3.5px,#000 32.5px,#09000b 33.5px,#000 34.5px,#000 54.5px,#130015 55.5px,#2f0035 56.5px,#79008a 58.5px,#830094 60.5px,#83009a 61.5px,#63009e 62.5px,#0000b1 63.5px,#0000c9 64.5px,#0000d9 67.5px,#0009dd 68.5px,#002fdd 69.5px,#004bdd 70.5px,#0070dd 71.5px,#0080dd 72.5px,#009adb 75.5px,#009ecf 76.5px,#009ecf 78.5px,#00a2c3 80.5px,#00a4bb 86.5px,#00a6b7 94.5px,#00a8af 98.5px,#0a8 113.5px,#0a8 114.5px,#00a773 115.5px,#00a353 116.5px,#00a13d 117.5px,#00a13d 118.5px,#009d1d 121.5px,#009e28 122.5px,#009e28 124.5px,#009d1d 125.5px,#009d1d 133.5px,#009b13 134.5px,#009b13 136.5px,#009d1d 137.5px,#009d1d 140.5px,#009e28 141.5px,#00a13d 142.5px,#00a668 143.5px,#0a8 144.5px,#00a8af 151.5px,#009fcb 155.5px,#009ecf 156.5px,#009adb 157.5px,#007add 163.5px,#0041dd 166.5px,#0025dd 167.5px,#0013dd 168.5px,#0009dd 169.5px,#0009dd 171.5px,#00d 172.5px,#0000d5 176.5px,#0000b9 184.5px,#0000b5 186.5px,#0000ad 187.5px,#1800a7 189.5px,#2d00a4 190.5px,#3800a3 191.5px,#78009b 194.5px,#83009a 195.5px,#850096 197.5px,#0067dd 198.5px,#00a8af 199.5px,#009bd7 200.5px,#0000d1 201.5px,#002fdd 202.5px,#00a4bb 203.5px,#00a0c7 204.5px,#0098dd 205.5px,#0098dd 207.5px,#08d 208.5px,#00a8af 209.5px,#00a7b3 210.5px,#0000d1 211.5px,#00d 212.5px,#00a0c7 213.5px,#00a0c7 214.5px,#0090dd 215.5px,#0013dd 216.5px,#001cdd 217.5px,#0013dd 218.5px,#0000c1 219.5px,#830094 220.5px,#7d008e 221.5px,#41004b 222.5px,#41004b 223.5px,#380040 224.5px,#380040 228.5px,#58009f 229.5px,#58009f 230.5px,#2f0035 231.5px,#2f0035 233.5px,#25002b 234.5px,#25002b 236.5px,#1c0020 237.5px,#1c0020 243.5px,#130015 244.5px,#130015 249.5px,#09000b 250.5px,#09000b 254.5px,#000 255.5px,#000 266.5px)"></i><i style="top:151px;height:16px;background:linear-gradient(90deg,#ccc 0.5px,#7f0090 1.5px,#000 3.5px,#000 32.5px,#09000b 33.5px,#000 34.5px,#000 54.5px,#130015 55.5px,#2f0035 56.5px,#79008a 58.5px,#870098 61.5px,#63009e 62.5px,#0000ad 63.5px,#0000c5 64.5px,#00d 68.5px,#001cdd 69.5px,#0067dd 71.5px,#007ddd 72.5px,#0095dd 75.5px,#009bd7 77.5px,#00a0c7 82.5px,#00a3bf 94.5px,#00a6b7 98.5px,#00aa98 107.5px,#00aa8d 113.5px,#0a8 115.5px,#00a668 116.5px,#00a353 117.5px,#00a353 118.5px,#00a13d 119.5px,#009f33 120.5px,#009f33 128.5px,#009e28 129.5px,#009e28 130.5px,#009f33 131.5px,#009f33 132.5px,#009e28 133.5px,#009e28 137.5px,#009f33 138.5px,#009f33 141.5px,#00a353 142.5px,#00a97d 143.5px,#00aa8d 144.5px,#00aa9d 147.5px,#00a6b7 151.5px,#00a2c3 152.5px,#009adb 156.5px,#0085dd 159.5px,#0078dd 162.5px,#0067dd 163.5px,#004bdd 164.5px,#0025dd 166.5px,#0009dd 167.5px,#0000d9 168.5px,#0000d1 173.5px,#0000c5 178.5px,#0300aa 187.5px,#1800a7 188.5px,#2300a6 189.5px,#3800a3 190.5px,#4300a2 191.5px,#83009a 194.5px,#860097 196.5px,#850096 197.5px,#005ddd 198.5px,#00a7b3 199.5px,#009adb 200.5px,#0000d1 201.5px,#002fdd 202.5px,#00a3bf 203.5px,#00a0c7 204.5px,#0095dd 205.5px,#0095dd 207.5px,#0085dd 208.5px,#00a7b3 209.5px,#00a6b7 210.5px,#0000cd 211.5px,#0000d9 212.5px,#009fcb 213.5px,#009fcb 214.5px,#0090dd 215.5px,#0013dd 216.5px,#0013dd 218.5px,#0000c1 219.5px,#830094 220.5px,#7b008c 221.5px,#41004b 222.5px,#380040 223.5px,#380040 229.5px,#2f0035 230.5px,#2f0035 233.5px,#25002b 234.5px,#25002b 235.5px,#1c0020 236.5px,#1c0020 243.5px,#130015 244.5px,#130015 248.5px,#09000b 249.5px,#09000b 254.5px,#000 255.5px,#000 266.5px)"></i><i style="top:167px;height:1px;background:linear-gradient(90deg,#ccc 0.5px,#7f0090 1.5px,#000 3.5px,#000 32.5px,#09000b 33.5px,#000 34.5px,#000 54.5px,#130015 55.5px,#2f0035 56.5px,#79008a 58.5px,#850096 60.5px,#78009b 61.5px,#58009f 62.5px,#0000b5 63.5px,#0000cd 64.5px,#00d 66.5px,#0009dd 67.5px,#001cdd 68.5px,#0038dd 69.5px,#005ddd 70.5px,#007add 71.5px,#0095dd 74.5px,#00a0c7 76.5px,#00a8af 85.5px,#00a7b3 88.5px,#00aaab 91.5px,#00a8af 93.5px,#00aaa8 95.5px,#00aaa8 97.5px,#00aaa0 101.5px,#00aa9b 103.5px,#00aa95 105.5px,#0a8 110.5px,#00a773 112.5px,#00a773 114.5px,#00a668 115.5px,#00a13d 116.5px,#00a13d 118.5px,#009e28 120.5px,#009e28 133.5px,#009d1d 134.5px,#009d1d 137.5px,#009e28 138.5px,#009e28 141.5px,#00a13d 142.5px,#00a55d 143.5px,#0a8 145.5px,#00aaa0 149.5px,#00aaa5 151.5px,#00a2c3 156.5px,#009bd7 158.5px,#0090dd 161.5px,#0078dd 165.5px,#0067dd 166.5px,#004bdd 167.5px,#0038dd 168.5px,#002fdd 169.5px,#002fdd 170.5px,#0025dd 171.5px,#0025dd 173.5px,#00d 177.5px,#0000d1 181.5px,#0000ad 188.5px,#0d00a8 189.5px,#78009b 194.5px,#83009a 195.5px,#860097 197.5px,#0070dd 198.5px,#00aaa8 199.5px,#009cd3 200.5px,#0000d5 201.5px,#0038dd 202.5px,#00a6b7 203.5px,#00a2c3 204.5px,#0098dd 205.5px,#0098dd 207.5px,#008add 208.5px,#00a8af 209.5px,#00a7b3 210.5px,#0000d1 211.5px,#00d 212.5px,#00a0c7 213.5px,#00a0c7 214.5px,#0092dd 215.5px,#001cdd 216.5px,#001cdd 218.5px,#0000c1 219.5px,#850096 220.5px,#7d008e 221.5px,#41004b 222.5px,#41004b 223.5px,#380040 224.5px,#380040 229.5px,#2f0035 230.5px,#2f0035 233.5px,#25002b 234.5px,#25002b 236.5px,#1c0020 237.5px,#1c0020 243.5px,#130015 244.5px,#130015 249.5px,#09000b 250.5px,#09000b 254.5px,#000 255.5px,#000 266.5px)"></i><i style="top:168px;height:16px;background:linear-gradient(90deg,#ccc 0.5px,#7f0090 1.5px,#000 3.5px,#000 32.5px,#09000b 33.5px,#000 34.5px,#000 54.5px,#130015 55.5px,#2f0035 56.5px,#79008a 58.5px,#850096 60.5px,#78009b 61.5px,#4d00a0 62.5px,#0000b9 63.5px,#0000d1 64.5px,#0000d9 65.5px,#0013dd 67.5px,#0025dd 68.5px,#004bdd 69.5px,#0080dd 71.5px,#009adb 74.5px,#00a3bf 76.5px,#00a3bf 78.5px,#00a7b3 80.5px,#00aaab 84.5px,#00aaa5 97.5px,#00aa9b 101.5px,#0a8 109.5px,#00a668 112.5px,#00a668 114.5px,#00a353 115.5px,#009f33 116.5px,#009f33 118.5px,#009e28 119.5px,#009e28 125.5px,#009d1d 126.5px,#009e28 127.5px,#009e28 128.5px,#009d1d 129.5px,#009d1d 139.5px,#009e28 140.5px,#009e28 141.5px,#009f33 142.5px,#00a248 143.5px,#00a668 144.5px,#00a773 145.5px,#00aa8b 146.5px,#00aa9b 149.5px,#00aaa0 151.5px,#00a6b7 156.5px,#009cd3 159.5px,#0098dd 161.5px,#0078dd 166.5px,#0067dd 167.5px,#004bdd 168.5px,#0041dd 169.5px,#0041dd 172.5px,#0038dd 173.5px,#0038dd 174.5px,#002fdd 175.5px,#001cdd 176.5px,#0013dd 177.5px,#0013dd 178.5px,#00d 180.5px,#0000b9 187.5px,#0000ad 188.5px,#0300aa 189.5px,#6d009c 194.5px,#870098 196.5px,#860097 197.5px,#0078dd 198.5px,#00aaa5 199.5px,#009ecf 200.5px,#0000d5 201.5px,#0041dd 202.5px,#00a6b7 203.5px,#00a3bf 204.5px,#009adb 205.5px,#009adb 207.5px,#008add 208.5px,#00aaab 209.5px,#00a8af 210.5px,#0000d1 211.5px,#00d 212.5px,#00a2c3 213.5px,#00a2c3 214.5px,#0092dd 215.5px,#001cdd 216.5px,#001cdd 218.5px,#0000c1 219.5px,#850096 220.5px,#7d008e 221.5px,#41004b 222.5px,#41004b 223.5px,#380040 224.5px,#380040 229.5px,#2f0035 230.5px,#2f0035 233.5px,#25002b 234.5px,#25002b 236.5px,#1c0020 237.5px,#1c0020 243.5px,#130015 244.5px,#130015 249.5px,#09000b 250.5px,#09000b 254.5px,#000 255.5px,#000 266.5px)"></i><i style="top:184px;height:16px;background:linear-gradient(90deg,#ccc 0.5px,#7f0090 1.5px,#000 3.5px,#000 32.5px,#09000b 33.5px,#000 34.5px,#000 54.5px,#130015 55.5px,#2f0035 56.5px,#7a008b 58.5px,#860097 60.5px,#63009e 61.5px,#3800a3 62.5px,#0000c1 63.5px,#00d 64.5px,#0025dd 66.5px,#002fdd 67.5px,#0067dd 69.5px,#007ddd 70.5px,#0095dd 72.5px,#009bd7 73.5px,#00aaab 76.5px,#00aa9b 84.5px,#00aa95 97.5px,#00aa8b 101.5px,#0a8 103.5px,#00a773 104.5px,#00a353 107.5px,#00a353 108.5px,#00bc00 109.5px,#00a248 110.5px,#009f33 112.5px,#009f33 113.5px,#00a13d 114.5px,#009e28 116.5px,#009e28 118.5px,#009d1d 119.5px,#009d1d 124.5px,#009b13 125.5px,#009b13 126.5px,#009d1d 127.5px,#009b13 128.5px,#009b13 134.5px,#009a08 135.5px,#009a08 136.5px,#009b13 137.5px,#009b13 140.5px,#00a248 145.5px,#00a55d 146.5px,#00a97d 147.5px,#00aa8b 148.5px,#00aa8b 150.5px,#00aa95 152.5px,#00aa9d 156.5px,#00a6b7 161.5px,#0098dd 165.5px,#0082dd 168.5px,#007ddd 173.5px,#0078dd 175.5px,#0070dd 176.5px,#005ddd 177.5px,#0041dd 180.5px,#0009dd 183.5px,#00d 184.5px,#0000d1 186.5px,#0300aa 190.5px,#1800a7 191.5px,#3800a3 192.5px,#63009e 194.5px,#83009a 197.5px,#0080dd 198.5px,#00aa9b 199.5px,#00a2c3 200.5px,#00d 201.5px,#004bdd 202.5px,#00aaab 203.5px,#00a4bb 204.5px,#009bd7 205.5px,#009bd7 207.5px,#008ddd 208.5px,#00aaa5 209.5px,#00aaab 210.5px,#0000d5 211.5px,#0009dd 212.5px,#00a4bb 213.5px,#00a3bf 214.5px,#0098dd 215.5px,#0025dd 216.5px,#0025dd 218.5px,#0000c5 219.5px,#850096 220.5px,#7d008e 221.5px,#41004b 222.5px,#41004b 224.5px,#380040 225.5px,#380040 230.5px,#2f0035 231.5px,#2f0035 233.5px,#25002b 234.5px,#25002b 237.5px,#1c0020 238.5px,#1c0020 243.5px,#130015 244.5px,#130015 249.5px,#09000b 250.5px,#09000b 254.5px,#000 255.5px,#000 266.5px)"></i><i style="top:200px;height:1px;background:linear-gradient(90deg,#ccc 0.5px,#7f0090 1.5px,#000 3.5px,#000 32.5px,#09000b 33.5px,#000 34.5px,#000 54.5px,#130015 55.5px,#2f0035 56.5px,#7a008b 58.5px,#860097 60.5px,#63009e 61.5px,#3800a3 62.5px,#0000c1 63.5px,#00d 64.5px,#0025dd 66.5px,#002fdd 67.5px,#0041dd 68.5px,#0067dd 69.5px,#007ddd 70.5px,#0095dd 72.5px,#009fcb 74.5px,#00a8af 76.5px,#00aaa0 82.5px,#00aa98 97.5px,#00aa8d 101.5px,#0a8 103.5px,#00a55d 107.5px,#00a55d 108.5px,#0a0 109.5px,#00a248 110.5px,#00a248 111.5px,#00a13d 112.5px,#00a13d 114.5px,#009e28 116.5px,#009e28 118.5px,#009d1d 119.5px,#009d1d 128.5px,#009b13 129.5px,#009b13 139.5px,#009d1d 140.5px,#009d1d 141.5px,#009f33 143.5px,#00a248 144.5px,#00a353 145.5px,#00a668 146.5px,#0a8 147.5px,#00aa90 149.5px,#00aa8d 150.5px,#00aa98 152.5px,#00aaa5 157.5px,#00a3bf 161.5px,#009adb 164.5px,#007ddd 169.5px,#0078dd 174.5px,#0070dd 175.5px,#005ddd 176.5px,#0038dd 180.5px,#0013dd 182.5px,#0000d9 184.5px,#0000c5 187.5px,#0300aa 190.5px,#1800a7 191.5px,#3800a3 192.5px,#63009e 194.5px,#870098 197.5px,#0080dd 198.5px,#00aa9d 199.5px,#00a2c3 200.5px,#00d 201.5px,#004bdd 202.5px,#00a8af 203.5px,#00a4bb 204.5px,#009bd7 205.5px,#009bd7 207.5px,#008ddd 208.5px,#00aaa8 209.5px,#00aaab 210.5px,#0000d5 211.5px,#0009dd 212.5px,#00a3bf 213.5px,#00a3bf 214.5px,#0095dd 215.5px,#0025dd 216.5px,#0025dd 218.5px,#0000c5 219.5px,#850096 220.5px,#7d008e 221.5px,#41004b 222.5px,#41004b 224.5px,#380040 225.5px,#380040 230.5px,#2f0035 231.5px,#2f0035 233.5px,#25002b 234.5px,#25002b 237.5px,#1c0020 238.5px,#1c0020 243.5px,#130015 244.5px,#130015 249.5px,#09000b 250.5px,#09000b 254.5px,#000 255.5px,#000 266.5px)"></i><i style="top:201px;height:16px;background:linear-gradient(90deg,#ccc 0.5px,#7f0090 1.5px,#000 3.5px,#000 32.5px,#09000b 33.5px,#000 34.5px,#000 54.5px,#130015 55.5px,#2f0035 56.5px,#79008a 58.5px,#860097 60.5px,#6d009c 61.5px,#4300a2 62.5px,#0000bd 63.5px,#0000d9 64.5px,#001cdd 67.5px,#002fdd 68.5px,#0078dd 70.5px,#0098dd 73.5px,#00a6b7 76.5px,#00a8af 79.5px,#00aaa8 80.5px,#00aaa5 86.5px,#00aa9b 98.5px,#00aa95 100.5px,#0a8 106.5px,#00a773 107.5px,#00a773 108.5px,#00a55d 110.5px,#00a55d 111.5px,#00a353 112.5px,#00a353 114.5px,#00a248 115.5px,#009f33 116.5px,#009e28 117.5px,#009e28 119.5px,#009d1d 120.5px,#009d1d 133.5px,#009b13 134.5px,#009b13 137.5px,#009d1d 138.5px,#009d1d 141.5px,#009e28 142.5px,#00a97d 146.5px,#00aa93 148.5px,#00aa9d 152.5px,#00aaa8 156.5px,#00a4bb 158.5px,#0098dd 163.5px,#007ddd 167.5px,#0067dd 169.5px,#0067dd 172.5px,#001cdd 180.5px,#0009dd 181.5px,#00d 182.5px,#0000c5 186.5px,#0000ad 189.5px,#0d00a8 190.5px,#3800a3 192.5px,#58009f 193.5px,#6d009c 194.5px,#83009a 196.5px,#870098 197.5px,#007ddd 198.5px,#00aaa0 199.5px,#009fcb 200.5px,#0000d9 201.5px,#0041dd 202.5px,#00a7b3 203.5px,#00a3bf 204.5px,#009adb 205.5px,#009bd7 206.5px,#009adb 207.5px,#008ddd 208.5px,#00aaa8 209.5px,#00aaab 210.5px,#0000d5 211.5px,#0009dd 212.5px,#00a3bf 213.5px,#00a2c3 214.5px,#0095dd 215.5px,#0025dd 216.5px,#0025dd 218.5px,#0000c5 219.5px,#850096 220.5px,#7d008e 221.5px,#41004b 222.5px,#41004b 223.5px,#380040 224.5px,#380040 230.5px,#2f0035 231.5px,#2f0035 233.5px,#25002b 234.5px,#25002b 236.5px,#1c0020 237.5px,#1c0020 243.5px,#130015 244.5px,#130015 249.5px,#09000b 250.5px,#09000b 254.5px,#000 255.5px,#000 266.5px)"></i><i style="top:217px;height:1px;background:linear-gradient(90deg,#ccc 0.5px,#7f0090 1.5px,#000 3.5px,#000 32.5px,#09000b 33.5px,#000 34.5px,#000 54.5px,#130015 55.5px,#2f0035 56.5px,#7a008b 58.5px,#860097 60.5px,#6d009c 61.5px,#4300a2 62.5px,#0000bd 63.5px,#0000d9 64.5px,#0009dd 65.5px,#001cdd 66.5px,#0025dd 67.5px,#0038dd 68.5px,#005ddd 69.5px,#007add 70.5px,#0092dd 72.5px,#009adb 73.5px,#00a8af 76.5px,#00aaab 79.5px,#00aaa5 81.5px,#00aaa0 88.5px,#00aa9b 97.5px,#00aa90 100.5px,#00aa90 102.5px,#0a8 104.5px,#00a668 107.5px,#00a668 108.5px,#00a353 110.5px,#00a353 111.5px,#00a13d 112.5px,#00a248 113.5px,#00a248 114.5px,#00a13d 115.5px,#009e28 116.5px,#009e28 119.5px,#009d1d 120.5px,#009d1d 128.5px,#009b13 129.5px,#009b13 130.5px,#009d1d 131.5px,#009d1d 132.5px,#009b13 133.5px,#009b13 137.5px,#009d1d 138.5px,#009d1d 141.5px,#009f33 143.5px,#0a8 147.5px,#00aa93 149.5px,#00aa90 150.5px,#00aaa0 154.5px,#00aaa3 156.5px,#00a3bf 160.5px,#009fcb 162.5px,#0095dd 164.5px,#007add 168.5px,#0078dd 172.5px,#0070dd 173.5px,#0070dd 174.5px,#0067dd 175.5px,#0041dd 177.5px,#0041dd 178.5px,#002fdd 180.5px,#0009dd 182.5px,#00d 183.5px,#0000b9 188.5px,#0000ad 189.5px,#0300aa 190.5px,#2300a6 191.5px,#63009e 194.5px,#6d009c 195.5px,#83009a 196.5px,#870098 197.5px,#007ddd 198.5px,#00aa9d 199.5px,#00a0c7 200.5px,#00d 201.5px,#004bdd 202.5px,#00a8af 203.5px,#00a4bb 204.5px,#009bd7 205.5px,#009bd7 207.5px,#008ddd 208.5px,#00aaa8 209.5px,#00aaab 210.5px,#0000d5 211.5px,#0009dd 212.5px,#00a3bf 213.5px,#00a3bf 214.5px,#0095dd 215.5px,#0025dd 216.5px,#0025dd 218.5px,#0000c5 219.5px,#850096 220.5px,#7d008e 221.5px,#41004b 222.5px,#41004b 224.5px,#380040 225.5px,#380040 230.5px,#2f0035 231.5px,#2f0035 233.5px,#25002b 234.5px,#25002b 236.5px,#1c0020 237.5px,#1c0020 243.5px,#130015 244.5px,#130015 249.5px,#09000b 250.5px,#09000b 254.5px,#000 255.5px,#000 266.5px)"></i><i style="top:218px;height:16px;background:linear-gradient(90deg,#ccc 0.5px,#7f0090 1.5px,#000 3.5px,#000 32.5px,#09000b 33.5px,#000 34.5px,#000 54.5px,#130015 55.5px,#2f0035 56.5px,#7a008b 58.5px,#860097 60.5px,#63009e 61.5px,#3800a3 62.5px,#0000c1 63.5px,#00d 64.5px,#0025dd 66.5px,#002fdd 67.5px,#0041dd 68.5px,#0067dd 69.5px,#007ddd 70.5px,#0095dd 72.5px,#009fcb 74.5px,#00aaab 76.5px,#00aaab 78.5px,#00aaa3 80.5px,#00aa9d 86.5px,#00aa98 96.5px,#00aa8d 101.5px,#0a8 103.5px,#00a55d 107.5px,#00a55d 108.5px,#00a248 110.5px,#00a248 111.5px,#009f33 112.5px,#00a13d 113.5px,#00a13d 114.5px,#009e28 116.5px,#009e28 118.5px,#009d1d 119.5px,#009d1d 128.5px,#009b13 129.5px,#009b13 139.5px,#009d1d 140.5px,#009d1d 141.5px,#009f33 143.5px,#00a248 144.5px,#00a353 145.5px,#00a668 146.5px,#0a8 147.5px,#00aa8d 149.5px,#00aaa5 157.5px,#00a2c3 162.5px,#009adb 164.5px,#007ddd 169.5px,#0078dd 174.5px,#0070dd 175.5px,#005ddd 176.5px,#0038dd 180.5px,#0013dd 182.5px,#0000d9 184.5px,#0000c5 187.5px,#0300aa 190.5px,#1800a7 191.5px,#3800a3 192.5px,#63009e 194.5px,#870098 197.5px,#0080dd 198.5px,#00aa9b 199.5px,#00a2c3 200.5px,#00d 201.5px,#004bdd 202.5px,#00a8af 203.5px,#00a4bb 204.5px,#009bd7 205.5px,#009bd7 207.5px,#008ddd 208.5px,#00aaa8 209.5px,#00aaab 210.5px,#0000d5 211.5px,#0009dd 212.5px,#00a3bf 213.5px,#00a3bf 214.5px,#0095dd 215.5px,#0025dd 216.5px,#0025dd 218.5px,#0000c5 219.5px,#850096 220.5px,#7d008e 221.5px,#41004b 222.5px,#41004b 224.5px,#380040 225.5px,#380040 230.5px,#2f0035 231.5px,#2f0035 233.5px,#25002b 234.5px,#25002b 237.5px,#1c0020 238.5px,#1c0020 243.5px,#130015 244.5px,#130015 249.5px,#09000b 250.5px,#09000b 254.5px,#000 255.5px,#000 266.5px)"></i><i style="top:234px;height:1px;background:linear-gradient(90deg,#ccc 0.5px,#7f0090 1.5px,#000 3.5px,#000 32.5px,#09000b 33.5px,#000 34.5px,#000 54.5px,#130015 55.5px,#2f0035 56.5px,#79008a 58.5px,#850096 60.5px,#6d009c 61.5px,#4d00a0 62.5px,#0000b9 63.5px,#0000d5 64.5px,#00d 65.5px,#0013dd 67.5px,#0025dd 68.5px,#0070dd 70.5px,#008add 72.5px,#009adb 74.5px,#00a0c7 75.5px,#00a4bb 76.5px,#00a4bb 78.5px,#00a8af 80.5px,#00aaa8 87.5px,#00aaa0 98.5px,#00aa98 101.5px,#0a8 107.5px,#00a97d 108.5px,#00a97d 109.5px,#00a55d 112.5px,#00a55d 114.5px,#00a353 115.5px,#009f33 116.5px,#009f33 118.5px,#009e28 119.5px,#009e28 120.5px,#009d1d 121.5px,#009e28 122.5px,#009e28 124.5px,#009d1d 125.5px,#009d1d 126.5px,#009e28 127.5px,#009d1d 128.5px,#009d1d 134.5px,#009b13 135.5px,#009b13 136.5px,#009d1d 137.5px,#009d1d 140.5px,#009f33 142.5px,#0a8 146.5px,#00aa98 149.5px,#00aa9d 151.5px,#00a4bb 157.5px,#00a0c7 158.5px,#0098dd 162.5px,#007ddd 166.5px,#005ddd 168.5px,#0054dd 169.5px,#0054dd 170.5px,#004bdd 171.5px,#004bdd 173.5px,#002fdd 176.5px,#001cdd 177.5px,#001cdd 178.5px,#00d 181.5px,#0000c5 185.5px,#0300aa 189.5px,#6d009c 194.5px,#83009a 196.5px,#870098 197.5px,#007add 198.5px,#00aaa3 199.5px,#009fcb 200.5px,#0000d9 201.5px,#0041dd 202.5px,#00a7b3 203.5px,#00a3bf 204.5px,#009adb 205.5px,#009adb 207.5px,#008add 208.5px,#00aaab 209.5px,#00a8af 210.5px,#0000d5 211.5px,#00d 212.5px,#00a2c3 213.5px,#00a2c3 214.5px,#0092dd 215.5px,#001cdd 216.5px,#0025dd 217.5px,#001cdd 218.5px,#0000c5 219.5px,#850096 220.5px,#7d008e 221.5px,#41004b 222.5px,#41004b 223.5px,#380040 224.5px,#380040 229.5px,#2f0035 230.5px,#2f0035 233.5px,#25002b 234.5px,#25002b 236.5px,#1c0020 237.5px,#1c0020 243.5px,#130015 244.5px,#130015 249.5px,#09000b 250.5px,#09000b 254.5px,#000 255.5px,#000 266.5px)"></i><i style="top:235px;height:15px;background:linear-gradient(90deg,#ccc 0.5px,#7f0090 1.5px,#000 3.5px,#000 32.5px,#09000b 33.5px,#000 34.5px,#000 54.5px,#130015 55.5px,#2f0035 56.5px,#79008a 58.5px,#850096 60.5px,#78009b 61.5px,#4d00a0 62.5px,#0000b9 63.5px,#0000d1 64.5px,#0000d9 65.5px,#0013dd 67.5px,#0025dd 68.5px,#004bdd 69.5px,#0080dd 71.5px,#009adb 74.5px,#00a3bf 76.5px,#00a3bf 78.5px,#00a7b3 80.5px,#00aaab 84.5px,#00aaa5 97.5px,#00aa9b 101.5px,#0a8 109.5px,#00a668 112.5px,#00a668 114.5px,#00a353 115.5px,#009f33 116.5px,#009f33 118.5px,#009e28 119.5px,#009e28 125.5px,#009d1d 126.5px,#009e28 127.5px,#009e28 128.5px,#009d1d 129.5px,#009d1d 139.5px,#009e28 140.5px,#009e28 141.5px,#009f33 142.5px,#00a248 143.5px,#00a668 144.5px,#00a773 145.5px,#00aa8b 146.5px,#00aa9b 149.5px,#00aaa0 151.5px,#00a6b7 156.5px,#009cd3 159.5px,#0098dd 161.5px,#0078dd 166.5px,#0067dd 167.5px,#004bdd 168.5px,#0041dd 169.5px,#0041dd 172.5px,#0038dd 173.5px,#0038dd 174.5px,#002fdd 175.5px,#001cdd 176.5px,#0013dd 177.5px,#0013dd 178.5px,#00d 180.5px,#0000b9 187.5px,#0000ad 188.5px,#0300aa 189.5px,#6d009c 194.5px,#870098 196.5px,#860097 197.5px,#0078dd 198.5px,#00aaa5 199.5px,#009ecf 200.5px,#0000d5 201.5px,#0041dd 202.5px,#00a6b7 203.5px,#00a3bf 204.5px,#009adb 205.5px,#009adb 207.5px,#008add 208.5px,#00aaab 209.5px,#00a8af 210.5px,#0000d1 211.5px,#00d 212.5px,#00a2c3 213.5px,#00a2c3 214.5px,#0092dd 215.5px,#001cdd 216.5px,#001cdd 218.5px,#0000c1 219.5px,#850096 220.5px,#7d008e 221.5px,#41004b 222.5px,#41004b 223.5px,#380040 224.5px,#380040 229.5px,#2f0035 230.5px,#2f0035 233.5px,#25002b 234.5px,#25002b 236.5px,#1c0020 237.5px,#1c0020 243.5px,#130015 244.5px,#130015 249.5px,#09000b 250.5px,#09000b 254.5px,#000 255.5px,#000 266.5px)"></i><i style="top:250px;height:1px;background:linear-gradient(90deg,#ccc 0.5px,#7f0090 1.5px,#000 3.5px,#000 32.5px,#09000b 33.5px,#000 34.5px,#000 54.5px,#130015 55.5px,#2f0035 56.5px,#79008a 58.5px,#850096 60.5px,#78009b 61.5px,#4d00a0 62.5px,#0000b9 63.5px,#0000d1 64.5px,#0000d9 65.5px,#0013dd 67.5px,#0025dd 68.5px,#0070dd 70.5px,#008add 72.5px,#009adb 74.5px,#00a3bf 76.5px,#00a6b7 79.5px,#00a8af 80.5px,#00aaab 83.5px,#00aaa8 89.5px,#00aaa0 98.5px,#00aa9d 99.5px,#00a668 100.5px,#00aa9b 101.5px,#00aa95 103.5px,#0a8 108.5px,#00a55d 112.5px,#00a55d 113.5px,#00a668 114.5px,#00a353 115.5px,#009f33 116.5px,#009f33 118.5px,#009e28 119.5px,#009e28 125.5px,#009d1d 126.5px,#009e28 127.5px,#009e28 128.5px,#009d1d 129.5px,#009d1d 134.5px,#009b13 135.5px,#009d1d 136.5px,#009d1d 140.5px,#009f33 142.5px,#00a248 143.5px,#00a668 144.5px,#00a773 145.5px,#0a8 146.5px,#00aa98 148.5px,#00aaa0 151.5px,#00a8af 155.5px,#009fcb 158.5px,#0095dd 162.5px,#007add 166.5px,#0054dd 168.5px,#004bdd 169.5px,#004bdd 171.5px,#0041dd 172.5px,#0041dd 173.5px,#0013dd 178.5px,#0013dd 179.5px,#0000d9 181.5px,#0000b9 187.5px,#0300aa 189.5px,#6d009c 194.5px,#83009a 196.5px,#860097 197.5px,#007add 198.5px,#00aaa5 199.5px,#009ecf 200.5px,#0000d9 201.5px,#0041dd 202.5px,#00a7b3 203.5px,#00a3bf 204.5px,#009adb 205.5px,#009adb 207.5px,#008add 208.5px,#00aaab 209.5px,#00a8af 210.5px,#0000d1 211.5px,#00d 212.5px,#00a2c3 213.5px,#00a2c3 214.5px,#0092dd 215.5px,#001cdd 216.5px,#0025dd 217.5px,#001cdd 218.5px,#0000c5 219.5px,#850096 220.5px,#7d008e 221.5px,#41004b 222.5px,#41004b 223.5px,#380040 224.5px,#380040 229.5px,#2f0035 230.5px,#2f0035 233.5px,#25002b 234.5px,#25002b 236.5px,#1c0020 237.5px,#1c0020 243.5px,#130015 244.5px,#130015 249.5px,#09000b 250.5px,#09000b 254.5px,#000 255.5px,#000 266.5px)"></i><i style="top:251px;height:16px;background:linear-gradient(90deg,#ccc 0.5px,#7f0090 1.5px,#000 3.5px,#000 32.5px,#09000b 33.5px,#000 34.5px,#000 54.5px,#130015 55.5px,#2f0035 56.5px,#7a008b 58.5px,#860097 60.5px,#6d009c 61.5px,#4300a2 62.5px,#0000c1 63.5px,#0000d9 64.5px,#0013dd 65.5px,#0025dd 67.5px,#007add 70.5px,#0092dd 72.5px,#009adb 73.5px,#009ecf 74.5px,#00a4bb 75.5px,#00a8af 76.5px,#00aa9d 85.5px,#00aa9d 89.5px,#00aa9b 94.5px,#00aa93 99.5px,#f90 100.5px,#00aa90 101.5px,#00aa8b 103.5px,#00a97d 104.5px,#00a97d 105.5px,#00a55d 108.5px,#00a55d 109.5px,#00a13d 112.5px,#00a13d 113.5px,#00a248 114.5px,#009f33 115.5px,#009e28 116.5px,#009e28 119.5px,#009d1d 120.5px,#009d1d 128.5px,#009b13 129.5px,#009b13 138.5px,#009d1d 139.5px,#009d1d 141.5px,#009f33 143.5px,#00a248 144.5px,#00a353 145.5px,#00a668 146.5px,#0a8 147.5px,#00aaa8 157.5px,#009fcb 162.5px,#0098dd 164.5px,#007add 169.5px,#0078dd 173.5px,#0067dd 175.5px,#0054dd 176.5px,#002fdd 180.5px,#001cdd 181.5px,#0013dd 182.5px,#00d 183.5px,#0000cd 186.5px,#0000b1 189.5px,#0300aa 190.5px,#2300a6 191.5px,#63009e 194.5px,#6d009c 195.5px,#83009a 196.5px,#870098 197.5px,#0080dd 198.5px,#00aa9d 199.5px,#00a0c7 200.5px,#00d 201.5px,#004bdd 202.5px,#00a8af 203.5px,#00a4bb 204.5px,#009bd7 205.5px,#009bd7 207.5px,#008ddd 208.5px,#00aaa8 209.5px,#00aaab 210.5px,#0000d5 211.5px,#0009dd 212.5px,#00a3bf 213.5px,#00a3bf 214.5px,#0095dd 215.5px,#0025dd 216.5px,#0025dd 218.5px,#0000c5 219.5px,#850096 220.5px,#7d008e 221.5px,#41004b 222.5px,#41004b 224.5px,#380040 225.5px,#380040 230.5px,#2f0035 231.5px,#2f0035 233.5px,#25002b 234.5px,#25002b 236.5px,#1c0020 237.5px,#1c0020 243.5px,#130015 244.5px,#130015 249.5px,#09000b 250.5px,#09000b 254.5px,#000 255.5px,#000 266.5px)"></i><i style="top:267px;height:1px;background:linear-gradient(90deg,#ccc 0.5px,#7f0090 1.5px,#000 3.5px,#000 32.5px,#09000b 33.5px,#000 34.5px,#000 54.5px,#130015 55.5px,#2f0035 56.5px,#79008a 58.5px,#850096 60.5px,#78009b 61.5px,#4d00a0 62.5px,#0000b5 63.5px,#0000d1 64.5px,#0000d9 65.5px,#0013dd 67.5px,#0025dd 68.5px,#0041dd 69.5px,#0067dd 70.5px,#007ddd 71.5px,#0098dd 74.5px,#00a2c3 76.5px,#00a4bb 79.5px,#00a7b3 80.5px,#00a8af 83.5px,#00aaab 85.5px,#00a8af 88.5px,#00aaa8 91.5px,#00aaa0 99.5px,#75ff00 100.5px,#00aa9d 101.5px,#00aa8b 107.5px,#0a8 109.5px,#00a668 112.5px,#00a668 114.5px,#00a55d 115.5px,#00a248 116.5px,#00a13d 117.5px,#00a13d 118.5px,#009e28 120.5px,#009e28 122.5px,#009f33 123.5px,#009f33 124.5px,#009e28 125.5px,#009e28 128.5px,#009d1d 129.5px,#009d1d 138.5px,#009e28 139.5px,#009e28 141.5px,#00a97d 145.5px,#00aa93 147.5px,#00aaa0 151.5px,#00a8af 154.5px,#00a6b7 156.5px,#009cd3 159.5px,#0098dd 161.5px,#0078dd 166.5px,#0067dd 167.5px,#004bdd 168.5px,#004bdd 169.5px,#0041dd 170.5px,#0041dd 172.5px,#0038dd 173.5px,#0038dd 174.5px,#002fdd 175.5px,#001cdd 176.5px,#0013dd 177.5px,#0013dd 178.5px,#00d 180.5px,#0000b9 187.5px,#0000ad 188.5px,#0300aa 189.5px,#6d009c 194.5px,#870098 196.5px,#860097 197.5px,#0078dd 198.5px,#00aaa5 199.5px,#009ecf 200.5px,#0000d5 201.5px,#0038dd 202.5px,#00a6b7 203.5px,#00a2c3 204.5px,#009adb 205.5px,#009adb 207.5px,#008add 208.5px,#00aaab 209.5px,#00a8af 210.5px,#0000d1 211.5px,#00d 212.5px,#00a2c3 213.5px,#00a2c3 214.5px,#0092dd 215.5px,#001cdd 216.5px,#001cdd 218.5px,#0000c1 219.5px,#850096 220.5px,#7d008e 221.5px,#41004b 222.5px,#41004b 223.5px,#380040 224.5px,#380040 229.5px,#2f0035 230.5px,#2f0035 233.5px,#25002b 234.5px,#25002b 236.5px,#1c0020 237.5px,#1c0020 243.5px,#130015 244.5px,#130015 249.5px,#09000b 250.5px,#09000b 254.5px,#000 255.5px,#000 266.5px)"></i><i style="top:268px;height:16px;background:linear-gradient(90deg,#ccc 0.5px,#7f0090 1.5px,#000 3.5px,#000 32.5px,#09000b 33.5px,#000 34.5px,#000 54.5px,#130015 55.5px,#4b0055 57.5px,#708 58.5px,#870098 61.5px,#6d009c 62.5px,#0d00a8 63.5px,#0000bd 64.5px,#0000d1 67.5px,#0000d5 68.5px,#0013dd 69.5px,#002fdd 70.5px,#0078dd 72.5px,#0098dd 76.5px,#009adb 79.5px,#009cd3 80.5px,#009ecf 84.5px,#009fcb 85.5px,#009ecf 88.5px,#009fcb 92.5px,#00a2c3 98.5px,#00a6b7 100.5px,#00a6b7 102.5px,#00aaa5 105.5px,#00aa93 113.5px,#00aa8d 115.5px,#00a773 116.5px,#00a668 117.5px,#00a668 118.5px,#00a353 119.5px,#00a13d 121.5px,#00a248 122.5px,#00a248 124.5px,#00a13d 125.5px,#00a13d 128.5px,#009f33 129.5px,#009f33 139.5px,#00a248 141.5px,#00aa8b 143.5px,#00aaa3 147.5px,#00a3bf 151.5px,#009fcb 152.5px,#0098dd 155.5px,#007add 160.5px,#0078dd 161.5px,#0054dd 163.5px,#0038dd 164.5px,#0000d9 167.5px,#0000cd 169.5px,#0000c9 174.5px,#0000c1 177.5px,#0000b9 181.5px,#0300aa 186.5px,#0d00a8 187.5px,#2300a6 188.5px,#3800a3 190.5px,#78009b 193.5px,#83009a 194.5px,#860097 196.5px,#830094 197.5px,#0054dd 198.5px,#00a4bb 199.5px,#0095dd 200.5px,#0000cd 201.5px,#0025dd 202.5px,#00a2c3 203.5px,#009fcb 204.5px,#0092dd 205.5px,#0092dd 207.5px,#0085dd 208.5px,#00a6b7 209.5px,#00a4bb 210.5px,#0000cd 211.5px,#0000d9 212.5px,#009fcb 213.5px,#009ecf 214.5px,#008ddd 215.5px,#0009dd 216.5px,#0013dd 217.5px,#0013dd 218.5px,#0000bd 219.5px,#830094 220.5px,#7b008c 221.5px,#41004b 222.5px,#380040 223.5px,#380040 228.5px,#2f0035 229.5px,#2f0035 233.5px,#25002b 234.5px,#25002b 235.5px,#1c0020 236.5px,#1c0020 242.5px,#130015 243.5px,#130015 248.5px,#09000b 249.5px,#09000b 254.5px,#000 255.5px,#000 266.5px)"></i><i style="top:284px;height:1px;background:linear-gradient(90deg,#ccc 0.5px,#7f0090 1.5px,#000 3.5px,#000 32.5px,#09000b 33.5px,#000 34.5px,#000 54.5px,#130015 55.5px,#2f0035 56.5px,#79008a 58.5px,#830094 60.5px,#83009a 61.5px,#63009e 62.5px,#0000ad 63.5px,#0000c9 64.5px,#0000d9 67.5px,#0009dd 68.5px,#0025dd 69.5px,#0070dd 71.5px,#0080dd 72.5px,#0098dd 75.5px,#009ecf 77.5px,#00a4bb 85.5px,#00a3bf 88.5px,#00a4bb 92.5px,#00a6b7 97.5px,#00aaa8 100.5px,#00aaa8 102.5px,#00aa9d 104.5px,#0a8 113.5px,#00aa8b 114.5px,#00a97d 115.5px,#00a353 116.5px,#00a248 117.5px,#00a248 118.5px,#009f33 119.5px,#009e28 120.5px,#009e28 124.5px,#009d1d 125.5px,#009d1d 126.5px,#009e28 127.5px,#009d1d 128.5px,#009d1d 133.5px,#009b13 134.5px,#009b13 136.5px,#009d1d 137.5px,#009d1d 140.5px,#009e28 141.5px,#00a248 142.5px,#00a773 143.5px,#00aa8b 144.5px,#00aa93 146.5px,#00aaa3 148.5px,#00a8af 151.5px,#00a4bb 152.5px,#009cd3 156.5px,#0098dd 157.5px,#007add 163.5px,#0054dd 165.5px,#0038dd 166.5px,#0013dd 168.5px,#0009dd 169.5px,#0009dd 170.5px,#00d 171.5px,#0000d9 174.5px,#0000cd 178.5px,#0000c1 182.5px,#0000ad 187.5px,#0d00a8 188.5px,#2300a6 189.5px,#2d00a4 190.5px,#4300a2 191.5px,#4d00a0 192.5px,#6d009c 193.5px,#83009a 194.5px,#850096 197.5px,#0067dd 198.5px,#00a8af 199.5px,#009adb 200.5px,#0000d1 201.5px,#002fdd 202.5px,#00a4bb 203.5px,#00a0c7 204.5px,#0095dd 205.5px,#0095dd 207.5px,#08d 208.5px,#00a8af 209.5px,#00a6b7 210.5px,#0000d1 211.5px,#00d 212.5px,#00a0c7 213.5px,#009fcb 214.5px,#0090dd 215.5px,#0013dd 216.5px,#001cdd 217.5px,#0013dd 218.5px,#0000c1 219.5px,#830094 220.5px,#7d008e 221.5px,#41004b 222.5px,#380040 223.5px,#380040 228.5px,#7a008b 229.5px,#7a008b 230.5px,#2f0035 231.5px,#2f0035 233.5px,#25002b 234.5px,#25002b 236.5px,#1c0020 237.5px,#1c0020 243.5px,#130015 244.5px,#130015 248.5px,#09000b 249.5px,#09000b 254.5px,#000 255.5px,#000 266.5px)"></i><i style="top:285px;height:16px;background:linear-gradient(90deg,#ccc 0.5px,#7f0090 1.5px,#000 3.5px,#000 32.5px,#09000b 33.5px,#000 34.5px,#000 54.5px,#130015 55.5px,#2f0035 56.5px,#79008a 58.5px,#850096 60.5px,#78009b 61.5px,#58009f 62.5px,#0000b1 63.5px,#0000cd 64.5px,#00d 67.5px,#0013dd 68.5px,#005ddd 70.5px,#007add 71.5px,#0092dd 74.5px,#009cd3 75.5px,#00a0c7 77.5px,#00a2c3 79.5px,#00a4bb 80.5px,#00a6b7 83.5px,#00a7b3 85.5px,#00a6b7 88.5px,#00a8af 91.5px,#00aaa8 98.5px,#00aa98 104.5px,#0a8 111.5px,#00a97d 112.5px,#00a97d 114.5px,#00a668 115.5px,#00a248 116.5px,#009f33 117.5px,#009f33 118.5px,#009e28 119.5px,#009b13 120.5px,#009b13 122.5px,#009d1d 123.5px,#009d1d 124.5px,#009b13 125.5px,#009b13 128.5px,#009a08 129.5px,#009a08 130.5px,#009b13 131.5px,#009b13 132.5px,#009a08 133.5px,#009a08 134.5px,#009a00 135.5px,#009a08 136.5px,#009a08 137.5px,#009b13 138.5px,#009b13 141.5px,#009f33 142.5px,#00a55d 143.5px,#00a97d 144.5px,#00aa9d 148.5px,#00a8af 152.5px,#00a0c7 156.5px,#009adb 158.5px,#0080dd 163.5px,#0070dd 165.5px,#0054dd 166.5px,#0041dd 167.5px,#0025dd 168.5px,#0025dd 169.5px,#001cdd 170.5px,#001cdd 172.5px,#0013dd 173.5px,#0013dd 174.5px,#00d 176.5px,#0000c1 184.5px,#0000b1 187.5px,#0300aa 188.5px,#1800a7 189.5px,#2300a6 190.5px,#78009b 194.5px,#83009a 195.5px,#860097 197.5px,#0070dd 198.5px,#00aaab 199.5px,#009cd3 200.5px,#0000d5 201.5px,#0038dd 202.5px,#00a4bb 203.5px,#00a2c3 204.5px,#0098dd 205.5px,#0098dd 207.5px,#08d 208.5px,#00a8af 209.5px,#00a7b3 210.5px,#0000d1 211.5px,#00d 212.5px,#00a0c7 213.5px,#00a0c7 214.5px,#0092dd 215.5px,#001cdd 216.5px,#001cdd 218.5px,#0000c1 219.5px,#850096 220.5px,#7d008e 221.5px,#41004b 222.5px,#41004b 223.5px,#380040 224.5px,#380040 228.5px,#810092 229.5px,#810092 230.5px,#2f0035 231.5px,#2f0035 233.5px,#25002b 234.5px,#25002b 236.5px,#1c0020 237.5px,#1c0020 243.5px,#130015 244.5px,#130015 249.5px,#09000b 250.5px,#09000b 254.5px,#000 255.5px,#000 266.5px)"></i><i style="top:301px;height:1px;background:linear-gradient(90deg,#ccc 0.5px,#7f0090 1.5px,#000 3.5px,#000 32.5px,#09000b 33.5px,#000 34.5px,#000 54.5px,#130015 55.5px,#2f0035 56.5px,#79008a 58.5px,#830094 60.5px,#83009a 61.5px,#63009e 62.5px,#0000ad 63.5px,#0000c5 64.5px,#00d 68.5px,#0025dd 69.5px,#0041dd 70.5px,#0067dd 71.5px,#007ddd 72.5px,#0095dd 75.5px,#009cd3 77.5px,#00a2c3 84.5px,#00a2c3 88.5px,#00a3bf 92.5px,#00a6b7 98.5px,#00aaab 100.5px,#00aaab 102.5px,#00aaa0 104.5px,#00aa8b 113.5px,#00aa8d 114.5px,#0a8 115.5px,#00a55d 116.5px,#00a248 117.5px,#00a248 118.5px,#00a13d 119.5px,#009e28 120.5px,#009e28 122.5px,#009f33 123.5px,#009f33 124.5px,#009d1d 125.5px,#009d1d 126.5px,#009e28 127.5px,#009b13 129.5px,#009b13 130.5px,#009d1d 131.5px,#009d1d 132.5px,#009b13 133.5px,#009b13 137.5px,#009d1d 138.5px,#009d1d 140.5px,#009e28 141.5px,#00a97d 143.5px,#00aa8b 144.5px,#00aaa8 149.5px,#00a7b3 151.5px,#00a0c7 153.5px,#009adb 156.5px,#007add 162.5px,#0041dd 165.5px,#0025dd 166.5px,#0000d9 168.5px,#0000d1 174.5px,#0000c9 177.5px,#0000c1 181.5px,#0000b1 185.5px,#0000b1 186.5px,#0300aa 187.5px,#1800a7 188.5px,#2d00a4 190.5px,#83009a 194.5px,#860097 196.5px,#850096 197.5px,#005ddd 198.5px,#00a7b3 199.5px,#009adb 200.5px,#0000d1 201.5px,#002fdd 202.5px,#00a3bf 203.5px,#00a0c7 204.5px,#0095dd 205.5px,#0095dd 207.5px,#08d 208.5px,#00a7b3 209.5px,#00a6b7 210.5px,#0000cd 211.5px,#0000d9 212.5px,#009fcb 213.5px,#009fcb 214.5px,#0090dd 215.5px,#0013dd 216.5px,#0013dd 218.5px,#0000c1 219.5px,#830094 220.5px,#7b008c 221.5px,#41004b 222.5px,#380040 223.5px,#380040 228.5px,#0000d1 229.5px,#0000d1 230.5px,#2f0035 231.5px,#2f0035 233.5px,#25002b 234.5px,#25002b 235.5px,#1c0020 236.5px,#1c0020 243.5px,#130015 244.5px,#130015 248.5px,#09000b 249.5px,#09000b 254.5px,#000 255.5px,#000 266.5px)"></i><i style="top:302px;height:15px;background:linear-gradient(90deg,#ccc 0.5px,#7f0090 1.5px,#000 3.5px,#000 32.5px,#09000b 33.5px,#000 34.5px,#000 54.5px,#130015 55.5px,#2f0035 56.5px,#79008a 58.5px,#870098 61.5px,#63009e 62.5px,#0000ad 63.5px,#0000c5 64.5px,#00d 68.5px,#001cdd 69.5px,#0067dd 71.5px,#007ddd 72.5px,#0095dd 75.5px,#009bd7 77.5px,#00a0c7 82.5px,#00a3bf 94.5px,#00a6b7 98.5px,#00aa98 107.5px,#00aa8d 113.5px,#0a8 115.5px,#00a668 116.5px,#00a353 117.5px,#00a353 118.5px,#009e28 120.5px,#009e28 122.5px,#009f33 123.5px,#009f33 124.5px,#009d1d 126.5px,#009e28 127.5px,#009e28 128.5px,#009d1d 129.5px,#009d1d 133.5px,#009b13 134.5px,#009b13 137.5px,#009d1d 138.5px,#009d1d 139.5px,#009f33 141.5px,#00a353 142.5px,#00a97d 143.5px,#00aa8d 144.5px,#00aa9d 147.5px,#00a6b7 151.5px,#00a2c3 152.5px,#009adb 156.5px,#0085dd 159.5px,#0078dd 162.5px,#0067dd 163.5px,#004bdd 164.5px,#0025dd 166.5px,#0009dd 167.5px,#0000d9 168.5px,#0000d1 173.5px,#0000c5 178.5px,#0300aa 187.5px,#1800a7 188.5px,#2300a6 189.5px,#3800a3 190.5px,#4300a2 191.5px,#83009a 194.5px,#860097 196.5px,#850096 197.5px,#005ddd 198.5px,#00a7b3 199.5px,#009adb 200.5px,#0000d1 201.5px,#002fdd 202.5px,#00a3bf 203.5px,#00a0c7 204.5px,#0095dd 205.5px,#0095dd 207.5px,#0085dd 208.5px,#00a7b3 209.5px,#00a6b7 210.5px,#0000cd 211.5px,#0000d9 212.5px,#009fcb 213.5px,#009fcb 214.5px,#0090dd 215.5px,#0013dd 216.5px,#0013dd 218.5px,#0000c1 219.5px,#830094 220.5px,#7b008c 221.5px,#41004b 222.5px,#380040 223.5px,#380040 228.5px,#00d 229.5px,#00d 230.5px,#2f0035 231.5px,#2f0035 233.5px,#25002b 234.5px,#25002b 235.5px,#1c0020 236.5px,#1c0020 243.5px,#130015 244.5px,#130015 248.5px,#09000b 249.5px,#09000b 254.5px,#000 255.5px,#000 266.5px)"></i><i style="top:317px;height:1px;background:linear-gradient(90deg,#ccc 0.5px,#7f0090 1.5px,#000 3.5px,#000 32.5px,#09000b 33.5px,#000 34.5px,#000 54.5px,#09000b 55.5px,#41004b 57.5px,#670075 58.5px,#7a008b 59.5px,#860097 62.5px,#4300a2 63.5px,#0d00a8 64.5px,#0000ad 65.5px,#0000b9 68.5px,#00d 71.5px,#0038dd 73.5px,#004bdd 74.5px,#0067dd 75.5px,#007add 76.5px,#0085dd 86.5px,#0085dd 89.5px,#008add 98.5px,#009adb 105.5px,#00a2c3 113.5px,#00a3bf 115.5px,#00aaab 117.5px,#00aaa3 121.5px,#00aaa3 128.5px,#00aa9d 136.5px,#00aaa5 141.5px,#00a2c3 144.5px,#009ecf 146.5px,#009adb 147.5px,#007add 155.5px,#0070dd 156.5px,#0038dd 159.5px,#002fdd 160.5px,#001cdd 161.5px,#0013dd 162.5px,#00d 163.5px,#0000b5 168.5px,#0300aa 177.5px,#0d00a8 178.5px,#0d00a8 180.5px,#2d00a4 183.5px,#2d00a4 184.5px,#3800a3 185.5px,#3800a3 186.5px,#4d00a0 187.5px,#6d009c 190.5px,#83009a 191.5px,#850096 193.5px,#7f0090 197.5px,#0000d9 198.5px,#008add 199.5px,#0070dd 200.5px,#0000ad 201.5px,#0000c9 202.5px,#0085dd 203.5px,#0080dd 204.5px,#0067dd 205.5px,#0067dd 207.5px,#0038dd 208.5px,#008add 209.5px,#008add 210.5px,#0000ad 211.5px,#0000b5 212.5px,#0080dd 213.5px,#0080dd 214.5px,#0054dd 215.5px,#0000c1 216.5px,#0000c1 218.5px,#1800a7 219.5px,#7e008f 220.5px,#79008a 221.5px,#380040 222.5px,#2f0035 223.5px,#2f0035 228.5px,#0000b9 229.5px,#0000b9 230.5px,#25002b 231.5px,#25002b 233.5px,#1c0020 234.5px,#1c0020 238.5px,#130015 239.5px,#130015 246.5px,#09000b 247.5px,#09000b 253.5px,#000 254.5px,#000 266.5px)"></i><i style="top:318px;height:16px;background:linear-gradient(90deg,#ccc 0.5px,#7f0090 1.5px,#000 3.5px,#000 32.5px,#09000b 33.5px,#000 34.5px,#000 59.5px,#09000b 60.5px,#09000b 61.5px,#130015 62.5px,#130015 65.5px,#1c0020 66.5px,#1c0020 69.5px,#25002b 70.5px,#25002b 80.5px,#2f0035 81.5px,#2f0035 92.5px,#540060 93.5px,#540060 94.5px,#2f0035 95.5px,#2f0035 141.5px,#25002b 142.5px,#25002b 144.5px,#1c0020 145.5px,#1c0020 181.5px,#130015 182.5px,#130015 195.5px,#09000b 196.5px,#09000b 227.5px,#000 228.5px,#000 266.5px)"></i><i style="top:334px;height:1px;background:linear-gradient(90deg,#ccc 0.5px,#7f0090 1.5px,#000 3.5px,#000 32.5px,#09000b 33.5px,#000 34.5px,#000 58.5px,#09000b 59.5px,#09000b 61.5px,#130015 62.5px,#130015 69.5px,#1c0020 70.5px,#1c0020 92.5px,#2f0035 93.5px,#2f0035 94.5px,#25002b 95.5px,#25002b 140.5px,#1c0020 141.5px,#1c0020 145.5px,#130015 146.5px,#130015 190.5px,#09000b 191.5px,#09000b 232.5px,#000 233.5px,#000 266.5px)"></i><i style="top:335px;height:16px;background:linear-gradient(90deg,#ccc 0.5px,#7f0090 1.5px,#09000b 3.5px,#09000b 126.5px,#130015 127.5px,#130015 152.5px,#09000b 153.5px,#09000b 266.5px)"></i><i style="top:351px;height:1px;background:linear-gradient(90deg,#ccc 0.5px,#7f0090 1.5px,#000 3.5px,#000 32.5px,#09000b 33.5px,#000 34.5px,#000 52.5px,#25002b 53.5px,#708 54.5px,#7e008f 55.5px,#58009f 56.5px,#0000b9 57.5px,#00d 58.5px,#0054dd 59.5px,#0085dd 60.5px,#009fcb 61.5px,#00aaa0 62.5px,#00a97d 63.5px,#00a13d 64.5px,#009e28 65.5px,#009d1d 66.5px,#009d1d 67.5px,#009b13 68.5px,#009c00 69.5px,#0a0 71.5px,#00b700 76.5px,#00b700 83.5px,#00b200 87.5px,#00ba00 90.5px,#00b200 108.5px,#00b400 112.5px,#00ba00 114.5px,#00ba00 122.5px,#00b200 124.5px,#00ac00 132.5px,#00a400 136.5px,#00a200 139.5px,#009c00 140.5px,#009b13 142.5px,#009b13 144.5px,#009d1d 145.5px,#009d1d 149.5px,#009e28 150.5px,#00a13d 151.5px,#00a55d 152.5px,#0a8 154.5px,#00aaab 162.5px,#00a3bf 166.5px,#009fcb 170.5px,#009adb 173.5px,#0078dd 182.5px,#005ddd 183.5px,#0025dd 186.5px,#001cdd 187.5px,#0009dd 188.5px,#00d 189.5px,#0000b9 196.5px,#0000b1 197.5px,#0000cd 198.5px,#005ddd 199.5px,#0000d5 200.5px,#0d00a8 201.5px,#0d00a8 202.5px,#002fdd 203.5px,#001cdd 204.5px,#0d00a8 205.5px,#0000b5 206.5px,#0000d9 207.5px,#0000d5 208.5px,#002fdd 209.5px,#001cdd 210.5px,#0d00a8 211.5px,#0d00a8 212.5px,#002fdd 213.5px,#0000cd 214.5px,#0d00a8 215.5px,#0d00a8 216.5px,#63009e 217.5px,#850096 218.5px,#7b008c 223.5px,#708 228.5px,#670075 230.5px,#670075 231.5px,#5d006b 232.5px,#5d006b 234.5px,#540060 235.5px,#540060 237.5px,#4b0055 238.5px,#4b0055 241.5px,#41004b 242.5px,#41004b 244.5px,#380040 245.5px,#380040 247.5px,#2f0035 248.5px,#2f0035 249.5px,#25002b 250.5px,#25002b 252.5px,#1c0020 253.5px,#1c0020 255.5px,#130015 256.5px,#130015 258.5px,#09000b 259.5px,#09000b 261.5px,#000 262.5px,#000 266.5px)"></i><i style="top:352px;height:16px;background:linear-gradient(90deg,#ccc 0.5px,#7f0090 1.5px,#000 3.5px,#000 32.5px,#09000b 33.5px,#000 34.5px,#000 52.5px,#2f0035 53.5px,#7d008e 54.5px,#860097 55.5px,#0000b5 56.5px,#0038dd 57.5px,#08d 58.5px,#00a0c7 59.5px,#00aa9d 60.5px,#009e28 61.5px,#00ba00 62.5px,#00df00 63.5px,#00f400 64.5px,#0f0 66.5px,#0fff00 67.5px,#0fff00 68.5px,#58ff00 69.5px,#93ff00 70.5px,#bcff00 71.5px,#d0f800 74.5px,#dcf400 78.5px,#dcf400 82.5px,#d0f800 84.5px,#d0f800 88.5px,#d8f500 89.5px,#d8f500 94.5px,#d4f700 98.5px,#c8fb00 106.5px,#c8fb00 110.5px,#dcf400 113.5px,#e0f300 121.5px,#ccf900 124.5px,#c4fc00 132.5px,#b0ff00 134.5px,#93ff00 136.5px,#93ff00 137.5px,#84ff00 138.5px,#84ff00 139.5px,#2cff00 141.5px,#0fff00 143.5px,#0fff00 147.5px,#0f0 148.5px,#00fc00 150.5px,#00c700 157.5px,#009c00 165.5px,#009a08 166.5px,#009a08 168.5px,#009d1d 169.5px,#009e28 170.5px,#00a97d 174.5px,#00aa8b 175.5px,#00aaa0 180.5px,#009bd7 185.5px,#0090dd 187.5px,#007add 192.5px,#0067dd 194.5px,#0054dd 195.5px,#0038dd 196.5px,#0025dd 197.5px,#0078dd 198.5px,#00a3bf 199.5px,#0080dd 200.5px,#00d 201.5px,#00d 202.5px,#0098dd 203.5px,#0092dd 204.5px,#00d 205.5px,#002fdd 206.5px,#0085dd 207.5px,#0080dd 208.5px,#0098dd 209.5px,#0092dd 210.5px,#00d 211.5px,#00d 212.5px,#0098dd 213.5px,#0078dd 214.5px,#00d 215.5px,#00d 216.5px,#0000b1 217.5px,#4d00a0 218.5px,#78009b 219.5px,#860097 220.5px,#708 234.5px,#700080 235.5px,#700080 236.5px,#670075 237.5px,#670075 239.5px,#5d006b 240.5px,#5d006b 242.5px,#540060 243.5px,#540060 244.5px,#4b0055 245.5px,#4b0055 246.5px,#41004b 247.5px,#41004b 248.5px,#380040 249.5px,#380040 250.5px,#2f0035 251.5px,#2f0035 252.5px,#25002b 253.5px,#25002b 254.5px,#1c0020 255.5px,#1c0020 256.5px,#130015 257.5px,#130015 259.5px,#09000b 260.5px,#09000b 261.5px,#000 262.5px,#000 266.5px)"></i></div><svg width="640" height="440" viewBox="0 0 640 440" style="will-change:transform" font-family="Liberation Sans, sans-serif"><clipPath id="c1"><rect x="48" y="28" width="267" height="368"/></clipPath><g clip-path="url(#c1)" fill="none" stroke="#fff" stroke-linejoin="round" stroke-linecap="butt"><polyline points="49.0,283.8 102.5,283.8" stroke-width="3.4"/><polyline points="101.5,284.0 102.3,284.0 103.1,283.0 103.9,282.1 104.8,278.5 105.6,274.7 106.4,270.2 107.2,265.7 108.0,261.5 108.8,257.4 109.6,253.4 110.4,249.3 111.2,245.2 112.1,241.8 112.9,238.5 113.7,234.8 114.5,229.5 115.3,224.1 116.1,219.4 116.9,214.8 117.8,211.3 118.6,210.0 119.4,208.9 120.2,208.0 121.0,207.3 121.8,206.7 122.6,206.3 123.4,205.9 124.2,205.5 125.1,205.0 125.9,204.6 126.7,204.3 127.5,204.2 128.3,204.0 129.1,203.7 129.9,203.4 130.8,203.2 131.6,203.0 132.4,202.7 133.2,202.4 134.0,202.1 134.8,201.7 135.6,201.3 136.4,200.9 137.2,200.5 138.1,200.0 138.9,199.4 139.7,199.0 140.5,198.5 141.3,198.2 142.1,197.8 142.9,197.5 143.8,197.2 144.6,197.0 145.4,196.7 146.2,196.5 147.0,196.3 147.8,196.1 148.6,195.8 149.4,195.5 150.2,195.1 151.1,194.5 151.9,194.0 152.7,193.5 153.5,192.9 154.3,192.3 155.1,191.7 155.9,191.0 156.8,190.4 157.6,189.7 158.4,189.1 159.2,188.5 160.0,187.9 160.8,187.0 161.6,186.1 162.4,185.2 163.2,184.3 164.1,183.4 164.9,182.4 165.7,181.5 166.5,180.8 167.3,180.3 168.1,179.8 168.9,179.4 169.8,178.9 170.6,178.4 171.4,177.8 172.2,177.1 173.0,176.5 173.8,176.1 174.6,175.7 175.4,175.3 176.2,175.1 177.1,175.6 177.9,176.1 178.7,176.7 179.5,177.2 180.3,177.4 181.1,177.2 181.9,177.0 182.8,176.7 183.6,176.3 184.4,175.8 185.2,175.3 186.0,174.8 186.8,175.4 187.6,176.1 188.4,177.1 189.2,178.4 190.1,179.8 190.9,181.1 191.7,182.4 192.5,183.7 193.3,185.1 194.1,186.3 194.9,187.0 195.8,187.7 196.6,188.4 197.4,189.1 198.2,190.3 199.0,193.0 199.8,195.7 200.6,198.4 201.4,200.7 202.2,203.0 203.1,205.4 203.9,207.6 204.7,209.0 205.5,210.4 206.3,211.7 207.1,213.1 207.9,214.5 208.8,215.9 209.6,217.2 210.4,218.6 211.2,220.0 212.0,221.3 212.8,222.7 213.6,224.0 214.4,225.4 215.2,226.8 216.1,228.1 216.9,229.5 217.7,230.8 218.5,232.2 219.3,233.4 220.1,234.7 220.9,235.9 221.8,237.1 222.6,238.4 223.4,239.6 224.2,240.9 225.0,242.1 225.8,243.3 226.6,244.6 227.4,245.6 228.2,246.6 229.1,247.6 229.9,248.5 230.7,249.5 231.5,250.5 232.3,251.4 233.1,252.4 233.9,253.1 234.8,253.8 235.6,254.5 236.4,255.2 237.2,255.9 238.0,256.6 238.8,257.3 239.6,257.9 240.4,258.6 241.2,259.3 242.1,260.0 242.9,260.7 243.7,261.4 244.5,262.1 245.3,262.5" stroke-width="2.4"/><polyline points="101.5,284.0 102.3,283.9 103.1,282.9 103.9,281.8 104.8,278.2 105.6,274.3 106.4,269.8 107.2,265.4 108.0,261.1 108.8,257.1 109.6,253.0 110.4,249.0 111.2,244.9 112.1,241.4 112.9,238.1 113.7,234.1 114.5,228.7 115.3,223.2 116.1,218.2 116.9,213.6 117.8,210.0 118.6,208.6 119.4,207.4 120.2,206.4 121.0,205.5 121.8,204.6 122.6,204.0 123.4,203.6 124.2,203.1 125.1,202.5 125.9,201.9 126.7,201.7 127.5,201.5 128.3,201.4 129.1,201.2 129.9,201.1 130.8,201.0 131.6,200.9 132.4,200.8 133.2,200.7 134.0,200.5 134.8,200.3 135.6,200.2 136.4,199.9 137.2,199.6 138.1,199.3 138.9,198.9 139.7,198.6 140.5,198.2 141.3,197.9 142.1,197.5 142.9,197.1 143.8,196.7 144.6,196.4 145.4,196.0 146.2,195.7 147.0,195.3 147.8,195.0 148.6,194.7 149.4,194.3 150.2,194.0 151.1,193.5 151.9,193.1 152.7,192.7 153.5,192.2 154.3,191.7 155.1,191.1 155.9,190.5 156.8,189.8 157.6,189.0 158.4,188.3 159.2,187.6 160.0,186.9 160.8,185.9 161.6,184.9 162.4,184.0 163.2,183.1 164.1,182.2 164.9,181.4 165.7,180.5 166.5,179.8 167.3,179.4 168.1,179.0 168.9,178.5 169.8,178.0 170.6,177.3 171.4,176.5 172.2,175.7 173.0,174.9 173.8,174.2 174.6,173.6 175.4,173.0 176.2,172.8 177.1,173.3 177.9,173.8 178.7,174.4 179.5,175.0 180.3,175.4 181.1,175.4 181.9,175.4 182.8,175.3 183.6,174.9 184.4,174.4 185.2,174.0 186.0,173.5 186.8,174.1 187.6,174.8 188.4,175.7 189.2,177.1 190.1,178.6 190.9,179.9 191.7,181.4 192.5,182.8 193.3,184.2 194.1,185.5 194.9,186.2 195.8,187.0 196.6,187.7 197.4,188.5 198.2,189.6 199.0,192.1 199.8,194.6 200.6,197.2 201.4,199.6 202.2,202.0 203.1,204.4 203.9,206.6 204.7,208.1 205.5,209.6 206.3,211.1 207.1,212.6 207.9,213.9 208.8,215.3 209.6,216.7 210.4,218.1 211.2,219.4 212.0,220.8 212.8,222.1 213.6,223.5 214.4,224.8 215.2,226.2 216.1,227.6 216.9,228.9 217.7,230.3 218.5,231.6 219.3,232.9 220.1,234.1 220.9,235.4 221.8,236.6 222.6,237.9 223.4,239.1 224.2,240.4 225.0,241.6 225.8,242.8 226.6,244.1 227.4,245.1 228.2,246.1 229.1,247.1 229.9,248.1 230.7,249.1 231.5,250.1 232.3,251.0 233.1,252.0 233.9,252.8 234.8,253.5 235.6,254.2 236.4,254.9 237.2,255.6 238.0,256.3 238.8,257.0 239.6,257.7 240.4,258.4 241.2,259.1 242.1,259.8 242.9,260.5 243.7,261.2 244.5,261.9 245.3,262.4" stroke-width="2.4"/><polyline points="101.5,284.0 102.3,283.8 103.1,282.8 103.9,281.5 104.8,277.9 105.6,273.9 106.4,269.4 107.2,265.0 108.0,260.8 108.8,256.7 109.6,252.7 110.4,248.6 111.2,244.6 112.1,241.0 112.9,237.6 113.7,233.5 114.5,228.0 115.3,222.3 116.1,217.2 116.9,212.6 117.8,208.9 118.6,207.3 119.4,205.8 120.2,204.6 121.0,203.5 121.8,202.3 122.6,201.7 123.4,201.2 124.2,200.7 125.1,200.2 125.9,199.6 126.7,199.5 127.5,199.4 128.3,199.3 129.1,199.4 129.9,199.4 130.8,199.3 131.6,199.1 132.4,198.9 133.2,198.8 134.0,198.5 134.8,198.2 135.6,197.9 136.4,197.6 137.2,197.1 138.1,196.7 138.9,196.4 139.7,196.1 140.5,195.9 141.3,195.6 142.1,195.4 142.9,195.2 143.8,194.9 144.6,194.7 145.4,194.5 146.2,194.3 147.0,193.9 147.8,193.6 148.6,193.3 149.4,192.9 150.2,192.3 151.1,191.8 151.9,191.2 152.7,190.7 153.5,190.1 154.3,189.6 155.1,189.0 155.9,188.4 156.8,187.8 157.6,187.2 158.4,186.7 159.2,186.1 160.0,185.5 160.8,184.7 161.6,183.8 162.4,182.9 163.2,182.1 164.1,181.2 164.9,180.3 165.7,179.4 166.5,178.7 167.3,178.2 168.1,177.7 168.9,177.3 169.8,176.9 170.6,176.2 171.4,175.4 172.2,174.7 173.0,173.9 173.8,173.4 174.6,173.0 175.4,172.6 176.2,172.5 177.1,173.0 177.9,173.5 178.7,174.0 179.5,174.6 180.3,175.0 181.1,175.2 181.9,175.2 182.8,174.9 183.6,174.5 184.4,174.1 185.2,173.7 186.0,173.2 186.8,173.8 187.6,174.5 188.4,175.4 189.2,176.9 190.1,178.3 190.9,179.5 191.7,180.8 192.5,182.1 193.3,183.3 194.1,184.4 194.9,185.1 195.8,185.9 196.6,186.7 197.4,187.5 198.2,188.7 199.0,191.1 199.8,193.5 200.6,196.1 201.4,198.5 202.2,200.9 203.1,203.3 203.9,205.6 204.7,207.3 205.5,208.9 206.3,210.5 207.1,212.0 207.9,213.4 208.8,214.8 209.6,216.1 210.4,217.5 211.2,218.9 212.0,220.2 212.8,221.6 213.6,222.9 214.4,224.3 215.2,225.7 216.1,227.0 216.9,228.4 217.7,229.7 218.5,231.1 219.3,232.4 220.1,233.6 220.9,234.9 221.8,236.1 222.6,237.4 223.4,238.6 224.2,239.9 225.0,241.1 225.8,242.3 226.6,243.6 227.4,244.6 228.2,245.7 229.1,246.7 229.9,247.7 230.7,248.7 231.5,249.7 232.3,250.6 233.1,251.6 233.9,252.4 234.8,253.1 235.6,253.9 236.4,254.6 237.2,255.3 238.0,256.1 238.8,256.8 239.6,257.5 240.4,258.2 241.2,258.9 242.1,259.6 242.9,260.3 243.7,261.0 244.5,261.8 245.3,262.2" stroke-width="2.4"/><polyline points="101.5,284.0 102.3,283.8 103.1,282.7 103.9,281.2 104.8,277.5 105.6,273.5 106.4,269.1 107.2,264.6 108.0,260.4 108.8,256.4 109.6,252.3 110.4,248.3 111.2,244.2 112.1,240.6 112.9,237.2 113.7,232.8 114.5,227.2 115.3,221.4 116.1,216.2 116.9,211.7 117.8,208.1 118.6,206.5 119.4,205.0 120.2,203.7 121.0,202.4 121.8,201.2 122.6,200.3 123.4,199.6 124.2,198.9 125.1,198.3 125.9,197.6 126.7,197.4 127.5,197.2 128.3,197.1 129.1,197.1 129.9,197.1 130.8,197.2 131.6,197.2 132.4,197.1 133.2,197.1 134.0,197.0 134.8,197.0 135.6,196.9 136.4,196.9 137.2,196.7 138.1,196.5 138.9,196.3 139.7,196.1 140.5,195.9 141.3,195.7 142.1,195.4 142.9,195.0 143.8,194.5 144.6,194.1 145.4,193.8 146.2,193.4 147.0,192.9 147.8,192.3 148.6,191.6 149.4,191.1 150.2,190.5 151.1,189.9 151.9,189.3 152.7,188.7 153.5,188.1 154.3,187.5 155.1,186.9 155.9,186.5 156.8,185.9 157.6,185.4 158.4,184.8 159.2,184.2 160.0,183.6 160.8,182.8 161.6,182.1 162.4,181.3 163.2,180.4 164.1,179.6 164.9,178.8 165.7,178.1 166.5,177.6 167.3,177.3 168.1,176.8 168.9,176.3 169.8,175.9 170.6,175.3 171.4,174.5 172.2,173.7 173.0,172.9 173.8,172.4 174.6,171.9 175.4,171.5 176.2,171.4 177.1,172.0 177.9,172.5 178.7,172.9 179.5,173.4 180.3,173.7 181.1,173.8 181.9,173.8 182.8,173.4 183.6,172.8 184.4,172.3 185.2,171.8 186.0,171.3 186.8,171.8 187.6,172.5 188.4,173.5 189.2,175.0 190.1,176.6 190.9,177.9 191.7,179.1 192.5,180.5 193.3,181.8 194.1,183.1 194.9,184.0 195.8,184.9 196.6,185.9 197.4,186.8 198.2,188.0 199.0,190.2 199.8,192.4 200.6,195.0 201.4,197.4 202.2,199.9 203.1,202.3 203.9,204.7 204.7,206.4 205.5,208.1 206.3,209.8 207.1,211.5 207.9,212.9 208.8,214.2 209.6,215.6 210.4,217.0 211.2,218.3 212.0,219.7 212.8,221.0 213.6,222.4 214.4,223.7 215.2,225.1 216.1,226.5 216.9,227.8 217.7,229.2 218.5,230.5 219.3,231.8 220.1,233.1 220.9,234.4 221.8,235.6 222.6,236.9 223.4,238.1 224.2,239.3 225.0,240.6 225.8,241.8 226.6,243.0 227.4,244.2 228.2,245.2 229.1,246.2 229.9,247.3 230.7,248.3 231.5,249.3 232.3,250.2 233.1,251.2 233.9,252.0 234.8,252.8 235.6,253.6 236.4,254.3 237.2,255.1 238.0,255.8 238.8,256.5 239.6,257.2 240.4,258.0 241.2,258.7 242.1,259.4 242.9,260.2 243.7,260.9 244.5,261.6 245.3,262.1" stroke-width="2.4"/><polyline points="101.5,284.0 102.3,283.7 103.1,282.6 103.9,281.0 104.8,277.2 105.6,273.2 106.4,268.7 107.2,264.3 108.0,260.1 108.8,256.0 109.6,252.0 110.4,247.9 111.2,243.9 112.1,240.2 112.9,236.7 113.7,232.2 114.5,226.5 115.3,220.6 116.1,215.1 116.9,210.6 117.8,207.0 118.6,205.4 119.4,203.9 120.2,202.6 121.0,201.3 121.8,199.9 122.6,199.2 123.4,198.5 124.2,197.9 125.1,197.2 125.9,196.5 126.7,196.2 127.5,196.1 128.3,195.9 129.1,195.9 129.9,195.8 130.8,195.8 131.6,195.6 132.4,195.4 133.2,195.3 134.0,195.2 134.8,195.0 135.6,195.0 136.4,194.9 137.2,194.8 138.1,194.9 138.9,194.9 139.7,194.9 140.5,194.8 141.3,194.7 142.1,194.4 142.9,194.2 143.8,193.8 144.6,193.5 145.4,193.0 146.2,192.6 147.0,192.0 147.8,191.5 148.6,190.9 149.4,190.3 150.2,189.8 151.1,189.1 151.9,188.6 152.7,188.0 153.5,187.5 154.3,187.0 155.1,186.5 155.9,186.0 156.8,185.5 157.6,185.0 158.4,184.5 159.2,183.9 160.0,183.3 160.8,182.5 161.6,181.7 162.4,180.9 163.2,180.0 164.1,179.2 164.9,178.4 165.7,177.7 166.5,177.2 167.3,176.8 168.1,176.5 168.9,176.1 169.8,175.7 170.6,175.1 171.4,174.2 172.2,173.4 173.0,172.5 173.8,172.0 174.6,171.5 175.4,171.0 176.2,170.8 177.1,171.3 177.9,171.8 178.7,172.3 179.5,172.7 180.3,173.1 181.1,173.1 181.9,173.2 182.8,172.6 183.6,171.9 184.4,171.3 185.2,170.7 186.0,170.1 186.8,170.5 187.6,171.2 188.4,172.1 189.2,173.8 190.1,175.5 190.9,176.7 191.7,177.9 192.5,179.2 193.3,180.5 194.1,181.7 194.9,182.7 195.8,183.6 196.6,184.6 197.4,185.7 198.2,187.0 199.0,189.2 199.8,191.3 200.6,193.8 201.4,196.3 202.2,198.8 203.1,201.3 203.9,203.7 204.7,205.5 205.5,207.3 206.3,209.2 207.1,211.0 207.9,212.3 208.8,213.7 209.6,215.0 210.4,216.4 211.2,217.8 212.0,219.1 212.8,220.5 213.6,221.8 214.4,223.2 215.2,224.6 216.1,225.9 216.9,227.3 217.7,228.6 218.5,230.0 219.3,231.3 220.1,232.6 220.9,233.8 221.8,235.1 222.6,236.4 223.4,237.6 224.2,238.8 225.0,240.1 225.8,241.3 226.6,242.5 227.4,243.7 228.2,244.7 229.1,245.8 229.9,246.9 230.7,247.9 231.5,248.9 232.3,249.8 233.1,250.8 233.9,251.6 234.8,252.4 235.6,253.2 236.4,254.1 237.2,254.8 238.0,255.5 238.8,256.3 239.6,257.0 240.4,257.8 241.2,258.5 242.1,259.2 242.9,260.0 243.7,260.7 244.5,261.4 245.3,261.9" stroke-width="2.4"/><polyline points="101.5,284.0 102.3,283.6 103.1,282.5 103.9,280.7 104.8,276.9 105.6,272.8 106.4,268.3 107.2,263.9 108.0,259.8 108.8,255.7 109.6,251.6 110.4,247.6 111.2,243.5 112.1,239.9 112.9,236.3 113.7,231.5 114.5,225.8 115.3,219.6 116.1,214.0 116.9,209.4 117.8,205.7 118.6,204.0 119.4,202.4 120.2,200.9 121.0,199.4 121.8,197.9 122.6,197.1 123.4,196.5 124.2,195.9 125.1,195.2 125.9,194.6 126.7,194.6 127.5,194.6 128.3,194.6 129.1,194.6 129.9,194.7 130.8,194.6 131.6,194.5 132.4,194.2 133.2,194.0 134.0,193.7 134.8,193.4 135.6,193.2 136.4,193.0 137.2,193.0 138.1,193.0 138.9,192.9 139.7,192.9 140.5,192.9 141.3,192.7 142.1,192.4 142.9,192.0 143.8,191.5 144.6,191.0 145.4,190.5 146.2,190.0 147.0,189.4 147.8,188.9 148.6,188.4 149.4,188.0 150.2,187.6 151.1,187.2 151.9,186.9 152.7,186.6 153.5,186.3 154.3,185.9 155.1,185.4 155.9,185.0 156.8,184.4 157.6,183.8 158.4,183.2 159.2,182.5 160.0,181.7 160.8,180.8 161.6,179.8 162.4,178.9 163.2,178.0 164.1,177.2 164.9,176.4 165.7,175.7 166.5,175.2 167.3,174.8 168.1,174.5 168.9,174.2 169.8,174.0 170.6,173.3 171.4,172.5 172.2,171.6 173.0,170.8 173.8,170.3 174.6,169.9 175.4,169.3 176.2,169.1 177.1,169.5 177.9,170.0 178.7,170.5 179.5,171.1 180.3,171.5 181.1,171.8 181.9,172.0 182.8,171.7 183.6,171.2 184.4,170.6 185.2,170.2 186.0,169.9 186.8,170.3 187.6,171.0 188.4,171.9 189.2,173.7 190.1,175.4 190.9,176.6 191.7,177.8 192.5,178.9 193.3,180.0 194.1,181.0 194.9,181.9 195.8,182.8 196.6,183.8 197.4,184.8 198.2,186.1 199.0,188.1 199.8,190.2 200.6,192.7 201.4,195.2 202.2,197.8 203.1,200.3 203.9,202.7 204.7,204.6 205.5,206.6 206.3,208.5 207.1,210.4 207.9,211.8 208.8,213.1 209.6,214.5 210.4,215.9 211.2,217.2 212.0,218.6 212.8,219.9 213.6,221.3 214.4,222.6 215.2,224.0 216.1,225.4 216.9,226.7 217.7,228.1 218.5,229.4 219.3,230.7 220.1,232.0 220.9,233.3 221.8,234.6 222.6,235.9 223.4,237.1 224.2,238.3 225.0,239.6 225.8,240.8 226.6,242.0 227.4,243.2 228.2,244.3 229.1,245.4 229.9,246.5 230.7,247.5 231.5,248.5 232.3,249.4 233.1,250.4 233.9,251.3 234.8,252.1 235.6,252.9 236.4,253.8 237.2,254.5 238.0,255.3 238.8,256.0 239.6,256.8 240.4,257.5 241.2,258.3 242.1,259.0 242.9,259.8 243.7,260.5 244.5,261.3 245.3,261.8" stroke-width="2.4"/><polyline points="101.5,284.0 102.3,283.5 103.1,282.4 103.9,280.4 104.8,276.6 105.6,272.4 106.4,267.9 107.2,263.5 108.0,259.4 108.8,255.3 109.6,251.3 110.4,247.2 111.2,243.2 112.1,239.5 112.9,235.9 113.7,230.8 114.5,225.0 115.3,218.6 116.1,212.8 116.9,208.2 117.8,204.5 118.6,202.6 119.4,200.9 120.2,199.3 121.0,197.8 121.8,196.1 122.6,195.2 123.4,194.6 124.2,193.9 125.1,193.3 125.9,192.6 126.7,192.5 127.5,192.5 128.3,192.6 129.1,192.7 129.9,192.7 130.8,192.9 131.6,192.8 132.4,192.7 133.2,192.6 134.0,192.4 134.8,192.2 135.6,192.0 136.4,191.9 137.2,191.8 138.1,191.8 138.9,191.7 139.7,191.6 140.5,191.6 141.3,191.4 142.1,191.1 142.9,190.9 143.8,190.6 144.6,190.4 145.4,190.2 146.2,190.1 147.0,189.7 147.8,189.3 148.6,188.9 149.4,188.4 150.2,187.8 151.1,187.2 151.9,186.5 152.7,185.8 153.5,185.0 154.3,184.3 155.1,183.6 155.9,183.0 156.8,182.5 157.6,181.9 158.4,181.4 159.2,180.8 160.0,180.3 160.8,179.5 161.6,178.7 162.4,178.0 163.2,177.2 164.1,176.5 164.9,175.7 165.7,174.9 166.5,174.4 167.3,173.9 168.1,173.5 168.9,173.1 169.8,172.6 170.6,171.8 171.4,170.7 172.2,169.7 173.0,168.7 173.8,168.2 174.6,167.6 175.4,167.1 176.2,166.9 177.1,167.3 177.9,167.8 178.7,168.2 179.5,168.7 180.3,169.2 181.1,169.6 181.9,170.0 182.8,169.6 183.6,169.0 184.4,168.5 185.2,168.2 186.0,168.0 186.8,168.6 187.6,169.6 188.4,170.6 189.2,172.5 190.1,174.3 190.9,175.5 191.7,176.6 192.5,177.7 193.3,178.7 194.1,179.7 194.9,180.6 195.8,181.5 196.6,182.5 197.4,183.7 198.2,185.1 199.0,187.1 199.8,189.1 200.6,191.6 201.4,194.2 202.2,196.7 203.1,199.3 203.9,201.7 204.7,203.8 205.5,205.8 206.3,207.9 207.1,209.9 207.9,211.2 208.8,212.6 209.6,214.0 210.4,215.3 211.2,216.7 212.0,218.0 212.8,219.4 213.6,220.7 214.4,222.1 215.2,223.5 216.1,224.8 216.9,226.2 217.7,227.5 218.5,228.9 219.3,230.2 220.1,231.5 220.9,232.8 221.8,234.1 222.6,235.4 223.4,236.6 224.2,237.8 225.0,239.1 225.8,240.3 226.6,241.5 227.4,242.7 228.2,243.8 229.1,244.9 229.9,246.0 230.7,247.1 231.5,248.1 232.3,249.0 233.1,250.0 233.9,250.9 234.8,251.8 235.6,252.6 236.4,253.5 237.2,254.3 238.0,255.0 238.8,255.8 239.6,256.6 240.4,257.3 241.2,258.1 242.1,258.8 242.9,259.6 243.7,260.4 244.5,261.1 245.3,261.6" stroke-width="2.4"/><polyline points="101.5,284.0 102.3,283.5 103.1,282.3 103.9,280.1 104.8,276.2 105.6,272.0 106.4,267.5 107.2,263.1 108.0,259.0 108.8,254.9 109.6,250.9 110.4,246.8 111.2,242.8 112.1,239.0 112.9,235.3 113.7,230.1 114.5,224.1 115.3,217.6 116.1,211.5 116.9,207.0 117.8,203.3 118.6,201.5 119.4,199.7 120.2,198.1 121.0,196.5 121.8,194.9 122.6,193.9 123.4,193.2 124.2,192.4 125.1,191.7 125.9,191.0 126.7,190.9 127.5,190.9 128.3,191.0 129.1,191.2 129.9,191.4 130.8,191.4 131.6,191.3 132.4,191.1 133.2,190.8 134.0,190.5 134.8,190.3 135.6,189.9 136.4,189.7 137.2,189.7 138.1,189.7 138.9,189.6 139.7,189.6 140.5,189.6 141.3,189.5 142.1,189.1 142.9,188.9 143.8,188.8 144.6,188.6 145.4,188.4 146.2,188.2 147.0,187.9 147.8,187.6 148.6,187.3 149.4,187.1 150.2,186.6 151.1,186.0 151.9,185.4 152.7,184.7 153.5,184.0 154.3,183.3 155.1,182.6 155.9,181.8 156.8,181.0 157.6,180.5 158.4,179.9 159.2,179.3 160.0,178.8 160.8,178.1 161.6,177.5 162.4,176.9 163.2,176.3 164.1,175.7 164.9,175.1 165.7,174.4 166.5,174.0 167.3,173.6 168.1,173.1 168.9,172.7 169.8,172.2 170.6,171.3 171.4,170.2 172.2,169.0 173.0,167.9 173.8,167.2 174.6,166.5 175.4,165.9 176.2,165.6 177.1,166.1 177.9,166.4 178.7,166.9 179.5,167.5 180.3,168.1 181.1,168.6 181.9,169.2 182.8,168.7 183.6,168.2 184.4,167.5 185.2,167.3 186.0,167.0 186.8,167.4 187.6,168.3 188.4,169.3 189.2,171.3 190.1,173.3 190.9,174.5 191.7,175.8 192.5,176.9 193.3,178.0 194.1,179.1 194.9,180.0 195.8,180.9 196.6,182.0 197.4,183.1 198.2,184.4 199.0,186.1 199.8,187.8 200.6,190.2 201.4,192.8 202.2,195.5 203.1,198.0 203.9,200.5 204.7,202.7 205.5,204.9 206.3,207.1 207.1,209.2 207.9,210.6 208.8,211.9 209.6,213.3 210.4,214.7 211.2,216.0 212.0,217.4 212.8,218.7 213.6,220.1 214.4,221.4 215.2,222.8 216.1,224.1 216.9,225.5 217.7,226.9 218.5,228.2 219.3,229.5 220.1,230.9 220.9,232.2 221.8,233.5 222.6,234.8 223.4,236.0 224.2,237.2 225.0,238.4 225.8,239.7 226.6,240.9 227.4,242.1 228.2,243.2 229.1,244.4 229.9,245.5 230.7,246.6 231.5,247.6 232.3,248.6 233.1,249.5 233.9,250.4 234.8,251.3 235.6,252.2 236.4,253.1 237.2,253.9 238.0,254.7 238.8,255.5 239.6,256.3 240.4,257.1 241.2,257.8 242.1,258.6 242.9,259.4 243.7,260.2 244.5,260.9 245.3,261.4" stroke-width="2.4"/><polyline points="101.5,284.0 102.3,283.3 103.1,282.2 103.9,279.7 104.8,275.7 105.6,271.4 106.4,267.0 107.2,262.6 108.0,258.5 108.8,254.4 109.6,250.4 110.4,246.3 111.2,242.3 112.1,238.5 112.9,234.7 113.7,229.1 114.5,223.1 115.3,216.4 116.1,210.0 116.9,205.5 117.8,201.7 118.6,199.7 119.4,197.7 120.2,195.9 121.0,194.1 121.8,192.2 122.6,191.2 123.4,190.4 124.2,189.7 125.1,188.9 125.9,188.2 126.7,188.1 127.5,188.1 128.3,188.2 129.1,188.3 129.9,188.5 130.8,188.7 131.6,188.7 132.4,188.5 133.2,188.2 134.0,188.0 134.8,187.8 135.6,187.5 136.4,187.5 137.2,187.5 138.1,187.6 138.9,187.7 139.7,187.8 140.5,187.8 141.3,187.8 142.1,187.6 142.9,187.3 143.8,187.1 144.6,186.9 145.4,186.6 146.2,186.3 147.0,185.8 147.8,185.4 148.6,184.9 149.4,184.3 150.2,183.8 151.1,183.1 151.9,182.5 152.7,181.8 153.5,181.2 154.3,180.5 155.1,179.9 155.9,179.2 156.8,178.8 157.6,178.4 158.4,178.0 159.2,177.6 160.0,177.1 160.8,176.6 161.6,176.0 162.4,175.5 163.2,174.9 164.1,174.3 164.9,173.7 165.7,173.1 166.5,172.7 167.3,172.4 168.1,172.0 168.9,171.6 169.8,171.3 170.6,170.4 171.4,169.3 172.2,168.3 173.0,167.1 173.8,166.6 174.6,166.0 175.4,165.4 176.2,165.2 177.1,165.6 177.9,166.0 178.7,166.3 179.5,166.8 180.3,167.3 181.1,167.8 181.9,168.3 182.8,167.5 183.6,166.7 184.4,165.8 185.2,165.3 186.0,165.0 186.8,165.2 187.6,166.1 188.4,167.0 189.2,169.1 190.1,171.3 190.9,172.6 191.7,173.8 192.5,175.1 193.3,176.2 194.1,177.3 194.9,178.4 195.8,179.4 196.6,180.6 197.4,181.8 198.2,183.1 199.0,184.7 199.8,186.2 200.6,188.7 201.4,191.3 202.2,194.0 203.1,196.6 203.9,199.1 204.7,201.5 205.5,203.9 206.3,206.2 207.1,208.5 207.9,209.8 208.8,211.2 209.6,212.5 210.4,213.9 211.2,215.2 212.0,216.6 212.8,218.0 213.6,219.3 214.4,220.7 215.2,222.0 216.1,223.4 216.9,224.7 217.7,226.1 218.5,227.4 219.3,228.8 220.1,230.1 220.9,231.5 221.8,232.8 222.6,234.1 223.4,235.3 224.2,236.5 225.0,237.7 225.8,239.0 226.6,240.2 227.4,241.4 228.2,242.6 229.1,243.8 229.9,244.9 230.7,246.0 231.5,247.0 232.3,248.0 233.1,249.0 233.9,249.9 234.8,250.9 235.6,251.8 236.4,252.7 237.2,253.6 238.0,254.4 238.8,255.2 239.6,255.9 240.4,256.7 241.2,257.5 242.1,258.3 242.9,259.1 243.7,259.9 244.5,260.7 245.3,261.2" stroke-width="2.4"/><polyline points="101.5,284.0 102.3,283.2 103.1,282.1 103.9,279.3 104.8,275.2 105.6,270.9 106.4,266.4 107.2,262.1 108.0,258.0 108.8,253.9 109.6,249.9 110.4,245.8 111.2,241.8 112.1,238.0 112.9,234.1 113.7,228.2 114.5,222.0 115.3,215.0 116.1,208.4 116.9,203.9 117.8,200.2 118.6,198.1 119.4,196.1 120.2,194.3 121.0,192.6 121.8,190.8 122.6,190.0 123.4,189.3 124.2,188.7 125.1,188.0 125.9,187.2 126.7,187.1 127.5,187.0 128.3,186.9 129.1,186.9 129.9,186.8 130.8,186.8 131.6,186.5 132.4,186.2 133.2,186.1 134.0,185.9 134.8,185.8 135.6,185.7 136.4,185.8 137.2,186.0 138.1,186.2 138.9,186.3 139.7,186.3 140.5,186.2 141.3,186.0 142.1,185.5 142.9,185.1 143.8,184.7 144.6,184.4 145.4,184.3 146.2,184.1 147.0,183.8 147.8,183.5 148.6,183.3 149.4,182.9 150.2,182.5 151.1,181.9 151.9,181.3 152.7,180.6 153.5,179.9 154.3,179.3 155.1,178.5 155.9,177.7 156.8,177.1 157.6,176.7 158.4,176.2 159.2,175.8 160.0,175.3 160.8,174.8 161.6,174.2 162.4,173.7 163.2,173.2 164.1,172.6 164.9,172.0 165.7,171.4 166.5,170.9 167.3,170.4 168.1,170.0 168.9,169.6 169.8,169.3 170.6,168.4 171.4,167.2 172.2,166.1 173.0,165.0 173.8,164.5 174.6,164.0 175.4,163.5 176.2,163.2 177.1,163.6 177.9,164.0 178.7,164.4 179.5,165.0 180.3,165.7 181.1,166.4 181.9,167.1 182.8,166.3 183.6,165.5 184.4,164.7 185.2,164.3 186.0,163.9 186.8,164.0 187.6,164.7 188.4,165.5 189.2,167.6 190.1,169.7 190.9,170.9 191.7,172.0 192.5,173.2 193.3,174.4 194.1,175.6 194.9,176.8 195.8,177.9 196.6,179.2 197.4,180.6 198.2,182.0 199.0,183.3 199.8,184.7 200.6,187.1 201.4,189.8 202.2,192.5 203.1,195.2 203.9,197.7 204.7,200.3 205.5,202.8 206.3,205.4 207.1,207.7 207.9,209.1 208.8,210.4 209.6,211.8 210.4,213.1 211.2,214.5 212.0,215.8 212.8,217.2 213.6,218.5 214.4,219.9 215.2,221.2 216.1,222.6 216.9,224.0 217.7,225.3 218.5,226.7 219.3,228.0 220.1,229.4 220.9,230.7 221.8,232.1 222.6,233.3 223.4,234.6 224.2,235.8 225.0,237.0 225.8,238.2 226.6,239.5 227.4,240.7 228.2,241.9 229.1,243.1 229.9,244.4 230.7,245.5 231.5,246.5 232.3,247.4 233.1,248.4 233.9,249.4 234.8,250.4 235.6,251.4 236.4,252.3 237.2,253.2 238.0,254.0 238.8,254.8 239.6,255.6 240.4,256.4 241.2,257.2 242.1,258.1 242.9,258.9 243.7,259.7 244.5,260.5 245.3,261.0" stroke-width="2.4"/><polyline points="147.5,192.0 148.5,10.0 149.5,192.0" stroke-width="2.3"/><polyline points="156.7,186.0 157.5,87.0 158.3,186.0" stroke-width="1.6"/><polygon points="48.0,83.8 49.7,83.8 50.5,284.0 48.0,284.0" fill="#fff" stroke="#fff" stroke-width="0.6"/><polyline points="243.0,259.5 246.0,263.5" stroke-width="4.2"/><polygon points="245.5,264.0 245.9,215.0 246.4,186.0 247.6,181.3 248.7,186.0 249.3,205.0 249.9,208.0 250.5,208.0 251.1,204.0 252.0,201.3 252.9,204.0 253.4,210.0 254.1,210.5 254.8,201.0 256.3,196.5 257.5,191.8 258.6,196.5 259.7,203.0 260.4,206.5 261.0,206.0 261.6,202.0 262.4,200.0 263.2,202.0 263.8,228.0 264.3,268.0 264.8,273.0 263.0,270.0 261.0,266.0 256.0,261.5 252.0,260.5 248.0,259.0 245.5,264.5" fill="#fff" stroke="#fff" stroke-width="0.6"/><polygon points="264.0,262.0 265.4,258.0 266.1,249.0 267.2,245.8 268.3,249.0 269.0,262.0 270.4,275.0 271.5,277.5 271.5,280.3 268.5,279.5 266.0,274.5 264.0,273.5" fill="#fff" stroke="#fff" stroke-width="0.6"/><polygon points="273.6,279.0 274.6,277.0 275.8,262.0 276.0,240.0 276.3,192.0 277.0,190.5 278.9,190.5 279.5,192.0 279.8,240.0 280.3,262.0 281.4,277.5 282.4,279.5 282.4,281.5 273.6,281.0" fill="#fff" stroke="#fff" stroke-width="0.6"/><polyline points="270.5,278.8 285.0,280.2 300.0,281.8 316.0,283.2" stroke-width="3"/></g><clipPath id="c2"><rect x="328" y="28" width="267" height="368"/></clipPath><g clip-path="url(#c2)" fill="none" stroke="#fff" stroke-linejoin="round" stroke-linecap="butt"><polyline points="329.0,283.8 382.5,283.8" stroke-width="3.4"/><polyline points="381.5,284.0 382.3,284.0 383.1,283.0 383.9,282.1 384.8,278.5 385.6,274.7 386.4,270.2 387.2,265.7 388.0,261.5 388.8,257.4 389.6,253.4 390.4,249.3 391.2,245.3 392.1,241.8 392.9,238.5 393.7,234.8 394.5,229.5 395.3,224.2 396.1,219.5 396.9,215.0 397.8,211.4 398.6,210.2 399.4,208.8 400.2,207.9 401.0,207.0 401.8,206.1 402.6,205.5 403.4,205.0 404.2,204.5 405.1,204.0 405.9,203.5 406.7,203.4 407.5,203.3 408.3,203.1 409.1,202.9 409.9,202.8 410.8,202.6 411.6,202.3 412.4,202.1 413.2,201.8 414.0,201.6 414.8,201.5 415.6,201.4 416.4,201.2 417.2,201.0 418.1,200.8 418.9,200.7 419.7,200.6 420.5,200.4 421.3,200.2 422.1,199.8 422.9,199.3 423.8,198.9 424.6,198.5 425.4,198.1 426.2,197.6 427.0,197.0 427.8,196.5 428.6,196.1 429.4,195.7 430.2,195.2 431.1,194.7 431.9,194.2 432.7,193.7 433.5,193.2 434.3,192.6 435.1,192.0 435.9,191.4 436.8,190.7 437.6,190.0 438.4,189.3 439.2,188.7 440.0,188.1 440.8,187.2 441.6,186.4 442.4,185.7 443.2,184.9 444.1,184.2 444.9,183.3 445.7,182.5 446.5,181.9 447.3,181.4 448.1,180.9 448.9,180.3 449.8,179.6 450.6,178.9 451.4,178.1 452.2,177.5 453.0,176.9 453.8,176.4 454.6,175.9 455.4,175.5 456.2,175.5 457.1,176.2 457.9,176.8 458.7,177.4 459.5,177.9 460.3,178.1 461.1,177.8 461.9,177.5 462.8,177.3 463.6,176.8 464.4,176.2 465.2,175.6 466.0,175.1 466.8,175.8 467.6,176.5 468.4,177.6 469.2,179.0 470.1,180.4 470.9,181.8 471.7,183.2 472.5,184.6 473.3,185.9 474.1,187.1 474.9,187.8 475.8,188.4 476.6,189.1 477.4,189.7 478.2,190.8 479.0,193.3 479.8,195.9 480.6,198.5 481.4,200.8 482.2,203.1 483.1,205.4 483.9,207.7 484.7,209.0 485.5,210.4 486.3,211.8 487.1,213.1 487.9,214.5 488.8,215.9 489.6,217.2 490.4,218.6 491.2,220.0 492.0,221.3 492.8,222.7 493.6,224.0 494.4,225.4 495.2,226.8 496.1,228.1 496.9,229.5 497.7,230.8 498.5,232.2 499.3,233.4 500.1,234.7 500.9,235.9 501.8,237.1 502.6,238.4 503.4,239.6 504.2,240.9 505.0,242.1 505.8,243.3 506.6,244.6 507.4,245.6 508.2,246.6 509.1,247.6 509.9,248.5 510.7,249.5 511.5,250.5 512.3,251.4 513.1,252.4 513.9,253.1 514.8,253.8 515.6,254.5 516.4,255.2 517.2,255.9 518.0,256.6 518.8,257.3 519.6,257.9 520.4,258.6 521.2,259.3 522.1,260.0 522.9,260.7 523.7,261.4 524.5,262.1 525.3,262.5" stroke-width="2.4"/><polyline points="381.5,284.0 382.3,283.9 383.1,282.9 383.9,281.8 384.8,278.2 385.6,274.3 386.4,269.9 387.2,265.4 388.0,261.2 388.8,257.1 389.6,253.1 390.4,249.0 391.2,244.9 392.1,241.4 392.9,238.1 393.7,234.2 394.5,228.8 395.3,223.4 396.1,218.5 396.9,214.1 397.8,210.6 398.6,209.3 399.4,208.1 400.2,207.2 401.0,206.3 401.8,205.6 402.6,205.0 403.4,204.4 404.2,203.9 405.1,203.2 405.9,202.6 406.7,202.3 407.5,202.1 408.3,201.9 409.1,201.6 409.9,201.4 410.8,201.2 411.6,201.0 412.4,200.9 413.2,200.6 414.0,200.4 414.8,200.1 415.6,199.9 416.4,199.6 417.2,199.3 418.1,199.0 418.9,198.7 419.7,198.4 420.5,198.2 421.3,198.0 422.1,197.7 422.9,197.4 423.8,197.0 424.6,196.7 425.4,196.4 426.2,196.1 427.0,195.8 427.8,195.4 428.6,195.1 429.4,194.7 430.2,194.3 431.1,194.0 431.9,193.6 432.7,193.2 433.5,192.7 434.3,192.2 435.1,191.7 435.9,191.0 436.8,190.3 437.6,189.4 438.4,188.6 439.2,187.8 440.0,187.0 440.8,186.0 441.6,185.1 442.4,184.2 443.2,183.4 444.1,182.6 444.9,181.8 445.7,181.0 446.5,180.5 447.3,180.2 448.1,179.8 448.9,179.3 449.8,178.9 450.6,178.3 451.4,177.6 452.2,177.0 453.0,176.3 453.8,175.8 454.6,175.3 455.4,174.8 456.2,174.5 457.1,175.1 457.9,175.5 458.7,176.0 459.5,176.6 460.3,177.0 461.1,177.0 461.9,177.0 462.8,176.9 463.6,176.6 464.4,176.2 465.2,175.8 466.0,175.3 466.8,175.9 467.6,176.4 468.4,177.3 469.2,178.6 470.1,179.8 470.9,181.0 471.7,182.1 472.5,183.3 473.3,184.6 474.1,185.8 474.9,186.5 475.8,187.2 476.6,187.9 477.4,188.7 478.2,189.8 479.0,192.4 479.8,194.9 480.6,197.5 481.4,199.8 482.2,202.2 483.1,204.5 483.9,206.8 484.7,208.3 485.5,209.7 486.3,211.2 487.1,212.7 487.9,214.0 488.8,215.4 489.6,216.8 490.4,218.1 491.2,219.5 492.0,220.8 492.8,222.2 493.6,223.5 494.4,224.9 495.2,226.3 496.1,227.6 496.9,229.0 497.7,230.3 498.5,231.7 499.3,232.9 500.1,234.2 500.9,235.4 501.8,236.7 502.6,237.9 503.4,239.2 504.2,240.4 505.0,241.6 505.8,242.9 506.6,244.1 507.4,245.2 508.2,246.2 509.1,247.2 509.9,248.2 510.7,249.1 511.5,250.1 512.3,251.1 513.1,252.1 513.9,252.8 514.8,253.5 515.6,254.2 516.4,254.9 517.2,255.6 518.0,256.3 518.8,257.0 519.6,257.7 520.4,258.4 521.2,259.1 522.1,259.8 522.9,260.5 523.7,261.2 524.5,261.9 525.3,262.4" stroke-width="2.4"/><polyline points="381.5,284.0 382.3,283.9 383.1,282.9 383.9,281.6 384.8,277.9 385.6,274.0 386.4,269.5 387.2,265.1 388.0,260.9 388.8,256.8 389.6,252.7 390.4,248.7 391.2,244.6 392.1,241.1 392.9,237.7 393.7,233.6 394.5,228.1 395.3,222.5 396.1,217.5 396.9,213.0 397.8,209.5 398.6,208.1 399.4,206.7 400.2,205.5 401.0,204.4 401.8,203.3 402.6,202.6 403.4,201.9 404.2,201.3 405.1,200.7 405.9,200.1 406.7,199.9 407.5,199.8 408.3,199.7 409.1,199.6 409.9,199.4 410.8,199.3 411.6,199.2 412.4,199.0 413.2,198.8 414.0,198.6 414.8,198.4 415.6,198.2 416.4,198.1 417.2,197.9 418.1,197.6 418.9,197.4 419.7,197.1 420.5,196.9 421.3,196.6 422.1,196.2 422.9,195.9 423.8,195.6 424.6,195.3 425.4,195.0 426.2,194.7 427.0,194.4 427.8,194.0 428.6,193.6 429.4,193.2 430.2,192.8 431.1,192.3 431.9,191.8 432.7,191.3 433.5,190.8 434.3,190.3 435.1,189.9 435.9,189.4 436.8,189.0 437.6,188.5 438.4,188.0 439.2,187.4 440.0,186.9 440.8,186.1 441.6,185.3 442.4,184.4 443.2,183.5 444.1,182.6 444.9,181.7 445.7,180.7 446.5,180.1 447.3,179.6 448.1,179.1 448.9,178.6 449.8,178.0 450.6,177.3 451.4,176.6 452.2,175.8 453.0,175.0 453.8,174.5 454.6,173.9 455.4,173.3 456.2,173.1 457.1,173.6 457.9,174.2 458.7,174.7 459.5,175.3 460.3,175.7 461.1,175.8 461.9,175.9 462.8,175.8 463.6,175.4 464.4,174.9 465.2,174.5 466.0,174.0 466.8,174.6 467.6,175.2 468.4,176.1 469.2,177.5 470.1,178.8 470.9,180.0 471.7,181.2 472.5,182.5 473.3,183.7 474.1,184.9 474.9,185.6 475.8,186.4 476.6,187.2 477.4,188.0 478.2,189.1 479.0,191.5 479.8,193.9 480.6,196.5 481.4,198.8 482.2,201.2 483.1,203.6 483.9,205.9 484.7,207.5 485.5,209.0 486.3,210.6 487.1,212.2 487.9,213.5 488.8,214.9 489.6,216.3 490.4,217.6 491.2,219.0 492.0,220.3 492.8,221.7 493.6,223.1 494.4,224.4 495.2,225.8 496.1,227.1 496.9,228.5 497.7,229.8 498.5,231.2 499.3,232.5 500.1,233.7 500.9,235.0 501.8,236.2 502.6,237.5 503.4,238.7 504.2,240.0 505.0,241.2 505.8,242.4 506.6,243.7 507.4,244.7 508.2,245.8 509.1,246.8 509.9,247.8 510.7,248.8 511.5,249.8 512.3,250.7 513.1,251.7 513.9,252.5 514.8,253.2 515.6,253.9 516.4,254.7 517.2,255.4 518.0,256.1 518.8,256.8 519.6,257.5 520.4,258.2 521.2,258.9 522.1,259.7 522.9,260.4 523.7,261.1 524.5,261.8 525.3,262.2" stroke-width="2.4"/><polyline points="381.5,284.0 382.3,283.8 383.1,282.8 383.9,281.3 384.8,277.6 385.6,273.6 386.4,269.2 387.2,264.7 388.0,260.6 388.8,256.5 389.6,252.4 390.4,248.4 391.2,244.3 392.1,240.7 392.9,237.3 393.7,233.0 394.5,227.5 395.3,221.9 396.1,216.7 396.9,212.3 397.8,208.7 398.6,207.2 399.4,205.7 400.2,204.6 401.0,203.3 401.8,202.1 402.6,201.3 403.4,200.6 404.2,200.0 405.1,199.5 405.9,199.1 406.7,199.0 407.5,198.9 408.3,198.8 409.1,198.7 409.9,198.6 410.8,198.6 411.6,198.5 412.4,198.2 413.2,197.9 414.0,197.6 414.8,197.3 415.6,197.0 416.4,196.8 417.2,196.5 418.1,196.0 418.9,195.7 419.7,195.4 420.5,195.1 421.3,194.7 422.1,194.3 422.9,194.0 423.8,193.7 424.6,193.4 425.4,193.2 426.2,193.0 427.0,192.6 427.8,192.3 428.6,192.0 429.4,191.6 430.2,191.2 431.1,190.6 431.9,190.0 432.7,189.5 433.5,189.0 434.3,188.5 435.1,187.9 435.9,187.4 436.8,186.8 437.6,186.3 438.4,185.7 439.2,185.2 440.0,184.7 440.8,183.9 441.6,183.2 442.4,182.5 443.2,181.7 444.1,181.0 444.9,180.3 445.7,179.5 446.5,179.0 447.3,178.5 448.1,178.1 448.9,177.7 449.8,177.3 450.6,176.6 451.4,175.7 452.2,174.8 453.0,174.0 453.8,173.5 454.6,173.1 455.4,172.6 456.2,172.3 457.1,172.9 457.9,173.4 458.7,174.0 459.5,174.7 460.3,175.2 461.1,175.3 461.9,175.4 462.8,175.2 463.6,174.7 464.4,174.1 465.2,173.6 466.0,173.0 466.8,173.4 467.6,173.9 468.4,174.7 469.2,176.2 470.1,177.7 470.9,178.9 471.7,180.2 472.5,181.6 473.3,182.9 474.1,184.2 474.9,185.1 475.8,185.9 476.6,186.7 477.4,187.5 478.2,188.6 479.0,190.7 479.8,192.9 480.6,195.4 481.4,197.9 482.2,200.3 483.1,202.7 483.9,205.0 484.7,206.7 485.5,208.4 486.3,210.0 487.1,211.7 487.9,213.0 488.8,214.4 489.6,215.8 490.4,217.1 491.2,218.5 492.0,219.9 492.8,221.2 493.6,222.6 494.4,223.9 495.2,225.3 496.1,226.6 496.9,228.0 497.7,229.3 498.5,230.7 499.3,232.0 500.1,233.2 500.9,234.5 501.8,235.8 502.6,237.0 503.4,238.3 504.2,239.5 505.0,240.7 505.8,242.0 506.6,243.2 507.4,244.3 508.2,245.3 509.1,246.4 509.9,247.4 510.7,248.4 511.5,249.4 512.3,250.4 513.1,251.3 513.9,252.1 514.8,252.9 515.6,253.7 516.4,254.4 517.2,255.2 518.0,255.9 518.8,256.6 519.6,257.3 520.4,258.0 521.2,258.8 522.1,259.5 522.9,260.2 523.7,260.9 524.5,261.7 525.3,262.1" stroke-width="2.4"/><polyline points="381.5,284.0 382.3,283.7 383.1,282.7 383.9,281.1 384.8,277.3 385.6,273.3 386.4,268.8 387.2,264.4 388.0,260.2 388.8,256.2 389.6,252.1 390.4,248.1 391.2,244.0 392.1,240.4 392.9,236.9 393.7,232.4 394.5,226.8 395.3,220.9 396.1,215.4 396.9,210.9 397.8,207.2 398.6,205.5 399.4,203.9 400.2,202.6 401.0,201.4 401.8,200.1 402.6,199.3 403.4,198.8 404.2,198.2 405.1,197.7 405.9,197.1 406.7,197.1 407.5,197.0 408.3,197.0 409.1,197.0 409.9,196.9 410.8,196.9 411.6,196.6 412.4,196.4 413.2,196.1 414.0,195.8 414.8,195.6 415.6,195.2 416.4,195.0 417.2,194.9 418.1,194.7 418.9,194.5 419.7,194.3 420.5,194.1 421.3,193.9 422.1,193.5 422.9,193.2 423.8,192.8 424.6,192.5 425.4,192.2 426.2,191.9 427.0,191.6 427.8,191.2 428.6,190.9 429.4,190.6 430.2,190.3 431.1,189.9 431.9,189.5 432.7,189.1 433.5,188.7 434.3,188.2 435.1,187.7 435.9,187.4 436.8,186.8 437.6,186.3 438.4,185.7 439.2,185.1 440.0,184.4 440.8,183.6 441.6,182.6 442.4,181.7 443.2,180.7 444.1,179.8 444.9,178.9 445.7,178.2 446.5,177.6 447.3,177.2 448.1,176.8 448.9,176.5 449.8,176.3 450.6,175.7 451.4,175.0 452.2,174.2 453.0,173.3 453.8,172.8 454.6,172.3 455.4,171.7 456.2,171.5 457.1,171.9 457.9,172.4 458.7,172.8 459.5,173.4 460.3,173.9 461.1,174.0 461.9,174.1 462.8,173.8 463.6,173.3 464.4,172.6 465.2,172.1 466.0,171.6 466.8,171.9 467.6,172.5 468.4,173.4 469.2,175.0 470.1,176.6 470.9,177.7 471.7,178.9 472.5,180.2 473.3,181.4 474.1,182.6 474.9,183.5 475.8,184.4 476.6,185.3 477.4,186.3 478.2,187.5 479.0,189.7 479.8,191.9 480.6,194.4 481.4,196.9 482.2,199.3 483.1,201.8 483.9,204.1 484.7,205.9 485.5,207.7 486.3,209.5 487.1,211.2 487.9,212.6 488.8,213.9 489.6,215.3 490.4,216.6 491.2,218.0 492.0,219.4 492.8,220.7 493.6,222.1 494.4,223.4 495.2,224.8 496.1,226.1 496.9,227.5 497.7,228.8 498.5,230.2 499.3,231.5 500.1,232.8 500.9,234.0 501.8,235.3 502.6,236.6 503.4,237.8 504.2,239.0 505.0,240.3 505.8,241.5 506.6,242.7 507.4,243.9 508.2,244.9 509.1,246.0 509.9,247.0 510.7,248.1 511.5,249.0 512.3,250.0 513.1,251.0 513.9,251.8 514.8,252.6 515.6,253.4 516.4,254.2 517.2,254.9 518.0,255.6 518.8,256.4 519.6,257.1 520.4,257.8 521.2,258.6 522.1,259.3 522.9,260.0 523.7,260.8 524.5,261.5 525.3,262.0" stroke-width="2.4"/><polyline points="381.5,284.0 382.3,283.7 383.1,282.6 383.9,280.8 384.8,277.0 385.6,273.0 386.4,268.5 387.2,264.1 388.0,259.9 388.8,255.9 389.6,251.8 390.4,247.7 391.2,243.7 392.1,240.0 392.9,236.5 393.7,231.8 394.5,226.2 395.3,220.1 396.1,214.6 396.9,210.0 397.8,206.3 398.6,204.6 399.4,202.9 400.2,201.5 401.0,200.3 401.8,199.0 402.6,198.4 403.4,198.0 404.2,197.6 405.1,197.2 405.9,196.8 406.7,196.7 407.5,196.7 408.3,196.5 409.1,196.3 409.9,196.1 410.8,195.8 411.6,195.3 412.4,194.9 413.2,194.5 414.0,194.2 414.8,193.8 415.6,193.7 416.4,193.6 417.2,193.7 418.1,193.8 418.9,193.8 419.7,193.8 420.5,193.8 421.3,193.7 422.1,193.5 422.9,193.3 423.8,192.9 424.6,192.6 425.4,192.3 426.2,192.0 427.0,191.5 427.8,191.0 428.6,190.5 429.4,190.1 430.2,189.5 431.1,189.0 431.9,188.4 432.7,187.7 433.5,187.1 434.3,186.5 435.1,185.9 435.9,185.4 436.8,184.8 437.6,184.2 438.4,183.6 439.2,183.0 440.0,182.4 440.8,181.6 441.6,180.8 442.4,180.0 443.2,179.2 444.1,178.3 444.9,177.6 445.7,176.9 446.5,176.5 447.3,176.1 448.1,175.7 448.9,175.4 449.8,175.1 450.6,174.4 451.4,173.6 452.2,172.7 453.0,171.8 453.8,171.3 454.6,170.8 455.4,170.3 456.2,170.1 457.1,170.6 457.9,171.0 458.7,171.5 459.5,172.1 460.3,172.6 461.1,172.8 461.9,172.9 462.8,172.4 463.6,171.8 464.4,171.2 465.2,170.7 466.0,170.4 466.8,170.9 467.6,171.6 468.4,172.5 469.2,174.3 470.1,176.1 470.9,177.4 471.7,178.6 472.5,179.9 473.3,181.1 474.1,182.2 474.9,183.0 475.8,183.9 476.6,184.8 477.4,185.7 478.2,186.9 479.0,188.9 479.8,190.9 480.6,193.4 481.4,195.9 482.2,198.4 483.1,200.9 483.9,203.2 484.7,205.1 485.5,207.0 486.3,208.9 487.1,210.7 487.9,212.1 488.8,213.4 489.6,214.8 490.4,216.1 491.2,217.5 492.0,218.9 492.8,220.2 493.6,221.6 494.4,222.9 495.2,224.3 496.1,225.6 496.9,227.0 497.7,228.3 498.5,229.7 499.3,231.0 500.1,232.3 500.9,233.6 501.8,234.9 502.6,236.1 503.4,237.4 504.2,238.6 505.0,239.8 505.8,241.0 506.6,242.3 507.4,243.4 508.2,244.5 509.1,245.6 509.9,246.7 510.7,247.7 511.5,248.7 512.3,249.6 513.1,250.6 513.9,251.4 514.8,252.3 515.6,253.1 516.4,253.9 517.2,254.7 518.0,255.4 518.8,256.2 519.6,256.9 520.4,257.6 521.2,258.4 522.1,259.1 522.9,259.9 523.7,260.6 524.5,261.4 525.3,261.8" stroke-width="2.4"/><polyline points="381.5,284.0 382.3,283.4 383.1,282.3 383.9,279.9 384.8,276.0 385.6,271.7 386.4,267.3 387.2,262.9 388.0,258.8 388.8,254.7 389.6,250.6 390.4,246.6 391.2,242.6 392.1,238.8 392.9,235.1 393.7,229.7 394.5,223.7 395.3,217.0 396.1,210.9 396.9,206.3 397.8,202.6 398.6,200.6 399.4,198.7 400.2,197.0 401.0,195.4 401.8,193.7 402.6,192.7 403.4,192.0 404.2,191.3 405.1,190.7 405.9,190.1 406.7,190.0 407.5,190.2 408.3,190.3 409.1,190.4 409.9,190.6 410.8,190.7 411.6,190.7 412.4,190.4 413.2,190.1 414.0,189.9 414.8,189.6 415.6,189.3 416.4,189.3 417.2,189.3 418.1,189.4 418.9,189.3 419.7,189.3 420.5,189.3 421.3,189.2 422.1,188.9 422.9,188.6 423.8,188.4 424.6,188.1 425.4,187.8 426.2,187.6 427.0,187.2 427.8,186.7 428.6,186.3 429.4,185.8 430.2,185.2 431.1,184.5 431.9,183.8 432.7,183.1 433.5,182.5 434.3,181.8 435.1,181.1 435.9,180.4 436.8,179.9 437.6,179.4 438.4,179.0 439.2,178.6 440.0,178.2 440.8,177.7 441.6,177.1 442.4,176.5 443.2,175.9 444.1,175.3 444.9,174.7 445.7,174.0 446.5,173.3 447.3,172.6 448.1,172.0 448.9,171.5 449.8,171.0 450.6,170.0 451.4,168.8 452.2,167.6 453.0,166.4 453.8,165.7 454.6,165.0 455.4,164.4 456.2,164.0 457.1,164.2 457.9,164.4 458.7,164.7 459.5,165.1 460.3,165.5 461.1,165.9 461.9,166.4 462.8,165.7 463.6,164.9 464.4,164.2 465.2,163.8 466.0,163.5 466.8,163.8 467.6,164.7 468.4,165.5 469.2,167.6 470.1,169.8 470.9,171.2 471.7,172.6 472.5,174.1 473.3,175.6 474.1,177.0 474.9,178.1 475.8,179.4 476.6,180.6 477.4,181.9 478.2,183.3 479.0,185.1 479.8,186.8 480.6,189.3 481.4,192.0 482.2,194.6 483.1,197.3 483.9,199.8 484.7,202.1 485.5,204.4 486.3,206.7 487.1,208.9 487.9,210.2 488.8,211.6 489.6,213.0 490.4,214.3 491.2,215.7 492.0,217.0 492.8,218.4 493.6,219.7 494.4,221.1 495.2,222.5 496.1,223.8 496.9,225.2 497.7,226.5 498.5,227.9 499.3,229.2 500.1,230.5 500.9,231.9 501.8,233.2 502.6,234.5 503.4,235.7 504.2,236.9 505.0,238.1 505.8,239.4 506.6,240.6 507.4,241.8 508.2,242.9 509.1,244.1 509.9,245.3 510.7,246.4 511.5,247.3 512.3,248.3 513.1,249.3 513.9,250.2 514.8,251.1 515.6,252.1 516.4,253.0 517.2,253.8 518.0,254.6 518.8,255.4 519.6,256.1 520.4,256.9 521.2,257.7 522.1,258.5 522.9,259.3 523.7,260.1 524.5,260.8 525.3,261.3" stroke-width="2.4"/><polyline points="381.5,284.0 382.3,283.3 383.1,282.2 383.9,279.7 384.8,275.7 385.6,271.4 386.4,267.0 387.2,262.6 388.0,258.5 388.8,254.4 389.6,250.4 390.4,246.3 391.2,242.3 392.1,238.5 392.9,234.7 393.7,229.1 394.5,223.1 395.3,216.3 396.1,210.0 396.9,205.4 397.8,201.6 398.6,199.6 399.4,197.6 400.2,195.7 401.0,193.9 401.8,192.0 402.6,191.0 403.4,190.2 404.2,189.5 405.1,188.8 405.9,188.2 406.7,188.3 407.5,188.5 408.3,188.6 409.1,188.8 409.9,189.1 410.8,189.3 411.6,189.2 412.4,189.0 413.2,188.8 414.0,188.5 414.8,188.2 415.6,188.0 416.4,187.9 417.2,188.0 418.1,188.1 418.9,188.2 419.7,188.3 420.5,188.5 421.3,188.4 422.1,188.1 422.9,187.9 423.8,187.6 424.6,187.3 425.4,187.1 426.2,186.7 427.0,186.2 427.8,185.7 428.6,185.1 429.4,184.6 430.2,184.1 431.1,183.5 431.9,182.8 432.7,182.2 433.5,181.5 434.3,180.7 435.1,180.1 435.9,179.4 436.8,178.9 437.6,178.4 438.4,177.9 439.2,177.3 440.0,176.8 440.8,176.3 441.6,175.7 442.4,175.1 443.2,174.5 444.1,173.7 444.9,173.0 445.7,172.3 446.5,171.7 447.3,171.2 448.1,170.5 448.9,169.8 449.8,169.1 450.6,167.9 451.4,166.6 452.2,165.2 453.0,163.8 453.8,163.1 454.6,162.4 455.4,161.8 456.2,161.6 457.1,162.0 457.9,162.5 458.7,163.0 459.5,163.7 460.3,164.4 461.1,165.1 461.9,165.8 462.8,165.2 463.6,164.5 464.4,163.8 465.2,163.5 466.0,163.2 466.8,163.4 467.6,164.1 468.4,165.0 469.2,167.1 470.1,169.2 470.9,170.6 471.7,171.8 472.5,173.2 473.3,174.6 474.1,176.0 474.9,177.2 475.8,178.4 476.6,179.8 477.4,181.2 478.2,182.6 479.0,184.3 479.8,185.9 480.6,188.4 481.4,191.1 482.2,193.8 483.1,196.5 483.9,199.0 484.7,201.4 485.5,203.8 486.3,206.2 487.1,208.4 487.9,209.8 488.8,211.2 489.6,212.5 490.4,213.9 491.2,215.2 492.0,216.6 492.8,218.0 493.6,219.3 494.4,220.7 495.2,222.0 496.1,223.4 496.9,224.7 497.7,226.1 498.5,227.4 499.3,228.8 500.1,230.1 500.9,231.5 501.8,232.8 502.6,234.1 503.4,235.3 504.2,236.5 505.0,237.7 505.8,239.0 506.6,240.2 507.4,241.4 508.2,242.6 509.1,243.8 509.9,244.9 510.7,246.0 511.5,247.0 512.3,248.0 513.1,249.0 513.9,249.9 514.8,250.9 515.6,251.8 516.4,252.7 517.2,253.6 518.0,254.4 518.8,255.2 519.6,255.9 520.4,256.7 521.2,257.5 522.1,258.3 522.9,259.1 523.7,259.9 524.5,260.7 525.3,261.2" stroke-width="2.4"/><polyline points="381.5,284.0 382.3,283.3 383.1,282.1 383.9,279.5 384.8,275.5 385.6,271.2 386.4,266.7 387.2,262.3 388.0,258.2 388.8,254.2 389.6,250.1 390.4,246.1 391.2,242.1 392.1,238.2 392.9,234.4 393.7,228.7 394.5,222.5 395.3,215.7 396.1,209.2 396.9,204.6 397.8,200.8 398.6,198.8 399.4,196.8 400.2,194.9 401.0,193.0 401.8,191.2 402.6,190.3 403.4,189.6 404.2,188.9 405.1,188.3 405.9,187.7 406.7,187.7 407.5,187.9 408.3,188.1 409.1,188.2 409.9,188.4 410.8,188.6 411.6,188.5 412.4,188.3 413.2,188.0 414.0,187.8 414.8,187.5 415.6,187.3 416.4,187.2 417.2,187.3 418.1,187.4 418.9,187.5 419.7,187.5 420.5,187.5 421.3,187.4 422.1,187.0 422.9,186.7 423.8,186.3 424.6,186.0 425.4,185.7 426.2,185.3 427.0,184.8 427.8,184.3 428.6,183.8 429.4,183.2 430.2,182.7 431.1,182.1 431.9,181.4 432.7,180.7 433.5,180.1 434.3,179.6 435.1,179.0 435.9,178.4 436.8,177.9 437.6,177.5 438.4,177.0 439.2,176.5 440.0,176.1 440.8,175.4 441.6,174.7 442.4,174.0 443.2,173.3 444.1,172.6 444.9,172.0 445.7,171.3 446.5,170.7 447.3,170.3 448.1,169.8 448.9,169.3 449.8,168.9 450.6,167.8 451.4,166.5 452.2,165.2 453.0,163.8 453.8,163.1 454.6,162.3 455.4,161.6 456.2,161.3 457.1,161.6 457.9,161.9 458.7,162.3 459.5,162.9 460.3,163.5 461.1,164.1 461.9,164.8 462.8,164.3 463.6,163.6 464.4,162.9 465.2,162.6 466.0,162.4 466.8,162.7 467.6,163.7 468.4,164.6 469.2,166.8 470.1,169.0 470.9,170.3 471.7,171.6 472.5,172.8 473.3,174.1 474.1,175.4 474.9,176.6 475.8,177.8 476.6,179.2 477.4,180.6 478.2,182.1 479.0,183.6 479.8,185.1 480.6,187.6 481.4,190.3 482.2,193.1 483.1,195.8 483.9,198.3 484.7,200.8 485.5,203.3 486.3,205.7 487.1,208.0 487.9,209.4 488.8,210.8 489.6,212.1 490.4,213.5 491.2,214.9 492.0,216.2 492.8,217.6 493.6,218.9 494.4,220.3 495.2,221.6 496.1,223.0 496.9,224.3 497.7,225.7 498.5,227.1 499.3,228.4 500.1,229.7 500.9,231.1 501.8,232.4 502.6,233.7 503.4,234.9 504.2,236.1 505.0,237.4 505.8,238.6 506.6,239.8 507.4,241.0 508.2,242.2 509.1,243.4 509.9,244.7 510.7,245.8 511.5,246.7 512.3,247.7 513.1,248.7 513.9,249.7 514.8,250.6 515.6,251.6 516.4,252.5 517.2,253.4 518.0,254.2 518.8,255.0 519.6,255.8 520.4,256.6 521.2,257.4 522.1,258.2 522.9,259.0 523.7,259.8 524.5,260.6 525.3,261.1" stroke-width="2.4"/><polyline points="381.5,284.0 382.3,283.2 383.1,282.1 383.9,279.3 384.8,275.2 385.6,270.9 386.4,266.4 387.2,262.1 388.0,258.0 388.8,253.9 389.6,249.9 390.4,245.8 391.2,241.8 392.1,238.0 392.9,234.1 393.7,228.2 394.5,222.0 395.3,215.0 396.1,208.3 396.9,203.8 397.8,200.0 398.6,198.0 399.4,196.0 400.2,194.0 401.0,192.0 401.8,190.1 402.6,189.1 403.4,188.3 404.2,187.6 405.1,186.8 405.9,186.1 406.7,186.0 407.5,186.1 408.3,186.2 409.1,186.4 409.9,186.5 410.8,186.8 411.6,186.7 412.4,186.4 413.2,186.1 414.0,185.9 414.8,185.6 415.6,185.2 416.4,185.2 417.2,185.3 418.1,185.4 418.9,185.5 419.7,185.7 420.5,186.0 421.3,186.0 422.1,185.9 422.9,185.7 423.8,185.5 424.6,185.3 425.4,185.1 426.2,184.9 427.0,184.4 427.8,183.9 428.6,183.4 429.4,182.9 430.2,182.5 431.1,182.0 431.9,181.4 432.7,180.8 433.5,180.2 434.3,179.5 435.1,178.9 435.9,178.1 436.8,177.5 437.6,176.8 438.4,176.1 439.2,175.3 440.0,174.7 440.8,173.9 441.6,173.2 442.4,172.5 443.2,171.8 444.1,171.2 444.9,170.7 445.7,170.2 446.5,169.9 447.3,169.5 448.1,169.2 448.9,168.8 449.8,168.4 450.6,167.5 451.4,166.2 452.2,164.9 453.0,163.5 453.8,162.8 454.6,162.0 455.4,161.3 456.2,160.9 457.1,161.2 457.9,161.5 458.7,161.8 459.5,162.3 460.3,162.9 461.1,163.5 461.9,164.1 462.8,163.3 463.6,162.5 464.4,161.5 465.2,161.1 466.0,160.8 466.8,160.9 467.6,161.8 468.4,162.7 469.2,165.0 470.1,167.4 470.9,168.8 471.7,170.1 472.5,171.5 473.3,172.9 474.1,174.3 474.9,175.6 475.8,176.9 476.6,178.4 477.4,179.8 478.2,181.3 479.0,182.9 479.8,184.3 480.6,186.8 481.4,189.6 482.2,192.3 483.1,195.0 483.9,197.6 484.7,200.2 485.5,202.7 486.3,205.3 487.1,207.7 487.9,209.0 488.8,210.4 489.6,211.8 490.4,213.1 491.2,214.5 492.0,215.8 492.8,217.2 493.6,218.5 494.4,219.9 495.2,221.2 496.1,222.6 496.9,224.0 497.7,225.3 498.5,226.7 499.3,228.0 500.1,229.4 500.9,230.7 501.8,232.1 502.6,233.3 503.4,234.6 504.2,235.8 505.0,237.0 505.8,238.2 506.6,239.5 507.4,240.7 508.2,241.9 509.1,243.1 509.9,244.4 510.7,245.5 511.5,246.5 512.3,247.4 513.1,248.4 513.9,249.4 514.8,250.4 515.6,251.4 516.4,252.3 517.2,253.2 518.0,254.0 518.8,254.8 519.6,255.6 520.4,256.4 521.2,257.2 522.1,258.1 522.9,258.9 523.7,259.7 524.5,260.5 525.3,261.0" stroke-width="2.4"/><polyline points="428.0,190.0 428.8,51.5 429.6,190.0" stroke-width="2"/><polyline points="437.2,182.0 438.0,146.5 438.8,182.0" stroke-width="1.6"/><polyline points="329.4,10.0 329.4,284.0" stroke-width="3"/><polyline points="523.0,259.5 526.0,263.5" stroke-width="4.2"/><polygon points="525.4,264.0 525.7,210.0 526.2,174.0 527.5,168.3 528.7,174.0 529.3,183.0 530.1,185.0 530.9,176.0 532.1,164.5 533.3,176.0 533.8,186.0 534.5,189.5 535.4,187.5 536.3,190.0 537.3,188.0 538.3,190.5 539.3,188.0 540.0,184.0 540.7,180.5 541.6,178.5 542.6,180.5 543.4,184.0 544.5,198.0 546.2,215.0 547.6,232.0 548.3,245.0 550.7,275.5 549.5,279.5 547.7,268.0 546.7,255.0 545.7,240.0 544.6,228.0 543.2,233.0 542.2,240.0 541.2,229.0 540.2,226.0 539.2,237.0 538.2,242.0 537.3,229.0 536.3,239.0 535.3,244.0 534.4,231.0 533.3,236.0 532.4,233.0 532.0,262.0 530.0,260.5 528.0,259.5 525.4,264.5" fill="#fff" stroke="#fff" stroke-width="0.6"/><polygon points="554.5,277.5 555.8,277.0 556.1,225.0 556.5,168.0 557.1,166.2 558.9,166.2 559.5,168.0 560.1,225.0 560.2,278.0 561.6,279.2 561.6,281.5 554.5,280.5" fill="#fff" stroke="#fff" stroke-width="0.6"/><polyline points="550.0,277.3 565.0,280.2 580.0,282.6 596.0,285.0" stroke-width="2.8"/><polyline points="564.6,280.0 565.4,277.3 566.2,280.3" stroke-width="1.5"/><polyline points="589.8,284.0 590.6,281.0 591.4,284.3" stroke-width="1.5"/></g><text x="102.64" y="15.60" font-size="17.64" textLength="157.73" lengthAdjust="spacingAndGlyphs" fill="#000">5.2 (Tile052=52) X</text><text x="383.26" y="15.60" font-size="17.64" textLength="156.49" lengthAdjust="spacingAndGlyphs" fill="#000">5.2 (Tile052=52) Y</text><text x="14.04" y="41.26" font-size="13.23" textLength="17.76" lengthAdjust="spacingAndGlyphs" fill="#000">On</text><text x="612.30" y="41.26" font-size="13.23" textLength="17.76" lengthAdjust="spacingAndGlyphs" fill="#000">On</text><text x="24.16" y="57.99" font-size="13.23" textLength="7.64" lengthAdjust="spacingAndGlyphs" fill="#000">Y</text><text x="612.30" y="57.99" font-size="13.23" textLength="7.64" lengthAdjust="spacingAndGlyphs" fill="#000">Y</text><text x="13.35" y="74.72" font-size="13.23" textLength="18.45" lengthAdjust="spacingAndGlyphs" fill="#000">Off</text><text x="612.30" y="74.72" font-size="13.23" textLength="18.45" lengthAdjust="spacingAndGlyphs" fill="#000">Off</text><text x="24.26" y="91.45" font-size="13.23" textLength="7.54" lengthAdjust="spacingAndGlyphs" fill="#000">P</text><text x="612.30" y="91.45" font-size="13.23" textLength="7.54" lengthAdjust="spacingAndGlyphs" fill="#000">P</text><text x="21.96" y="108.17" font-size="13.23" textLength="9.84" lengthAdjust="spacingAndGlyphs" fill="#000">O</text><text x="612.30" y="108.17" font-size="13.23" textLength="9.84" lengthAdjust="spacingAndGlyphs" fill="#000">O</text><text x="22.45" y="124.90" font-size="13.23" textLength="9.35" lengthAdjust="spacingAndGlyphs" fill="#000">N</text><text x="612.30" y="124.90" font-size="13.23" textLength="9.35" lengthAdjust="spacingAndGlyphs" fill="#000">N</text><text x="21.01" y="141.63" font-size="13.23" textLength="10.79" lengthAdjust="spacingAndGlyphs" fill="#000">M</text><text x="612.30" y="141.63" font-size="13.23" textLength="10.79" lengthAdjust="spacingAndGlyphs" fill="#000">M</text><text x="24.84" y="158.35" font-size="13.23" textLength="6.96" lengthAdjust="spacingAndGlyphs" fill="#000">L</text><text x="612.30" y="158.35" font-size="13.23" textLength="6.96" lengthAdjust="spacingAndGlyphs" fill="#000">L</text><text x="23.60" y="175.08" font-size="13.23" textLength="8.20" lengthAdjust="spacingAndGlyphs" fill="#000">K</text><text x="612.30" y="175.08" font-size="13.23" textLength="8.20" lengthAdjust="spacingAndGlyphs" fill="#000">K</text><text x="28.11" y="191.81" font-size="13.23" textLength="3.69" lengthAdjust="spacingAndGlyphs" fill="#000">J</text><text x="612.30" y="191.81" font-size="13.23" textLength="3.69" lengthAdjust="spacingAndGlyphs" fill="#000">J</text><text x="28.11" y="208.54" font-size="13.23" textLength="3.69" lengthAdjust="spacingAndGlyphs" fill="#000">I</text><text x="612.30" y="208.54" font-size="13.23" textLength="3.69" lengthAdjust="spacingAndGlyphs" fill="#000">I</text><text x="22.40" y="225.26" font-size="13.23" textLength="9.40" lengthAdjust="spacingAndGlyphs" fill="#000">H</text><text x="612.30" y="225.26" font-size="13.23" textLength="9.40" lengthAdjust="spacingAndGlyphs" fill="#000">H</text><text x="22.11" y="241.99" font-size="13.23" textLength="9.69" lengthAdjust="spacingAndGlyphs" fill="#000">G</text><text x="612.30" y="241.99" font-size="13.23" textLength="9.69" lengthAdjust="spacingAndGlyphs" fill="#000">G</text><text x="24.61" y="258.72" font-size="13.23" textLength="7.19" lengthAdjust="spacingAndGlyphs" fill="#000">F</text><text x="612.30" y="258.72" font-size="13.23" textLength="7.19" lengthAdjust="spacingAndGlyphs" fill="#000">F</text><text x="23.90" y="275.45" font-size="13.23" textLength="7.90" lengthAdjust="spacingAndGlyphs" fill="#000">E</text><text x="612.30" y="275.45" font-size="13.23" textLength="7.90" lengthAdjust="spacingAndGlyphs" fill="#000">E</text><text x="22.18" y="292.17" font-size="13.23" textLength="9.62" lengthAdjust="spacingAndGlyphs" fill="#000">D</text><text x="612.30" y="292.17" font-size="13.23" textLength="9.62" lengthAdjust="spacingAndGlyphs" fill="#000">D</text><text x="23.07" y="308.90" font-size="13.23" textLength="8.73" lengthAdjust="spacingAndGlyphs" fill="#000">C</text><text x="612.30" y="308.90" font-size="13.23" textLength="8.73" lengthAdjust="spacingAndGlyphs" fill="#000">C</text><text x="23.22" y="325.63" font-size="13.23" textLength="8.58" lengthAdjust="spacingAndGlyphs" fill="#000">B</text><text x="612.30" y="325.63" font-size="13.23" textLength="8.58" lengthAdjust="spacingAndGlyphs" fill="#000">B</text><text x="23.25" y="342.35" font-size="13.23" textLength="8.55" lengthAdjust="spacingAndGlyphs" fill="#000">A</text><text x="612.30" y="342.35" font-size="13.23" textLength="8.55" lengthAdjust="spacingAndGlyphs" fill="#000">A</text><text x="13.35" y="359.08" font-size="13.23" textLength="18.45" lengthAdjust="spacingAndGlyphs" fill="#000">Off</text><text x="612.30" y="359.08" font-size="13.23" textLength="18.45" lengthAdjust="spacingAndGlyphs" fill="#000">Off</text><text x="23.24" y="375.81" font-size="13.23" textLength="8.56" lengthAdjust="spacingAndGlyphs" fill="#000">X</text><text x="612.30" y="375.81" font-size="13.23" textLength="8.56" lengthAdjust="spacingAndGlyphs" fill="#000">X</text><text x="14.04" y="392.54" font-size="13.23" textLength="17.76" lengthAdjust="spacingAndGlyphs" fill="#000">On</text><text x="612.30" y="392.54" font-size="13.23" textLength="17.76" lengthAdjust="spacingAndGlyphs" fill="#000">On</text><text x="21.02" y="49.10" font-size="14.70" textLength="17.68" lengthAdjust="spacingAndGlyphs" fill="#fff">25</text><text x="21.02" y="97.10" font-size="14.70" textLength="17.68" lengthAdjust="spacingAndGlyphs" fill="#fff">20</text><text x="21.02" y="145.10" font-size="14.70" textLength="17.68" lengthAdjust="spacingAndGlyphs" fill="#fff">15</text><text x="21.02" y="193.10" font-size="14.70" textLength="17.68" lengthAdjust="spacingAndGlyphs" fill="#fff">10</text><text x="29.86" y="241.10" font-size="14.70" textLength="8.84" lengthAdjust="spacingAndGlyphs" fill="#fff">5</text><text x="29.86" y="289.10" font-size="14.70" textLength="8.84" lengthAdjust="spacingAndGlyphs" fill="#fff">0</text><g transform="translate(3.2,217.8) rotate(-90)"><text x="-19.92" y="0.00" font-size="13.23" textLength="39.84" lengthAdjust="spacingAndGlyphs" fill="#000">Dipole</text></g><rect x="49" y="408" width="1" height="5.5" fill="#000"/><text x="46.05" y="426.00" font-size="10.90" textLength="5.70" lengthAdjust="spacingAndGlyphs" fill="#000">0</text><rect x="89" y="408" width="1" height="5.5" fill="#000"/><text x="83.89" y="426.00" font-size="10.90" textLength="11.40" lengthAdjust="spacingAndGlyphs" fill="#000">50</text><rect x="130" y="408" width="1" height="5.5" fill="#000"/><text x="121.73" y="426.00" font-size="10.90" textLength="17.10" lengthAdjust="spacingAndGlyphs" fill="#000">100</text><rect x="171" y="408" width="1" height="5.5" fill="#000"/><text x="162.42" y="426.00" font-size="10.90" textLength="17.10" lengthAdjust="spacingAndGlyphs" fill="#000">150</text><rect x="211" y="408" width="1" height="5.5" fill="#000"/><text x="203.11" y="426.00" font-size="10.90" textLength="17.10" lengthAdjust="spacingAndGlyphs" fill="#000">200</text><rect x="252" y="408" width="1" height="5.5" fill="#000"/><text x="243.80" y="426.00" font-size="10.90" textLength="17.10" lengthAdjust="spacingAndGlyphs" fill="#000">250</text><rect x="293" y="408" width="1" height="5.5" fill="#000"/><text x="284.49" y="426.00" font-size="10.90" textLength="17.10" lengthAdjust="spacingAndGlyphs" fill="#000">300</text><rect x="329" y="408" width="1" height="5.5" fill="#000"/><text x="326.05" y="426.00" font-size="10.90" textLength="5.70" lengthAdjust="spacingAndGlyphs" fill="#000">0</text><rect x="369" y="408" width="1" height="5.5" fill="#000"/><text x="363.89" y="426.00" font-size="10.90" textLength="11.40" lengthAdjust="spacingAndGlyphs" fill="#000">50</text><rect x="410" y="408" width="1" height="5.5" fill="#000"/><text x="401.73" y="426.00" font-size="10.90" textLength="17.10" lengthAdjust="spacingAndGlyphs" fill="#000">100</text><rect x="451" y="408" width="1" height="5.5" fill="#000"/><text x="442.42" y="426.00" font-size="10.90" textLength="17.10" lengthAdjust="spacingAndGlyphs" fill="#000">150</text><rect x="491" y="408" width="1" height="5.5" fill="#000"/><text x="483.11" y="426.00" font-size="10.90" textLength="17.10" lengthAdjust="spacingAndGlyphs" fill="#000">200</text><rect x="532" y="408" width="1" height="5.5" fill="#000"/><text x="523.80" y="426.00" font-size="10.90" textLength="17.10" lengthAdjust="spacingAndGlyphs" fill="#000">250</text><rect x="573" y="408" width="1" height="5.5" fill="#000"/><text x="564.49" y="426.00" font-size="10.90" textLength="17.10" lengthAdjust="spacingAndGlyphs" fill="#000">300</text><rect x="69.3" y="43.15" width="5.6" height="1.05" fill="#fff"/><text x="78.80" y="49.10" font-size="14.70" textLength="17.68" lengthAdjust="spacingAndGlyphs" fill="#fff">25</text><rect x="69.3" y="91.15" width="5.6" height="1.05" fill="#fff"/><text x="78.80" y="97.10" font-size="14.70" textLength="17.68" lengthAdjust="spacingAndGlyphs" fill="#fff">20</text><rect x="69.3" y="139.15" width="5.6" height="1.05" fill="#fff"/><text x="78.80" y="145.10" font-size="14.70" textLength="17.68" lengthAdjust="spacingAndGlyphs" fill="#fff">15</text><rect x="69.3" y="187.15" width="5.6" height="1.05" fill="#fff"/><text x="78.80" y="193.10" font-size="14.70" textLength="17.68" lengthAdjust="spacingAndGlyphs" fill="#fff">10</text><rect x="69.3" y="235.15" width="5.6" height="1.05" fill="#fff"/><text x="78.80" y="241.10" font-size="14.70" textLength="8.84" lengthAdjust="spacingAndGlyphs" fill="#fff">5</text><text x="79.90" y="289.10" font-size="14.70" textLength="8.84" lengthAdjust="spacingAndGlyphs" fill="#fff">0</text><rect x="350" y="43.15" width="5.6" height="1.05" fill="#fff"/><text x="358.80" y="49.10" font-size="14.70" textLength="17.68" lengthAdjust="spacingAndGlyphs" fill="#fff">25</text><rect x="350" y="91.15" width="5.6" height="1.05" fill="#fff"/><text x="358.80" y="97.10" font-size="14.70" textLength="17.68" lengthAdjust="spacingAndGlyphs" fill="#fff">20</text><rect x="350" y="139.15" width="5.6" height="1.05" fill="#fff"/><text x="358.80" y="145.10" font-size="14.70" textLength="17.68" lengthAdjust="spacingAndGlyphs" fill="#fff">15</text><rect x="350" y="187.15" width="5.6" height="1.05" fill="#fff"/><text x="358.80" y="193.10" font-size="14.70" textLength="17.68" lengthAdjust="spacingAndGlyphs" fill="#fff">10</text><rect x="350" y="235.15" width="5.6" height="1.05" fill="#fff"/><text x="358.80" y="241.10" font-size="14.70" textLength="8.84" lengthAdjust="spacingAndGlyphs" fill="#fff">5</text><text x="359.90" y="289.10" font-size="14.70" textLength="8.84" lengthAdjust="spacingAndGlyphs" fill="#fff">0</text><g clip-path="url(#c1)"><text x="301.00" y="49.10" font-size="14.70" textLength="17.68" lengthAdjust="spacingAndGlyphs" fill="#fff">25</text><text x="301.00" y="97.10" font-size="14.70" textLength="17.68" lengthAdjust="spacingAndGlyphs" fill="#fff">20</text><text x="301.00" y="145.10" font-size="14.70" textLength="17.68" lengthAdjust="spacingAndGlyphs" fill="#fff">15</text><text x="301.00" y="193.10" font-size="14.70" textLength="17.68" lengthAdjust="spacingAndGlyphs" fill="#fff">10</text><text x="309.80" y="241.10" font-size="14.70" textLength="8.84" lengthAdjust="spacingAndGlyphs" fill="#fff">5</text><text x="309.80" y="289.10" font-size="14.70" textLength="8.84" lengthAdjust="spacingAndGlyphs" fill="#fff">0</text></g></svg>
</body></html>
